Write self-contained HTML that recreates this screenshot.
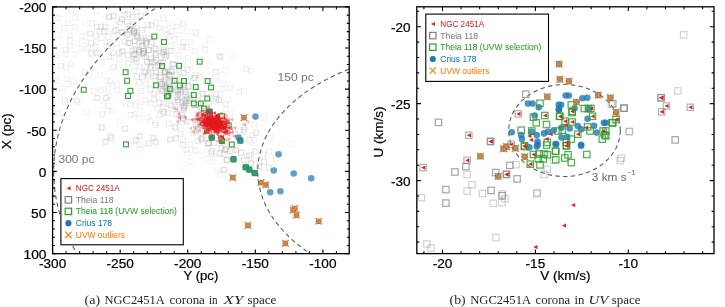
<!DOCTYPE html><html><head><meta charset="utf-8"><style>html,body{margin:0;padding:0;background:#fff;width:725px;height:307px;overflow:hidden}</style></head><body><svg width="725" height="307" viewBox="0 0 725 307" style="display:block;font-family:'Liberation Sans', sans-serif;will-change:transform">
<rect width="725" height="307" fill="#fff"/>
<g clip-path="url(#clipL)">
<clipPath id="clipL"><rect x="52.6" y="6.9" width="296.59999999999997" height="246.75"/></clipPath>
<path d="M658.34 171.40L658.31 173.53L658.22 175.65L658.07 177.78L657.85 179.90L657.58 182.02L657.25 184.14L656.85 186.26L656.39 188.36L655.88 190.47L655.30 192.57L654.66 194.66L653.97 196.74L653.21 198.82L652.39 200.89L651.52 202.95L650.58 205.00L649.59 207.04L648.54 209.07L647.43 211.08L646.26 213.09L645.04 215.08L643.76 217.06L642.42 219.03L641.03 220.98L639.58 222.91L638.07 224.84L636.51 226.74L634.90 228.63L633.23 230.50L631.51 232.35L629.73 234.18L627.91 235.99L626.03 237.79L624.10 239.56L622.12 241.32L620.09 243.05L618.01 244.76L615.88 246.45L613.71 248.11L611.48 249.75L609.21 251.37L606.90 252.96L604.53 254.53L602.13 256.08L599.68 257.59L597.18 259.08L594.65 260.55L592.07 261.99L589.45 263.39L586.80 264.78L584.10 266.13L581.36 267.45L578.59 268.75L575.78 270.01L572.93 271.25L570.05 272.46L567.14 273.63L564.19 274.77L561.21 275.88L558.20 276.96L555.15 278.01L552.08 279.03L548.98 280.01L545.85 280.96L542.70 281.87L539.52 282.76L536.31 283.60L533.08 284.42L529.83 285.20L526.55 285.94L523.26 286.65L519.94 287.33L516.61 287.97L513.26 288.57L509.89 289.14L506.51 289.67L503.11 290.17L499.69 290.63L496.27 291.05L492.83 291.44L489.38 291.79L485.93 292.11L482.46 292.39L478.99 292.63L475.51 292.83L472.02 293.00L468.53 293.13L465.04 293.22L461.55 293.28L458.05 293.29L454.55 293.28L451.06 293.22L447.57 293.13L444.08 293.00L440.59 292.83L437.11 292.63L433.64 292.39L430.17 292.11L426.72 291.79L423.27 291.44L419.83 291.05L416.41 290.63L412.99 290.17L409.59 289.67L406.21 289.14L402.84 288.57L399.49 287.97L396.16 287.33L392.84 286.65L389.55 285.94L386.27 285.20L383.02 284.42L379.79 283.60L376.58 282.76L373.40 281.87L370.25 280.96L367.12 280.01L364.02 279.03L360.95 278.01L357.90 276.96L354.89 275.88L351.91 274.77L348.96 273.63L346.05 272.46L343.17 271.25L340.32 270.01L337.51 268.75L334.74 267.45L332.00 266.13L329.30 264.78L326.65 263.39L324.03 261.99L321.45 260.55L318.92 259.08L316.42 257.59L313.97 256.08L311.57 254.53L309.20 252.96L306.89 251.37L304.62 249.75L302.39 248.11L300.22 246.45L298.09 244.76L296.01 243.05L293.98 241.32L292.00 239.56L290.07 237.79L288.19 235.99L286.37 234.18L284.59 232.35L282.87 230.50L281.20 228.63L279.59 226.74L278.03 224.84L276.52 222.91L275.07 220.98L273.68 219.03L272.34 217.06L271.06 215.08L269.84 213.09L268.67 211.08L267.56 209.07L266.51 207.04L265.52 205.00L264.58 202.95L263.71 200.89L262.89 198.82L262.13 196.74L261.44 194.66L260.80 192.57L260.22 190.47L259.71 188.36L259.25 186.26L258.85 184.14L258.52 182.02L258.25 179.90L258.03 177.78L257.88 175.65L257.79 173.53L257.76 171.40L257.79 169.27L257.88 167.15L258.03 165.02L258.25 162.90L258.52 160.78L258.85 158.66L259.25 156.54L259.71 154.44L260.22 152.33L260.80 150.23L261.44 148.14L262.13 146.06L262.89 143.98L263.71 141.91L264.58 139.85L265.52 137.80L266.51 135.76L267.56 133.73L268.67 131.72L269.84 129.71L271.06 127.72L272.34 125.74L273.68 123.77L275.07 121.82L276.52 119.89L278.03 117.96L279.59 116.06L281.20 114.17L282.87 112.30L284.59 110.45L286.37 108.62L288.19 106.81L290.07 105.01L292.00 103.24L293.98 101.48L296.01 99.75L298.09 98.04L300.22 96.35L302.39 94.69L304.62 93.05L306.89 91.43L309.20 89.84L311.57 88.27L313.97 86.72L316.42 85.21L318.92 83.72L321.45 82.25L324.03 80.81L326.65 79.41L329.30 78.02L332.00 76.67L334.74 75.35L337.51 74.05L340.32 72.79L343.17 71.55L346.05 70.34L348.96 69.17L351.91 68.03L354.89 66.92L357.90 65.84L360.95 64.79L364.02 63.77L367.12 62.79L370.25 61.84L373.40 60.93L376.58 60.04L379.79 59.20L383.02 58.38L386.27 57.60L389.55 56.86L392.84 56.15L396.16 55.47L399.49 54.83L402.84 54.23L406.21 53.66L409.59 53.13L412.99 52.63L416.41 52.17L419.83 51.75L423.27 51.36L426.72 51.01L430.17 50.69L433.64 50.41L437.11 50.17L440.59 49.97L444.08 49.80L447.57 49.67L451.06 49.58L454.55 49.52L458.05 49.51L461.55 49.52L465.04 49.58L468.53 49.67L472.02 49.80L475.51 49.97L478.99 50.17L482.46 50.41L485.93 50.69L489.38 51.01L492.83 51.36L496.27 51.75L499.69 52.17L503.11 52.63L506.51 53.13L509.89 53.66L513.26 54.23L516.61 54.83L519.94 55.47L523.26 56.15L526.55 56.86L529.83 57.60L533.08 58.38L536.31 59.20L539.52 60.04L542.70 60.93L545.85 61.84L548.98 62.79L552.08 63.77L555.15 64.79L558.20 65.84L561.21 66.92L564.19 68.03L567.14 69.17L570.05 70.34L572.93 71.55L575.78 72.79L578.59 74.05L581.36 75.35L584.10 76.67L586.80 78.02L589.45 79.41L592.07 80.81L594.65 82.25L597.18 83.72L599.68 85.21L602.13 86.72L604.53 88.27L606.90 89.84L609.21 91.43L611.48 93.05L613.71 94.69L615.88 96.35L618.01 98.04L620.09 99.75L622.12 101.48L624.10 103.24L626.03 105.01L627.91 106.81L629.73 108.62L631.51 110.45L633.23 112.30L634.90 114.17L636.51 116.06L638.07 117.96L639.58 119.89L641.03 121.82L642.42 123.77L643.76 125.74L645.04 127.72L646.26 129.71L647.43 131.72L648.54 133.73L649.59 135.76L650.58 137.80L651.52 139.85L652.39 141.91L653.21 143.98L653.97 146.06L654.66 148.14L655.30 150.23L655.88 152.33L656.39 154.44L656.85 156.54L657.25 158.66L657.58 160.78L657.85 162.90L658.07 165.02L658.22 167.15L658.31 169.27L658.34 171.40" fill="none" stroke="#555" stroke-width="1.05" stroke-dasharray="4.4 3.3"/>
<path d="M862.42 171.40L862.36 175.69L862.17 179.99L861.86 184.28L861.43 188.57L860.88 192.85L860.20 197.12L859.40 201.39L858.48 205.65L857.44 209.90L856.28 214.13L854.99 218.36L853.58 222.57L852.05 226.76L850.41 230.94L848.64 235.09L846.75 239.23L844.75 243.35L842.63 247.45L840.39 251.52L838.03 255.57L835.56 259.59L832.97 263.59L830.27 267.56L827.46 271.49L824.53 275.40L821.49 279.28L818.35 283.12L815.09 286.93L811.72 290.71L808.24 294.45L804.66 298.15L800.97 301.81L797.18 305.43L793.29 309.01L789.29 312.55L785.19 316.05L780.99 319.50L776.70 322.91L772.30 326.27L767.81 329.58L763.23 332.85L758.55 336.07L753.79 339.23L748.93 342.35L743.98 345.41L738.95 348.42L733.83 351.38L728.63 354.28L723.34 357.13L717.97 359.92L712.53 362.65L707.00 365.32L701.41 367.94L695.73 370.49L689.99 372.99L684.17 375.42L678.29 377.79L672.33 380.10L666.32 382.34L660.23 384.52L654.09 386.64L647.89 388.69L641.63 390.67L635.31 392.59L628.94 394.44L622.52 396.22L616.05 397.93L609.53 399.57L602.96 401.15L596.35 402.65L589.70 404.08L583.01 405.45L576.28 406.74L569.51 407.96L562.71 409.11L555.88 410.18L549.01 411.18L542.12 412.11L535.21 412.97L528.27 413.75L521.31 414.46L514.33 415.10L507.33 415.66L500.32 416.14L493.29 416.56L486.26 416.89L479.21 417.15L472.16 417.34L465.11 417.45L458.05 417.49L450.99 417.45L443.94 417.34L436.89 417.15L429.84 416.89L422.81 416.56L415.78 416.14L408.77 415.66L401.77 415.10L394.79 414.46L387.83 413.75L380.89 412.97L373.98 412.11L367.09 411.18L360.22 410.18L353.39 409.11L346.59 407.96L339.82 406.74L333.09 405.45L326.40 404.08L319.75 402.65L313.14 401.15L306.57 399.57L300.05 397.93L293.58 396.22L287.16 394.44L280.79 392.59L274.47 390.67L268.21 388.69L262.01 386.64L255.87 384.52L249.78 382.34L243.77 380.10L237.81 377.79L231.93 375.42L226.11 372.99L220.37 370.49L214.69 367.94L209.10 365.32L203.57 362.65L198.13 359.92L192.76 357.13L187.47 354.28L182.27 351.38L177.15 348.42L172.12 345.41L167.17 342.35L162.31 339.23L157.55 336.07L152.87 332.85L148.29 329.58L143.80 326.27L139.40 322.91L135.11 319.50L130.91 316.05L126.81 312.55L122.81 309.01L118.92 305.43L115.13 301.81L111.44 298.15L107.86 294.45L104.38 290.71L101.01 286.93L97.75 283.12L94.61 279.28L91.57 275.40L88.64 271.49L85.83 267.56L83.13 263.59L80.54 259.59L78.07 255.57L75.71 251.52L73.47 247.45L71.35 243.35L69.35 239.23L67.46 235.09L65.69 230.94L64.05 226.76L62.52 222.57L61.11 218.36L59.82 214.13L58.66 209.90L57.62 205.65L56.70 201.39L55.90 197.12L55.22 192.85L54.67 188.57L54.24 184.28L53.93 179.99L53.74 175.69L53.68 171.40L53.74 167.11L53.93 162.81L54.24 158.52L54.67 154.23L55.22 149.95L55.90 145.68L56.70 141.41L57.62 137.15L58.66 132.90L59.82 128.67L61.11 124.44L62.52 120.23L64.05 116.04L65.69 111.86L67.46 107.71L69.35 103.57L71.35 99.45L73.47 95.35L75.71 91.28L78.07 87.23L80.54 83.21L83.13 79.21L85.83 75.24L88.64 71.31L91.57 67.40L94.61 63.52L97.75 59.68L101.01 55.87L104.38 52.09L107.86 48.35L111.44 44.65L115.13 40.99L118.92 37.37L122.81 33.79L126.81 30.25L130.91 26.75L135.11 23.30L139.40 19.89L143.80 16.53L148.29 13.22L152.87 9.95L157.55 6.73L162.31 3.57L167.17 0.45L172.12 -2.61L177.15 -5.62L182.27 -8.58L187.47 -11.48L192.76 -14.33L198.13 -17.12L203.57 -19.85L209.10 -22.52L214.69 -25.14L220.37 -27.69L226.11 -30.19L231.93 -32.62L237.81 -34.99L243.77 -37.30L249.78 -39.54L255.87 -41.72L262.01 -43.84L268.21 -45.89L274.47 -47.87L280.79 -49.79L287.16 -51.64L293.58 -53.42L300.05 -55.13L306.57 -56.77L313.14 -58.35L319.75 -59.85L326.40 -61.28L333.09 -62.65L339.82 -63.94L346.59 -65.16L353.39 -66.31L360.22 -67.38L367.09 -68.38L373.98 -69.31L380.89 -70.17L387.83 -70.95L394.79 -71.66L401.77 -72.30L408.77 -72.86L415.78 -73.34L422.81 -73.76L429.84 -74.09L436.89 -74.35L443.94 -74.54L450.99 -74.65L458.05 -74.69L465.11 -74.65L472.16 -74.54L479.21 -74.35L486.26 -74.09L493.29 -73.76L500.32 -73.34L507.33 -72.86L514.33 -72.30L521.31 -71.66L528.27 -70.95L535.21 -70.17L542.12 -69.31L549.01 -68.38L555.88 -67.38L562.71 -66.31L569.51 -65.16L576.28 -63.94L583.01 -62.65L589.70 -61.28L596.35 -59.85L602.96 -58.35L609.53 -56.77L616.05 -55.13L622.52 -53.42L628.94 -51.64L635.31 -49.79L641.63 -47.87L647.89 -45.89L654.09 -43.84L660.23 -41.72L666.32 -39.54L672.33 -37.30L678.29 -34.99L684.17 -32.62L689.99 -30.19L695.73 -27.69L701.41 -25.14L707.00 -22.52L712.53 -19.85L717.97 -17.12L723.34 -14.33L728.63 -11.48L733.83 -8.58L738.95 -5.62L743.98 -2.61L748.93 0.45L753.79 3.57L758.55 6.73L763.23 9.95L767.81 13.22L772.30 16.53L776.70 19.89L780.99 23.30L785.19 26.75L789.29 30.25L793.29 33.79L797.18 37.37L800.97 40.99L804.66 44.65L808.24 48.35L811.72 52.09L815.09 55.87L818.35 59.68L821.49 63.52L824.53 67.40L827.46 71.31L830.27 75.24L832.97 79.21L835.56 83.21L838.03 87.23L840.39 91.28L842.63 95.35L844.75 99.45L846.75 103.57L848.64 107.71L850.41 111.86L852.05 116.04L853.58 120.23L854.99 124.44L856.28 128.67L857.44 132.90L858.48 137.15L859.40 141.41L860.20 145.68L860.88 149.95L861.43 154.23L861.86 158.52L862.17 162.81L862.36 167.11L862.42 171.40" fill="none" stroke="#555" stroke-width="1.05" stroke-dasharray="4.4 3.3"/>
</g>
<rect x="55.8" y="15.7" width="4.8" height="4.8" fill="none" stroke="#7f7f7f" stroke-opacity="0.11" stroke-width="1.1"/>
<rect x="72.4" y="15.2" width="4.8" height="4.8" fill="none" stroke="#7f7f7f" stroke-opacity="0.12" stroke-width="1.1"/>
<rect x="65.1" y="20.9" width="4.8" height="4.8" fill="none" stroke="#7f7f7f" stroke-opacity="0.12" stroke-width="1.1"/>
<rect x="61.8" y="25.8" width="4.8" height="4.8" fill="none" stroke="#7f7f7f" stroke-opacity="0.10" stroke-width="1.1"/>
<rect x="72.4" y="24.5" width="4.8" height="4.8" fill="none" stroke="#7f7f7f" stroke-opacity="0.09" stroke-width="1.1"/>
<rect x="89.6" y="20.9" width="4.8" height="4.8" fill="none" stroke="#7f7f7f" stroke-opacity="0.14" stroke-width="1.1"/>
<rect x="94.4" y="24.5" width="4.8" height="4.8" fill="none" stroke="#7f7f7f" stroke-opacity="0.15" stroke-width="1.1"/>
<rect x="98.5" y="24.2" width="4.8" height="4.8" fill="none" stroke="#7f7f7f" stroke-opacity="0.18" stroke-width="1.1"/>
<rect x="102.6" y="24.2" width="4.8" height="4.8" fill="none" stroke="#7f7f7f" stroke-opacity="0.20" stroke-width="1.1"/>
<rect x="96.9" y="29.1" width="4.8" height="4.8" fill="none" stroke="#7f7f7f" stroke-opacity="0.15" stroke-width="1.1"/>
<rect x="101.8" y="29.1" width="4.8" height="4.8" fill="none" stroke="#7f7f7f" stroke-opacity="0.17" stroke-width="1.1"/>
<rect x="106.7" y="14.4" width="4.8" height="4.8" fill="none" stroke="#7f7f7f" stroke-opacity="0.25" stroke-width="1.1"/>
<rect x="55.3" y="32.0" width="4.8" height="4.8" fill="none" stroke="#7f7f7f" stroke-opacity="0.10" stroke-width="1.1"/>
<rect x="67.5" y="33.1" width="4.8" height="4.8" fill="none" stroke="#7f7f7f" stroke-opacity="0.11" stroke-width="1.1"/>
<rect x="79.8" y="33.9" width="4.8" height="4.8" fill="none" stroke="#7f7f7f" stroke-opacity="0.10" stroke-width="1.1"/>
<rect x="87.9" y="31.5" width="4.8" height="4.8" fill="none" stroke="#7f7f7f" stroke-opacity="0.14" stroke-width="1.1"/>
<rect x="93.6" y="33.1" width="4.8" height="4.8" fill="none" stroke="#7f7f7f" stroke-opacity="0.11" stroke-width="1.1"/>
<rect x="99.3" y="35.6" width="4.8" height="4.8" fill="none" stroke="#7f7f7f" stroke-opacity="0.15" stroke-width="1.1"/>
<rect x="105.9" y="34.8" width="4.8" height="4.8" fill="none" stroke="#7f7f7f" stroke-opacity="0.15" stroke-width="1.1"/>
<rect x="67.5" y="38.0" width="4.8" height="4.8" fill="none" stroke="#7f7f7f" stroke-opacity="0.12" stroke-width="1.1"/>
<rect x="74.9" y="41.3" width="4.8" height="4.8" fill="none" stroke="#7f7f7f" stroke-opacity="0.10" stroke-width="1.1"/>
<rect x="83.0" y="38.8" width="4.8" height="4.8" fill="none" stroke="#7f7f7f" stroke-opacity="0.11" stroke-width="1.1"/>
<rect x="88.7" y="40.5" width="4.8" height="4.8" fill="none" stroke="#7f7f7f" stroke-opacity="0.13" stroke-width="1.1"/>
<rect x="93.6" y="39.6" width="4.8" height="4.8" fill="none" stroke="#7f7f7f" stroke-opacity="0.10" stroke-width="1.1"/>
<rect x="67.5" y="43.7" width="4.8" height="4.8" fill="none" stroke="#7f7f7f" stroke-opacity="0.09" stroke-width="1.1"/>
<rect x="92.8" y="44.6" width="4.8" height="4.8" fill="none" stroke="#7f7f7f" stroke-opacity="0.13" stroke-width="1.1"/>
<rect x="63.5" y="47.3" width="4.8" height="4.8" fill="none" stroke="#7f7f7f" stroke-opacity="0.11" stroke-width="1.1"/>
<rect x="78.9" y="46.2" width="4.8" height="4.8" fill="none" stroke="#7f7f7f" stroke-opacity="0.09" stroke-width="1.1"/>
<rect x="85.5" y="45.4" width="4.8" height="4.8" fill="none" stroke="#7f7f7f" stroke-opacity="0.13" stroke-width="1.1"/>
<rect x="104.2" y="43.7" width="4.8" height="4.8" fill="none" stroke="#7f7f7f" stroke-opacity="0.15" stroke-width="1.1"/>
<rect x="107.5" y="41.3" width="4.8" height="4.8" fill="none" stroke="#7f7f7f" stroke-opacity="0.13" stroke-width="1.1"/>
<rect x="53.7" y="52.7" width="4.8" height="4.8" fill="none" stroke="#7f7f7f" stroke-opacity="0.11" stroke-width="1.1"/>
<rect x="72.4" y="51.9" width="4.8" height="4.8" fill="none" stroke="#7f7f7f" stroke-opacity="0.10" stroke-width="1.1"/>
<rect x="88.7" y="51.1" width="4.8" height="4.8" fill="none" stroke="#7f7f7f" stroke-opacity="0.10" stroke-width="1.1"/>
<rect x="95.3" y="51.1" width="4.8" height="4.8" fill="none" stroke="#7f7f7f" stroke-opacity="0.12" stroke-width="1.1"/>
<rect x="111.1" y="13.6" width="4.8" height="4.8" fill="none" stroke="#7f7f7f" stroke-opacity="0.24" stroke-width="1.1"/>
<rect x="119.3" y="16.8" width="4.8" height="4.8" fill="none" stroke="#7f7f7f" stroke-opacity="0.26" stroke-width="1.1"/>
<rect x="125.8" y="11.9" width="4.8" height="4.8" fill="none" stroke="#7f7f7f" stroke-opacity="0.20" stroke-width="1.1"/>
<rect x="133.9" y="9.5" width="4.8" height="4.8" fill="none" stroke="#7f7f7f" stroke-opacity="0.16" stroke-width="1.1"/>
<rect x="138.8" y="13.6" width="4.8" height="4.8" fill="none" stroke="#7f7f7f" stroke-opacity="0.18" stroke-width="1.1"/>
<rect x="111.9" y="29.1" width="4.8" height="4.8" fill="none" stroke="#7f7f7f" stroke-opacity="0.21" stroke-width="1.1"/>
<rect x="119.3" y="29.9" width="4.8" height="4.8" fill="none" stroke="#7f7f7f" stroke-opacity="0.23" stroke-width="1.1"/>
<rect x="125.0" y="32.3" width="4.8" height="4.8" fill="none" stroke="#7f7f7f" stroke-opacity="0.25" stroke-width="1.1"/>
<rect x="131.5" y="29.9" width="4.8" height="4.8" fill="none" stroke="#7f7f7f" stroke-opacity="0.25" stroke-width="1.1"/>
<rect x="134.8" y="33.1" width="4.8" height="4.8" fill="none" stroke="#7f7f7f" stroke-opacity="0.24" stroke-width="1.1"/>
<rect x="139.6" y="27.4" width="4.8" height="4.8" fill="none" stroke="#7f7f7f" stroke-opacity="0.19" stroke-width="1.1"/>
<rect x="145.4" y="22.5" width="4.8" height="4.8" fill="none" stroke="#7f7f7f" stroke-opacity="0.18" stroke-width="1.1"/>
<rect x="153.5" y="20.1" width="4.8" height="4.8" fill="none" stroke="#7f7f7f" stroke-opacity="0.15" stroke-width="1.1"/>
<rect x="156.8" y="25.8" width="4.8" height="4.8" fill="none" stroke="#7f7f7f" stroke-opacity="0.16" stroke-width="1.1"/>
<rect x="160.9" y="16.0" width="4.8" height="4.8" fill="none" stroke="#7f7f7f" stroke-opacity="0.12" stroke-width="1.1"/>
<rect x="114.4" y="41.3" width="4.8" height="4.8" fill="none" stroke="#7f7f7f" stroke-opacity="0.17" stroke-width="1.1"/>
<rect x="125.8" y="40.5" width="4.8" height="4.8" fill="none" stroke="#7f7f7f" stroke-opacity="0.22" stroke-width="1.1"/>
<rect x="132.3" y="38.8" width="4.8" height="4.8" fill="none" stroke="#7f7f7f" stroke-opacity="0.26" stroke-width="1.1"/>
<rect x="139.6" y="43.7" width="4.8" height="4.8" fill="none" stroke="#7f7f7f" stroke-opacity="0.26" stroke-width="1.1"/>
<rect x="143.7" y="41.3" width="4.8" height="4.8" fill="none" stroke="#7f7f7f" stroke-opacity="0.23" stroke-width="1.1"/>
<rect x="136.4" y="47.8" width="4.8" height="4.8" fill="none" stroke="#7f7f7f" stroke-opacity="0.23" stroke-width="1.1"/>
<rect x="141.3" y="48.6" width="4.8" height="4.8" fill="none" stroke="#7f7f7f" stroke-opacity="0.24" stroke-width="1.1"/>
<rect x="146.2" y="47.8" width="4.8" height="4.8" fill="none" stroke="#7f7f7f" stroke-opacity="0.25" stroke-width="1.1"/>
<rect x="149.4" y="39.6" width="4.8" height="4.8" fill="none" stroke="#7f7f7f" stroke-opacity="0.23" stroke-width="1.1"/>
<rect x="131.5" y="51.9" width="4.8" height="4.8" fill="none" stroke="#7f7f7f" stroke-opacity="0.21" stroke-width="1.1"/>
<rect x="153.5" y="46.2" width="4.8" height="4.8" fill="none" stroke="#7f7f7f" stroke-opacity="0.20" stroke-width="1.1"/>
<rect x="160.0" y="50.3" width="4.8" height="4.8" fill="none" stroke="#7f7f7f" stroke-opacity="0.22" stroke-width="1.1"/>
<rect x="106.2" y="43.7" width="4.8" height="4.8" fill="none" stroke="#7f7f7f" stroke-opacity="0.14" stroke-width="1.1"/>
<rect x="111.1" y="50.3" width="4.8" height="4.8" fill="none" stroke="#7f7f7f" stroke-opacity="0.14" stroke-width="1.1"/>
<rect x="119.3" y="49.4" width="4.8" height="4.8" fill="none" stroke="#7f7f7f" stroke-opacity="0.16" stroke-width="1.1"/>
<rect x="166.1" y="20.9" width="4.8" height="4.8" fill="none" stroke="#7f7f7f" stroke-opacity="0.11" stroke-width="1.1"/>
<rect x="180.8" y="20.9" width="4.8" height="4.8" fill="none" stroke="#7f7f7f" stroke-opacity="0.11" stroke-width="1.1"/>
<rect x="174.3" y="24.2" width="4.8" height="4.8" fill="none" stroke="#7f7f7f" stroke-opacity="0.12" stroke-width="1.1"/>
<rect x="162.9" y="27.4" width="4.8" height="4.8" fill="none" stroke="#7f7f7f" stroke-opacity="0.11" stroke-width="1.1"/>
<rect x="169.4" y="29.1" width="4.8" height="4.8" fill="none" stroke="#7f7f7f" stroke-opacity="0.12" stroke-width="1.1"/>
<rect x="184.9" y="29.1" width="4.8" height="4.8" fill="none" stroke="#7f7f7f" stroke-opacity="0.10" stroke-width="1.1"/>
<rect x="193.0" y="29.9" width="4.8" height="4.8" fill="none" stroke="#7f7f7f" stroke-opacity="0.12" stroke-width="1.1"/>
<rect x="176.7" y="32.3" width="4.8" height="4.8" fill="none" stroke="#7f7f7f" stroke-opacity="0.10" stroke-width="1.1"/>
<rect x="166.9" y="33.9" width="4.8" height="4.8" fill="none" stroke="#7f7f7f" stroke-opacity="0.12" stroke-width="1.1"/>
<rect x="172.6" y="37.2" width="4.8" height="4.8" fill="none" stroke="#7f7f7f" stroke-opacity="0.12" stroke-width="1.1"/>
<rect x="180.8" y="39.7" width="4.8" height="4.8" fill="none" stroke="#7f7f7f" stroke-opacity="0.12" stroke-width="1.1"/>
<rect x="188.1" y="39.7" width="4.8" height="4.8" fill="none" stroke="#7f7f7f" stroke-opacity="0.09" stroke-width="1.1"/>
<rect x="169.4" y="43.7" width="4.8" height="4.8" fill="none" stroke="#7f7f7f" stroke-opacity="0.15" stroke-width="1.1"/>
<rect x="180.8" y="44.6" width="4.8" height="4.8" fill="none" stroke="#7f7f7f" stroke-opacity="0.11" stroke-width="1.1"/>
<rect x="202.8" y="42.1" width="4.8" height="4.8" fill="none" stroke="#7f7f7f" stroke-opacity="0.10" stroke-width="1.1"/>
<rect x="168.6" y="48.6" width="4.8" height="4.8" fill="none" stroke="#7f7f7f" stroke-opacity="0.16" stroke-width="1.1"/>
<rect x="192.2" y="48.6" width="4.8" height="4.8" fill="none" stroke="#7f7f7f" stroke-opacity="0.13" stroke-width="1.1"/>
<rect x="202.8" y="47.0" width="4.8" height="4.8" fill="none" stroke="#7f7f7f" stroke-opacity="0.11" stroke-width="1.1"/>
<rect x="161.2" y="49.4" width="4.8" height="4.8" fill="none" stroke="#7f7f7f" stroke-opacity="0.22" stroke-width="1.1"/>
<rect x="175.9" y="52.7" width="4.8" height="4.8" fill="none" stroke="#7f7f7f" stroke-opacity="0.14" stroke-width="1.1"/>
<rect x="216.7" y="53.5" width="4.8" height="4.8" fill="none" stroke="#7f7f7f" stroke-opacity="0.13" stroke-width="1.1"/>
<rect x="63.5" y="52.0" width="4.8" height="4.8" fill="none" stroke="#7f7f7f" stroke-opacity="0.10" stroke-width="1.1"/>
<rect x="58.6" y="63.5" width="4.8" height="4.8" fill="none" stroke="#7f7f7f" stroke-opacity="0.10" stroke-width="1.1"/>
<rect x="63.5" y="65.1" width="4.8" height="4.8" fill="none" stroke="#7f7f7f" stroke-opacity="0.12" stroke-width="1.1"/>
<rect x="69.2" y="61.8" width="4.8" height="4.8" fill="none" stroke="#7f7f7f" stroke-opacity="0.13" stroke-width="1.1"/>
<rect x="88.7" y="51.2" width="4.8" height="4.8" fill="none" stroke="#7f7f7f" stroke-opacity="0.09" stroke-width="1.1"/>
<rect x="94.4" y="50.4" width="4.8" height="4.8" fill="none" stroke="#7f7f7f" stroke-opacity="0.10" stroke-width="1.1"/>
<rect x="106.7" y="53.7" width="4.8" height="4.8" fill="none" stroke="#7f7f7f" stroke-opacity="0.13" stroke-width="1.1"/>
<rect x="100.1" y="59.4" width="4.8" height="4.8" fill="none" stroke="#7f7f7f" stroke-opacity="0.11" stroke-width="1.1"/>
<rect x="54.5" y="78.1" width="4.8" height="4.8" fill="none" stroke="#7f7f7f" stroke-opacity="0.10" stroke-width="1.1"/>
<rect x="64.3" y="76.5" width="4.8" height="4.8" fill="none" stroke="#7f7f7f" stroke-opacity="0.09" stroke-width="1.1"/>
<rect x="70.8" y="78.9" width="4.8" height="4.8" fill="none" stroke="#7f7f7f" stroke-opacity="0.09" stroke-width="1.1"/>
<rect x="65.9" y="81.4" width="4.8" height="4.8" fill="none" stroke="#7f7f7f" stroke-opacity="0.11" stroke-width="1.1"/>
<rect x="82.2" y="70.0" width="4.8" height="4.8" fill="none" stroke="#7f7f7f" stroke-opacity="0.13" stroke-width="1.1"/>
<rect x="86.3" y="73.2" width="4.8" height="4.8" fill="none" stroke="#7f7f7f" stroke-opacity="0.13" stroke-width="1.1"/>
<rect x="97.7" y="72.4" width="4.8" height="4.8" fill="none" stroke="#7f7f7f" stroke-opacity="0.11" stroke-width="1.1"/>
<rect x="104.2" y="78.1" width="4.8" height="4.8" fill="none" stroke="#7f7f7f" stroke-opacity="0.09" stroke-width="1.1"/>
<rect x="59.4" y="86.3" width="4.8" height="4.8" fill="none" stroke="#7f7f7f" stroke-opacity="0.10" stroke-width="1.1"/>
<rect x="91.2" y="88.7" width="4.8" height="4.8" fill="none" stroke="#7f7f7f" stroke-opacity="0.12" stroke-width="1.1"/>
<rect x="98.5" y="87.9" width="4.8" height="4.8" fill="none" stroke="#7f7f7f" stroke-opacity="0.12" stroke-width="1.1"/>
<rect x="105.9" y="86.3" width="4.8" height="4.8" fill="none" stroke="#7f7f7f" stroke-opacity="0.12" stroke-width="1.1"/>
<rect x="62.6" y="97.7" width="4.8" height="4.8" fill="none" stroke="#7f7f7f" stroke-opacity="0.10" stroke-width="1.1"/>
<rect x="74.9" y="97.7" width="4.8" height="4.8" fill="none" stroke="#7f7f7f" stroke-opacity="0.11" stroke-width="1.1"/>
<rect x="93.6" y="95.3" width="4.8" height="4.8" fill="none" stroke="#7f7f7f" stroke-opacity="0.11" stroke-width="1.1"/>
<rect x="103.4" y="95.3" width="4.8" height="4.8" fill="none" stroke="#7f7f7f" stroke-opacity="0.12" stroke-width="1.1"/>
<rect x="108.7" y="54.5" width="4.8" height="4.8" fill="none" stroke="#7f7f7f" stroke-opacity="0.11" stroke-width="1.1"/>
<rect x="116.8" y="56.9" width="4.8" height="4.8" fill="none" stroke="#7f7f7f" stroke-opacity="0.15" stroke-width="1.1"/>
<rect x="125.8" y="52.9" width="4.8" height="4.8" fill="none" stroke="#7f7f7f" stroke-opacity="0.20" stroke-width="1.1"/>
<rect x="133.1" y="52.0" width="4.8" height="4.8" fill="none" stroke="#7f7f7f" stroke-opacity="0.20" stroke-width="1.1"/>
<rect x="140.5" y="51.2" width="4.8" height="4.8" fill="none" stroke="#7f7f7f" stroke-opacity="0.24" stroke-width="1.1"/>
<rect x="144.6" y="59.4" width="4.8" height="4.8" fill="none" stroke="#7f7f7f" stroke-opacity="0.25" stroke-width="1.1"/>
<rect x="148.6" y="56.1" width="4.8" height="4.8" fill="none" stroke="#7f7f7f" stroke-opacity="0.24" stroke-width="1.1"/>
<rect x="153.5" y="52.9" width="4.8" height="4.8" fill="none" stroke="#7f7f7f" stroke-opacity="0.26" stroke-width="1.1"/>
<rect x="163.3" y="54.5" width="4.8" height="4.8" fill="none" stroke="#7f7f7f" stroke-opacity="0.21" stroke-width="1.1"/>
<rect x="111.1" y="64.3" width="4.8" height="4.8" fill="none" stroke="#7f7f7f" stroke-opacity="0.12" stroke-width="1.1"/>
<rect x="125.8" y="61.0" width="4.8" height="4.8" fill="none" stroke="#7f7f7f" stroke-opacity="0.16" stroke-width="1.1"/>
<rect x="137.2" y="64.3" width="4.8" height="4.8" fill="none" stroke="#7f7f7f" stroke-opacity="0.18" stroke-width="1.1"/>
<rect x="131.5" y="68.4" width="4.8" height="4.8" fill="none" stroke="#7f7f7f" stroke-opacity="0.14" stroke-width="1.1"/>
<rect x="142.1" y="69.2" width="4.8" height="4.8" fill="none" stroke="#7f7f7f" stroke-opacity="0.18" stroke-width="1.1"/>
<rect x="147.8" y="65.9" width="4.8" height="4.8" fill="none" stroke="#7f7f7f" stroke-opacity="0.24" stroke-width="1.1"/>
<rect x="153.5" y="70.0" width="4.8" height="4.8" fill="none" stroke="#7f7f7f" stroke-opacity="0.24" stroke-width="1.1"/>
<rect x="162.5" y="69.2" width="4.8" height="4.8" fill="none" stroke="#7f7f7f" stroke-opacity="0.23" stroke-width="1.1"/>
<rect x="134.8" y="74.1" width="4.8" height="4.8" fill="none" stroke="#7f7f7f" stroke-opacity="0.16" stroke-width="1.1"/>
<rect x="139.7" y="74.9" width="4.8" height="4.8" fill="none" stroke="#7f7f7f" stroke-opacity="0.16" stroke-width="1.1"/>
<rect x="145.4" y="74.1" width="4.8" height="4.8" fill="none" stroke="#7f7f7f" stroke-opacity="0.18" stroke-width="1.1"/>
<rect x="158.4" y="74.9" width="4.8" height="4.8" fill="none" stroke="#7f7f7f" stroke-opacity="0.24" stroke-width="1.1"/>
<rect x="107.9" y="78.9" width="4.8" height="4.8" fill="none" stroke="#7f7f7f" stroke-opacity="0.13" stroke-width="1.1"/>
<rect x="114.4" y="81.4" width="4.8" height="4.8" fill="none" stroke="#7f7f7f" stroke-opacity="0.11" stroke-width="1.1"/>
<rect x="136.4" y="79.8" width="4.8" height="4.8" fill="none" stroke="#7f7f7f" stroke-opacity="0.14" stroke-width="1.1"/>
<rect x="143.7" y="81.4" width="4.8" height="4.8" fill="none" stroke="#7f7f7f" stroke-opacity="0.17" stroke-width="1.1"/>
<rect x="160.0" y="81.4" width="4.8" height="4.8" fill="none" stroke="#7f7f7f" stroke-opacity="0.24" stroke-width="1.1"/>
<rect x="115.2" y="87.9" width="4.8" height="4.8" fill="none" stroke="#7f7f7f" stroke-opacity="0.12" stroke-width="1.1"/>
<rect x="138.8" y="88.7" width="4.8" height="4.8" fill="none" stroke="#7f7f7f" stroke-opacity="0.12" stroke-width="1.1"/>
<rect x="147.8" y="87.1" width="4.8" height="4.8" fill="none" stroke="#7f7f7f" stroke-opacity="0.15" stroke-width="1.1"/>
<rect x="151.9" y="91.2" width="4.8" height="4.8" fill="none" stroke="#7f7f7f" stroke-opacity="0.17" stroke-width="1.1"/>
<rect x="160.0" y="88.7" width="4.8" height="4.8" fill="none" stroke="#7f7f7f" stroke-opacity="0.21" stroke-width="1.1"/>
<rect x="106.2" y="93.6" width="4.8" height="4.8" fill="none" stroke="#7f7f7f" stroke-opacity="0.11" stroke-width="1.1"/>
<rect x="133.9" y="95.3" width="4.8" height="4.8" fill="none" stroke="#7f7f7f" stroke-opacity="0.11" stroke-width="1.1"/>
<rect x="151.9" y="96.9" width="4.8" height="4.8" fill="none" stroke="#7f7f7f" stroke-opacity="0.13" stroke-width="1.1"/>
<rect x="142.9" y="97.7" width="4.8" height="4.8" fill="none" stroke="#7f7f7f" stroke-opacity="0.13" stroke-width="1.1"/>
<rect x="164.5" y="52.9" width="4.8" height="4.8" fill="none" stroke="#7f7f7f" stroke-opacity="0.20" stroke-width="1.1"/>
<rect x="185.7" y="55.3" width="4.8" height="4.8" fill="none" stroke="#7f7f7f" stroke-opacity="0.11" stroke-width="1.1"/>
<rect x="217.5" y="54.5" width="4.8" height="4.8" fill="none" stroke="#7f7f7f" stroke-opacity="0.12" stroke-width="1.1"/>
<rect x="184.9" y="67.5" width="4.8" height="4.8" fill="none" stroke="#7f7f7f" stroke-opacity="0.18" stroke-width="1.1"/>
<rect x="168.6" y="69.2" width="4.8" height="4.8" fill="none" stroke="#7f7f7f" stroke-opacity="0.25" stroke-width="1.1"/>
<rect x="162.9" y="70.0" width="4.8" height="4.8" fill="none" stroke="#7f7f7f" stroke-opacity="0.27" stroke-width="1.1"/>
<rect x="166.9" y="72.4" width="4.8" height="4.8" fill="none" stroke="#7f7f7f" stroke-opacity="0.26" stroke-width="1.1"/>
<rect x="213.4" y="70.0" width="4.8" height="4.8" fill="none" stroke="#7f7f7f" stroke-opacity="0.11" stroke-width="1.1"/>
<rect x="192.2" y="75.7" width="4.8" height="4.8" fill="none" stroke="#7f7f7f" stroke-opacity="0.18" stroke-width="1.1"/>
<rect x="197.9" y="74.1" width="4.8" height="4.8" fill="none" stroke="#7f7f7f" stroke-opacity="0.14" stroke-width="1.1"/>
<rect x="174.3" y="72.4" width="4.8" height="4.8" fill="none" stroke="#7f7f7f" stroke-opacity="0.21" stroke-width="1.1"/>
<rect x="162.0" y="78.9" width="4.8" height="4.8" fill="none" stroke="#7f7f7f" stroke-opacity="0.23" stroke-width="1.1"/>
<rect x="200.4" y="91.2" width="4.8" height="4.8" fill="none" stroke="#7f7f7f" stroke-opacity="0.18" stroke-width="1.1"/>
<rect x="213.4" y="92.0" width="4.8" height="4.8" fill="none" stroke="#7f7f7f" stroke-opacity="0.16" stroke-width="1.1"/>
<rect x="175.9" y="92.0" width="4.8" height="4.8" fill="none" stroke="#7f7f7f" stroke-opacity="0.25" stroke-width="1.1"/>
<rect x="183.2" y="89.6" width="4.8" height="4.8" fill="none" stroke="#7f7f7f" stroke-opacity="0.25" stroke-width="1.1"/>
<rect x="175.1" y="97.7" width="4.8" height="4.8" fill="none" stroke="#7f7f7f" stroke-opacity="0.23" stroke-width="1.1"/>
<rect x="184.1" y="96.9" width="4.8" height="4.8" fill="none" stroke="#7f7f7f" stroke-opacity="0.23" stroke-width="1.1"/>
<rect x="195.5" y="97.7" width="4.8" height="4.8" fill="none" stroke="#7f7f7f" stroke-opacity="0.23" stroke-width="1.1"/>
<rect x="216.7" y="97.7" width="4.8" height="4.8" fill="none" stroke="#7f7f7f" stroke-opacity="0.15" stroke-width="1.1"/>
<rect x="62.6" y="99.5" width="4.8" height="4.8" fill="none" stroke="#7f7f7f" stroke-opacity="0.11" stroke-width="1.1"/>
<rect x="74.9" y="99.5" width="4.8" height="4.8" fill="none" stroke="#7f7f7f" stroke-opacity="0.10" stroke-width="1.1"/>
<rect x="56.1" y="110.9" width="4.8" height="4.8" fill="none" stroke="#7f7f7f" stroke-opacity="0.11" stroke-width="1.1"/>
<rect x="83.8" y="110.1" width="4.8" height="4.8" fill="none" stroke="#7f7f7f" stroke-opacity="0.10" stroke-width="1.1"/>
<rect x="95.3" y="95.4" width="4.8" height="4.8" fill="none" stroke="#7f7f7f" stroke-opacity="0.12" stroke-width="1.1"/>
<rect x="104.2" y="95.4" width="4.8" height="4.8" fill="none" stroke="#7f7f7f" stroke-opacity="0.10" stroke-width="1.1"/>
<rect x="101.0" y="102.8" width="4.8" height="4.8" fill="none" stroke="#7f7f7f" stroke-opacity="0.09" stroke-width="1.1"/>
<rect x="105.0" y="108.5" width="4.8" height="4.8" fill="none" stroke="#7f7f7f" stroke-opacity="0.10" stroke-width="1.1"/>
<rect x="100.1" y="111.7" width="4.8" height="4.8" fill="none" stroke="#7f7f7f" stroke-opacity="0.12" stroke-width="1.1"/>
<rect x="99.3" y="125.3" width="4.8" height="4.8" fill="none" stroke="#7f7f7f" stroke-opacity="0.12" stroke-width="1.1"/>
<rect x="103.4" y="139.4" width="4.8" height="4.8" fill="none" stroke="#7f7f7f" stroke-opacity="0.12" stroke-width="1.1"/>
<rect x="107.5" y="133.7" width="4.8" height="4.8" fill="none" stroke="#7f7f7f" stroke-opacity="0.13" stroke-width="1.1"/>
<rect x="106.2" y="103.6" width="4.8" height="4.8" fill="none" stroke="#7f7f7f" stroke-opacity="0.10" stroke-width="1.1"/>
<rect x="110.3" y="108.5" width="4.8" height="4.8" fill="none" stroke="#7f7f7f" stroke-opacity="0.09" stroke-width="1.1"/>
<rect x="123.4" y="100.3" width="4.8" height="4.8" fill="none" stroke="#7f7f7f" stroke-opacity="0.11" stroke-width="1.1"/>
<rect x="127.4" y="101.9" width="4.8" height="4.8" fill="none" stroke="#7f7f7f" stroke-opacity="0.11" stroke-width="1.1"/>
<rect x="133.9" y="102.8" width="4.8" height="4.8" fill="none" stroke="#7f7f7f" stroke-opacity="0.10" stroke-width="1.1"/>
<rect x="148.6" y="101.1" width="4.8" height="4.8" fill="none" stroke="#7f7f7f" stroke-opacity="0.13" stroke-width="1.1"/>
<rect x="155.1" y="106.0" width="4.8" height="4.8" fill="none" stroke="#7f7f7f" stroke-opacity="0.12" stroke-width="1.1"/>
<rect x="160.9" y="104.4" width="4.8" height="4.8" fill="none" stroke="#7f7f7f" stroke-opacity="0.13" stroke-width="1.1"/>
<rect x="158.4" y="111.7" width="4.8" height="4.8" fill="none" stroke="#7f7f7f" stroke-opacity="0.12" stroke-width="1.1"/>
<rect x="128.2" y="112.5" width="4.8" height="4.8" fill="none" stroke="#7f7f7f" stroke-opacity="0.13" stroke-width="1.1"/>
<rect x="133.9" y="110.9" width="4.8" height="4.8" fill="none" stroke="#7f7f7f" stroke-opacity="0.09" stroke-width="1.1"/>
<rect x="137.2" y="116.6" width="4.8" height="4.8" fill="none" stroke="#7f7f7f" stroke-opacity="0.10" stroke-width="1.1"/>
<rect x="145.4" y="115.0" width="4.8" height="4.8" fill="none" stroke="#7f7f7f" stroke-opacity="0.10" stroke-width="1.1"/>
<rect x="147.8" y="118.2" width="4.8" height="4.8" fill="none" stroke="#7f7f7f" stroke-opacity="0.10" stroke-width="1.1"/>
<rect x="153.5" y="120.7" width="4.8" height="4.8" fill="none" stroke="#7f7f7f" stroke-opacity="0.11" stroke-width="1.1"/>
<rect x="122.5" y="126.4" width="4.8" height="4.8" fill="none" stroke="#7f7f7f" stroke-opacity="0.10" stroke-width="1.1"/>
<rect x="108.7" y="135.4" width="4.8" height="4.8" fill="none" stroke="#7f7f7f" stroke-opacity="0.13" stroke-width="1.1"/>
<rect x="137.2" y="133.7" width="4.8" height="4.8" fill="none" stroke="#7f7f7f" stroke-opacity="0.11" stroke-width="1.1"/>
<rect x="133.9" y="137.8" width="4.8" height="4.8" fill="none" stroke="#7f7f7f" stroke-opacity="0.12" stroke-width="1.1"/>
<rect x="150.3" y="135.4" width="4.8" height="4.8" fill="none" stroke="#7f7f7f" stroke-opacity="0.10" stroke-width="1.1"/>
<rect x="146.2" y="141.1" width="4.8" height="4.8" fill="none" stroke="#7f7f7f" stroke-opacity="0.11" stroke-width="1.1"/>
<rect x="153.5" y="139.4" width="4.8" height="4.8" fill="none" stroke="#7f7f7f" stroke-opacity="0.11" stroke-width="1.1"/>
<rect x="161.2" y="101.1" width="4.8" height="4.8" fill="none" stroke="#7f7f7f" stroke-opacity="0.17" stroke-width="1.1"/>
<rect x="167.8" y="101.9" width="4.8" height="4.8" fill="none" stroke="#7f7f7f" stroke-opacity="0.17" stroke-width="1.1"/>
<rect x="175.9" y="99.5" width="4.8" height="4.8" fill="none" stroke="#7f7f7f" stroke-opacity="0.22" stroke-width="1.1"/>
<rect x="183.2" y="100.3" width="4.8" height="4.8" fill="none" stroke="#7f7f7f" stroke-opacity="0.26" stroke-width="1.1"/>
<rect x="166.1" y="110.9" width="4.8" height="4.8" fill="none" stroke="#7f7f7f" stroke-opacity="0.16" stroke-width="1.1"/>
<rect x="161.2" y="110.9" width="4.8" height="4.8" fill="none" stroke="#7f7f7f" stroke-opacity="0.12" stroke-width="1.1"/>
<rect x="172.6" y="125.6" width="4.8" height="4.8" fill="none" stroke="#7f7f7f" stroke-opacity="0.13" stroke-width="1.1"/>
<rect x="178.4" y="131.3" width="4.8" height="4.8" fill="none" stroke="#7f7f7f" stroke-opacity="0.14" stroke-width="1.1"/>
<rect x="167.8" y="137.0" width="4.8" height="4.8" fill="none" stroke="#7f7f7f" stroke-opacity="0.11" stroke-width="1.1"/>
<rect x="180.8" y="137.8" width="4.8" height="4.8" fill="none" stroke="#7f7f7f" stroke-opacity="0.13" stroke-width="1.1"/>
<rect x="195.5" y="138.6" width="4.8" height="4.8" fill="none" stroke="#7f7f7f" stroke-opacity="0.17" stroke-width="1.1"/>
<rect x="198.7" y="136.2" width="4.8" height="4.8" fill="none" stroke="#7f7f7f" stroke-opacity="0.20" stroke-width="1.1"/>
<rect x="205.3" y="141.1" width="4.8" height="4.8" fill="none" stroke="#7f7f7f" stroke-opacity="0.19" stroke-width="1.1"/>
<rect x="187.3" y="96.2" width="4.8" height="4.8" fill="none" stroke="#7f7f7f" stroke-opacity="0.26" stroke-width="1.1"/>
<rect x="192.2" y="102.8" width="4.8" height="4.8" fill="none" stroke="#7f7f7f" stroke-opacity="0.24" stroke-width="1.1"/>
<rect x="181.6" y="105.2" width="4.8" height="4.8" fill="none" stroke="#7f7f7f" stroke-opacity="0.24" stroke-width="1.1"/>
<rect x="223.7" y="101.7" width="4.8" height="4.8" fill="none" stroke="#7f7f7f" stroke-opacity="0.13" stroke-width="1.1"/>
<rect x="213.9" y="99.2" width="4.8" height="4.8" fill="none" stroke="#7f7f7f" stroke-opacity="0.16" stroke-width="1.1"/>
<rect x="252.2" y="122.1" width="4.8" height="4.8" fill="none" stroke="#7f7f7f" stroke-opacity="0.11" stroke-width="1.1"/>
<rect x="241.6" y="125.3" width="4.8" height="4.8" fill="none" stroke="#7f7f7f" stroke-opacity="0.14" stroke-width="1.1"/>
<rect x="253.9" y="131.0" width="4.8" height="4.8" fill="none" stroke="#7f7f7f" stroke-opacity="0.11" stroke-width="1.1"/>
<rect x="249.8" y="132.7" width="4.8" height="4.8" fill="none" stroke="#7f7f7f" stroke-opacity="0.13" stroke-width="1.1"/>
<rect x="240.8" y="129.4" width="4.8" height="4.8" fill="none" stroke="#7f7f7f" stroke-opacity="0.16" stroke-width="1.1"/>
<rect x="232.6" y="131.8" width="4.8" height="4.8" fill="none" stroke="#7f7f7f" stroke-opacity="0.20" stroke-width="1.1"/>
<rect x="205.8" y="140.8" width="4.8" height="4.8" fill="none" stroke="#7f7f7f" stroke-opacity="0.18" stroke-width="1.1"/>
<rect x="200.0" y="135.1" width="4.8" height="4.8" fill="none" stroke="#7f7f7f" stroke-opacity="0.21" stroke-width="1.1"/>
<rect x="174.1" y="136.4" width="4.8" height="4.8" fill="none" stroke="#7f7f7f" stroke-opacity="0.11" stroke-width="1.1"/>
<rect x="180.6" y="142.1" width="4.8" height="4.8" fill="none" stroke="#7f7f7f" stroke-opacity="0.14" stroke-width="1.1"/>
<rect x="188.0" y="142.1" width="4.8" height="4.8" fill="none" stroke="#7f7f7f" stroke-opacity="0.13" stroke-width="1.1"/>
<rect x="183.9" y="147.8" width="4.8" height="4.8" fill="none" stroke="#7f7f7f" stroke-opacity="0.11" stroke-width="1.1"/>
<rect x="184.7" y="151.1" width="4.8" height="4.8" fill="none" stroke="#7f7f7f" stroke-opacity="0.13" stroke-width="1.1"/>
<rect x="192.9" y="147.8" width="4.8" height="4.8" fill="none" stroke="#7f7f7f" stroke-opacity="0.14" stroke-width="1.1"/>
<rect x="187.2" y="159.2" width="4.8" height="4.8" fill="none" stroke="#7f7f7f" stroke-opacity="0.11" stroke-width="1.1"/>
<rect x="181.5" y="165.8" width="4.8" height="4.8" fill="none" stroke="#7f7f7f" stroke-opacity="0.10" stroke-width="1.1"/>
<rect x="199.4" y="137.2" width="4.8" height="4.8" fill="none" stroke="#7f7f7f" stroke-opacity="0.19" stroke-width="1.1"/>
<rect x="206.7" y="140.5" width="4.8" height="4.8" fill="none" stroke="#7f7f7f" stroke-opacity="0.22" stroke-width="1.1"/>
<rect x="211.6" y="140.5" width="4.8" height="4.8" fill="none" stroke="#7f7f7f" stroke-opacity="0.23" stroke-width="1.1"/>
<rect x="209.2" y="148.6" width="4.8" height="4.8" fill="none" stroke="#7f7f7f" stroke-opacity="0.19" stroke-width="1.1"/>
<rect x="209.2" y="150.6" width="4.8" height="4.8" fill="none" stroke="#7f7f7f" stroke-opacity="0.17" stroke-width="1.1"/>
<rect x="219.0" y="145.4" width="4.8" height="4.8" fill="none" stroke="#7f7f7f" stroke-opacity="0.24" stroke-width="1.1"/>
<rect x="217.3" y="151.1" width="4.8" height="4.8" fill="none" stroke="#7f7f7f" stroke-opacity="0.19" stroke-width="1.1"/>
<rect x="221.4" y="151.9" width="4.8" height="4.8" fill="none" stroke="#7f7f7f" stroke-opacity="0.21" stroke-width="1.1"/>
<rect x="223.9" y="147.0" width="4.8" height="4.8" fill="none" stroke="#7f7f7f" stroke-opacity="0.24" stroke-width="1.1"/>
<rect x="224.7" y="157.6" width="4.8" height="4.8" fill="none" stroke="#7f7f7f" stroke-opacity="0.21" stroke-width="1.1"/>
<rect x="221.4" y="167.4" width="4.8" height="4.8" fill="none" stroke="#7f7f7f" stroke-opacity="0.15" stroke-width="1.1"/>
<rect x="242.1" y="127.6" width="4.8" height="4.8" fill="none" stroke="#7f7f7f" stroke-opacity="0.16" stroke-width="1.1"/>
<rect x="253.5" y="130.0" width="4.8" height="4.8" fill="none" stroke="#7f7f7f" stroke-opacity="0.11" stroke-width="1.1"/>
<rect x="246.9" y="137.4" width="4.8" height="4.8" fill="none" stroke="#7f7f7f" stroke-opacity="0.16" stroke-width="1.1"/>
<rect x="222.5" y="147.2" width="4.8" height="4.8" fill="none" stroke="#7f7f7f" stroke-opacity="0.23" stroke-width="1.1"/>
<rect x="227.4" y="148.8" width="4.8" height="4.8" fill="none" stroke="#7f7f7f" stroke-opacity="0.26" stroke-width="1.1"/>
<rect x="233.9" y="148.0" width="4.8" height="4.8" fill="none" stroke="#7f7f7f" stroke-opacity="0.25" stroke-width="1.1"/>
<rect x="238.8" y="150.4" width="4.8" height="4.8" fill="none" stroke="#7f7f7f" stroke-opacity="0.23" stroke-width="1.1"/>
<rect x="246.9" y="152.9" width="4.8" height="4.8" fill="none" stroke="#7f7f7f" stroke-opacity="0.24" stroke-width="1.1"/>
<rect x="252.7" y="148.8" width="4.8" height="4.8" fill="none" stroke="#7f7f7f" stroke-opacity="0.20" stroke-width="1.1"/>
<rect x="260.8" y="152.1" width="4.8" height="4.8" fill="none" stroke="#7f7f7f" stroke-opacity="0.18" stroke-width="1.1"/>
<rect x="266.5" y="148.8" width="4.8" height="4.8" fill="none" stroke="#7f7f7f" stroke-opacity="0.13" stroke-width="1.1"/>
<rect x="273.9" y="156.1" width="4.8" height="4.8" fill="none" stroke="#7f7f7f" stroke-opacity="0.15" stroke-width="1.1"/>
<rect x="224.1" y="157.8" width="4.8" height="4.8" fill="none" stroke="#7f7f7f" stroke-opacity="0.20" stroke-width="1.1"/>
<rect x="241.2" y="157.8" width="4.8" height="4.8" fill="none" stroke="#7f7f7f" stroke-opacity="0.24" stroke-width="1.1"/>
<rect x="248.6" y="161.0" width="4.8" height="4.8" fill="none" stroke="#7f7f7f" stroke-opacity="0.26" stroke-width="1.1"/>
<rect x="261.6" y="159.4" width="4.8" height="4.8" fill="none" stroke="#7f7f7f" stroke-opacity="0.21" stroke-width="1.1"/>
<rect x="256.7" y="164.3" width="4.8" height="4.8" fill="none" stroke="#7f7f7f" stroke-opacity="0.22" stroke-width="1.1"/>
<rect x="266.5" y="165.1" width="4.8" height="4.8" fill="none" stroke="#7f7f7f" stroke-opacity="0.21" stroke-width="1.1"/>
<rect x="221.7" y="167.6" width="4.8" height="4.8" fill="none" stroke="#7f7f7f" stroke-opacity="0.14" stroke-width="1.1"/>
<rect x="218.9" y="54.8" width="4.8" height="4.8" fill="none" stroke="#7f7f7f" stroke-opacity="0.10" stroke-width="1.1"/>
<rect x="230.1" y="53.2" width="4.8" height="4.8" fill="none" stroke="#7f7f7f" stroke-opacity="0.09" stroke-width="1.1"/>
<rect x="213.1" y="68.9" width="4.8" height="4.8" fill="none" stroke="#7f7f7f" stroke-opacity="0.10" stroke-width="1.1"/>
<rect x="222.9" y="67.9" width="4.8" height="4.8" fill="none" stroke="#7f7f7f" stroke-opacity="0.10" stroke-width="1.1"/>
<rect x="243.8" y="66.5" width="4.8" height="4.8" fill="none" stroke="#7f7f7f" stroke-opacity="0.12" stroke-width="1.1"/>
<rect x="248.7" y="68.5" width="4.8" height="4.8" fill="none" stroke="#7f7f7f" stroke-opacity="0.10" stroke-width="1.1"/>
<rect x="213.5" y="78.3" width="4.8" height="4.8" fill="none" stroke="#7f7f7f" stroke-opacity="0.11" stroke-width="1.1"/>
<rect x="221.3" y="81.6" width="4.8" height="4.8" fill="none" stroke="#7f7f7f" stroke-opacity="0.10" stroke-width="1.1"/>
<rect x="219.3" y="86.5" width="4.8" height="4.8" fill="none" stroke="#7f7f7f" stroke-opacity="0.11" stroke-width="1.1"/>
<rect x="228.1" y="85.5" width="4.8" height="4.8" fill="none" stroke="#7f7f7f" stroke-opacity="0.13" stroke-width="1.1"/>
<rect x="236.9" y="89.4" width="4.8" height="4.8" fill="none" stroke="#7f7f7f" stroke-opacity="0.12" stroke-width="1.1"/>
<rect x="241.8" y="88.8" width="4.8" height="4.8" fill="none" stroke="#7f7f7f" stroke-opacity="0.09" stroke-width="1.1"/>
<rect x="213.5" y="96.3" width="4.8" height="4.8" fill="none" stroke="#7f7f7f" stroke-opacity="0.16" stroke-width="1.1"/>
<rect x="261.4" y="115.4" width="4.8" height="4.8" fill="none" stroke="#7f7f7f" stroke-opacity="0.11" stroke-width="1.1"/>
<rect x="267.9" y="135.0" width="4.8" height="4.8" fill="none" stroke="#7f7f7f" stroke-opacity="0.11" stroke-width="1.1"/>
<rect x="288.3" y="141.5" width="4.8" height="4.8" fill="none" stroke="#7f7f7f" stroke-opacity="0.11" stroke-width="1.1"/>
<rect x="99.3" y="125.2" width="4.8" height="4.8" fill="none" stroke="#7f7f7f" stroke-opacity="0.12" stroke-width="1.1"/>
<rect x="122.6" y="126.1" width="4.8" height="4.8" fill="none" stroke="#7f7f7f" stroke-opacity="0.12" stroke-width="1.1"/>
<rect x="108.8" y="135.6" width="4.8" height="4.8" fill="none" stroke="#7f7f7f" stroke-opacity="0.11" stroke-width="1.1"/>
<rect x="102.8" y="139.4" width="4.8" height="4.8" fill="none" stroke="#7f7f7f" stroke-opacity="0.12" stroke-width="1.1"/>
<rect x="137.3" y="134.3" width="4.8" height="4.8" fill="none" stroke="#7f7f7f" stroke-opacity="0.11" stroke-width="1.1"/>
<rect x="133.0" y="138.1" width="4.8" height="4.8" fill="none" stroke="#7f7f7f" stroke-opacity="0.12" stroke-width="1.1"/>
<rect x="136.5" y="142.5" width="4.8" height="4.8" fill="none" stroke="#7f7f7f" stroke-opacity="0.11" stroke-width="1.1"/>
<rect x="138.2" y="145.9" width="4.8" height="4.8" fill="none" stroke="#7f7f7f" stroke-opacity="0.11" stroke-width="1.1"/>
<rect x="146.0" y="141.3" width="4.8" height="4.8" fill="none" stroke="#7f7f7f" stroke-opacity="0.11" stroke-width="1.1"/>
<rect x="151.1" y="135.6" width="4.8" height="4.8" fill="none" stroke="#7f7f7f" stroke-opacity="0.12" stroke-width="1.1"/>
<rect x="152.9" y="139.9" width="4.8" height="4.8" fill="none" stroke="#7f7f7f" stroke-opacity="0.10" stroke-width="1.1"/>
<rect x="167.6" y="137.3" width="4.8" height="4.8" fill="none" stroke="#7f7f7f" stroke-opacity="0.13" stroke-width="1.1"/>
<rect x="173.6" y="135.6" width="4.8" height="4.8" fill="none" stroke="#7f7f7f" stroke-opacity="0.12" stroke-width="1.1"/>
<rect x="172.7" y="124.3" width="4.8" height="4.8" fill="none" stroke="#7f7f7f" stroke-opacity="0.14" stroke-width="1.1"/>
<rect x="152.9" y="122.6" width="4.8" height="4.8" fill="none" stroke="#7f7f7f" stroke-opacity="0.12" stroke-width="1.1"/>
<rect x="197.7" y="121.3" width="4.8" height="4.8" fill="none" stroke="#7f7f7f" stroke-opacity="0.17" stroke-width="1.1"/>
<rect x="152.1" y="73.9" width="4.8" height="4.8" fill="none" stroke="#7f7f7f" stroke-opacity="0.17" stroke-width="1.1"/>
<rect x="175.0" y="87.8" width="4.8" height="4.8" fill="none" stroke="#7f7f7f" stroke-opacity="0.17" stroke-width="1.1"/>
<rect x="120.2" y="48.4" width="4.8" height="4.8" fill="none" stroke="#7f7f7f" stroke-opacity="0.17" stroke-width="1.1"/>
<rect x="127.3" y="27.2" width="4.8" height="4.8" fill="none" stroke="#7f7f7f" stroke-opacity="0.17" stroke-width="1.1"/>
<rect x="126.2" y="26.7" width="4.8" height="4.8" fill="none" stroke="#7f7f7f" stroke-opacity="0.17" stroke-width="1.1"/>
<rect x="117.5" y="19.9" width="4.8" height="4.8" fill="none" stroke="#7f7f7f" stroke-opacity="0.17" stroke-width="1.1"/>
<rect x="183.8" y="92.5" width="4.8" height="4.8" fill="none" stroke="#7f7f7f" stroke-opacity="0.17" stroke-width="1.1"/>
<rect x="191.6" y="75.3" width="4.8" height="4.8" fill="none" stroke="#7f7f7f" stroke-opacity="0.17" stroke-width="1.1"/>
<rect x="181.7" y="103.7" width="4.8" height="4.8" fill="none" stroke="#7f7f7f" stroke-opacity="0.17" stroke-width="1.1"/>
<rect x="204.7" y="114.5" width="4.8" height="4.8" fill="none" stroke="#7f7f7f" stroke-opacity="0.17" stroke-width="1.1"/>
<rect x="199.2" y="115.7" width="4.8" height="4.8" fill="none" stroke="#7f7f7f" stroke-opacity="0.17" stroke-width="1.1"/>
<rect x="167.1" y="73.1" width="4.8" height="4.8" fill="none" stroke="#7f7f7f" stroke-opacity="0.17" stroke-width="1.1"/>
<rect x="170.5" y="61.6" width="4.8" height="4.8" fill="none" stroke="#7f7f7f" stroke-opacity="0.17" stroke-width="1.1"/>
<rect x="167.6" y="83.7" width="4.8" height="4.8" fill="none" stroke="#7f7f7f" stroke-opacity="0.17" stroke-width="1.1"/>
<rect x="132.6" y="28.8" width="4.8" height="4.8" fill="none" stroke="#7f7f7f" stroke-opacity="0.17" stroke-width="1.1"/>
<rect x="193.0" y="72.7" width="4.8" height="4.8" fill="none" stroke="#7f7f7f" stroke-opacity="0.17" stroke-width="1.1"/>
<rect x="181.0" y="107.0" width="4.8" height="4.8" fill="none" stroke="#7f7f7f" stroke-opacity="0.17" stroke-width="1.1"/>
<rect x="195.3" y="119.9" width="4.8" height="4.8" fill="none" stroke="#7f7f7f" stroke-opacity="0.17" stroke-width="1.1"/>
<rect x="202.4" y="112.6" width="4.8" height="4.8" fill="none" stroke="#7f7f7f" stroke-opacity="0.17" stroke-width="1.1"/>
<rect x="173.6" y="87.8" width="4.8" height="4.8" fill="none" stroke="#7f7f7f" stroke-opacity="0.17" stroke-width="1.1"/>
<rect x="141.7" y="50.6" width="4.8" height="4.8" fill="none" stroke="#7f7f7f" stroke-opacity="0.17" stroke-width="1.1"/>
<rect x="163.3" y="77.4" width="4.8" height="4.8" fill="none" stroke="#7f7f7f" stroke-opacity="0.17" stroke-width="1.1"/>
<rect x="173.9" y="111.8" width="4.8" height="4.8" fill="none" stroke="#7f7f7f" stroke-opacity="0.17" stroke-width="1.1"/>
<rect x="143.1" y="69.8" width="4.8" height="4.8" fill="none" stroke="#7f7f7f" stroke-opacity="0.17" stroke-width="1.1"/>
<rect x="211.7" y="114.4" width="4.8" height="4.8" fill="none" stroke="#7f7f7f" stroke-opacity="0.17" stroke-width="1.1"/>
<rect x="168.0" y="73.9" width="4.8" height="4.8" fill="none" stroke="#7f7f7f" stroke-opacity="0.17" stroke-width="1.1"/>
<rect x="177.6" y="74.2" width="4.8" height="4.8" fill="none" stroke="#7f7f7f" stroke-opacity="0.17" stroke-width="1.1"/>
<rect x="155.4" y="63.5" width="4.8" height="4.8" fill="none" stroke="#7f7f7f" stroke-opacity="0.17" stroke-width="1.1"/>
<rect x="181.5" y="83.2" width="4.8" height="4.8" fill="none" stroke="#7f7f7f" stroke-opacity="0.17" stroke-width="1.1"/>
<rect x="116.9" y="50.7" width="4.8" height="4.8" fill="none" stroke="#7f7f7f" stroke-opacity="0.17" stroke-width="1.1"/>
<rect x="181.0" y="104.0" width="4.8" height="4.8" fill="none" stroke="#7f7f7f" stroke-opacity="0.17" stroke-width="1.1"/>
<rect x="142.2" y="54.7" width="4.8" height="4.8" fill="none" stroke="#7f7f7f" stroke-opacity="0.17" stroke-width="1.1"/>
<rect x="186.0" y="98.6" width="4.8" height="4.8" fill="none" stroke="#7f7f7f" stroke-opacity="0.17" stroke-width="1.1"/>
<rect x="180.4" y="87.1" width="4.8" height="4.8" fill="none" stroke="#7f7f7f" stroke-opacity="0.17" stroke-width="1.1"/>
<rect x="181.1" y="80.9" width="4.8" height="4.8" fill="none" stroke="#7f7f7f" stroke-opacity="0.17" stroke-width="1.1"/>
<rect x="168.2" y="88.6" width="4.8" height="4.8" fill="none" stroke="#7f7f7f" stroke-opacity="0.17" stroke-width="1.1"/>
<rect x="157.9" y="60.2" width="4.8" height="4.8" fill="none" stroke="#7f7f7f" stroke-opacity="0.17" stroke-width="1.1"/>
<rect x="199.7" y="125.5" width="4.8" height="4.8" fill="none" stroke="#7f7f7f" stroke-opacity="0.17" stroke-width="1.1"/>
<rect x="169.6" y="68.4" width="4.8" height="4.8" fill="none" stroke="#7f7f7f" stroke-opacity="0.17" stroke-width="1.1"/>
<rect x="133.6" y="46.4" width="4.8" height="4.8" fill="none" stroke="#7f7f7f" stroke-opacity="0.17" stroke-width="1.1"/>
<rect x="153.8" y="57.9" width="4.8" height="4.8" fill="none" stroke="#7f7f7f" stroke-opacity="0.17" stroke-width="1.1"/>
<rect x="146.0" y="72.2" width="4.8" height="4.8" fill="none" stroke="#7f7f7f" stroke-opacity="0.17" stroke-width="1.1"/>
<rect x="161.4" y="47.0" width="4.8" height="4.8" fill="none" stroke="#7f7f7f" stroke-opacity="0.17" stroke-width="1.1"/>
<rect x="148.4" y="64.1" width="4.8" height="4.8" fill="none" stroke="#7f7f7f" stroke-opacity="0.17" stroke-width="1.1"/>
<rect x="161.9" y="84.0" width="4.8" height="4.8" fill="none" stroke="#7f7f7f" stroke-opacity="0.17" stroke-width="1.1"/>
<rect x="186.5" y="84.5" width="4.8" height="4.8" fill="none" stroke="#7f7f7f" stroke-opacity="0.17" stroke-width="1.1"/>
<rect x="134.0" y="30.8" width="4.8" height="4.8" fill="none" stroke="#7f7f7f" stroke-opacity="0.17" stroke-width="1.1"/>
<rect x="151.9" y="46.2" width="4.8" height="4.8" fill="none" stroke="#7f7f7f" stroke-opacity="0.17" stroke-width="1.1"/>
<rect x="161.4" y="109.4" width="4.8" height="4.8" fill="none" stroke="#7f7f7f" stroke-opacity="0.17" stroke-width="1.1"/>
<rect x="132.1" y="47.3" width="4.8" height="4.8" fill="none" stroke="#7f7f7f" stroke-opacity="0.17" stroke-width="1.1"/>
<rect x="194.2" y="107.4" width="4.8" height="4.8" fill="none" stroke="#7f7f7f" stroke-opacity="0.17" stroke-width="1.1"/>
<rect x="146.2" y="47.8" width="4.8" height="4.8" fill="none" stroke="#7f7f7f" stroke-opacity="0.17" stroke-width="1.1"/>
<rect x="185.8" y="83.5" width="4.8" height="4.8" fill="none" stroke="#7f7f7f" stroke-opacity="0.17" stroke-width="1.1"/>
<rect x="156.9" y="100.1" width="4.8" height="4.8" fill="none" stroke="#7f7f7f" stroke-opacity="0.17" stroke-width="1.1"/>
<rect x="164.9" y="72.0" width="4.8" height="4.8" fill="none" stroke="#7f7f7f" stroke-opacity="0.17" stroke-width="1.1"/>
<rect x="193.4" y="122.0" width="4.8" height="4.8" fill="none" stroke="#7f7f7f" stroke-opacity="0.17" stroke-width="1.1"/>
<rect x="159.0" y="60.1" width="4.8" height="4.8" fill="none" stroke="#7f7f7f" stroke-opacity="0.17" stroke-width="1.1"/>
<rect x="182.9" y="97.9" width="4.8" height="4.8" fill="none" stroke="#7f7f7f" stroke-opacity="0.17" stroke-width="1.1"/>
<rect x="163.4" y="84.4" width="4.8" height="4.8" fill="none" stroke="#7f7f7f" stroke-opacity="0.17" stroke-width="1.1"/>
<rect x="174.1" y="106.9" width="4.8" height="4.8" fill="none" stroke="#7f7f7f" stroke-opacity="0.17" stroke-width="1.1"/>
<rect x="175.2" y="89.0" width="4.8" height="4.8" fill="none" stroke="#7f7f7f" stroke-opacity="0.17" stroke-width="1.1"/>
<rect x="179.4" y="100.7" width="4.8" height="4.8" fill="none" stroke="#7f7f7f" stroke-opacity="0.17" stroke-width="1.1"/>
<rect x="124.6" y="19.4" width="4.8" height="4.8" fill="none" stroke="#7f7f7f" stroke-opacity="0.17" stroke-width="1.1"/>
<rect x="197.4" y="111.9" width="4.8" height="4.8" fill="none" stroke="#7f7f7f" stroke-opacity="0.17" stroke-width="1.1"/>
<rect x="195.0" y="125.1" width="4.8" height="4.8" fill="none" stroke="#7f7f7f" stroke-opacity="0.17" stroke-width="1.1"/>
<rect x="203.9" y="108.3" width="4.8" height="4.8" fill="none" stroke="#7f7f7f" stroke-opacity="0.17" stroke-width="1.1"/>
<rect x="169.8" y="61.7" width="4.8" height="4.8" fill="none" stroke="#7f7f7f" stroke-opacity="0.17" stroke-width="1.1"/>
<rect x="150.1" y="59.5" width="4.8" height="4.8" fill="none" stroke="#7f7f7f" stroke-opacity="0.17" stroke-width="1.1"/>
<rect x="130.6" y="21.8" width="4.8" height="4.8" fill="none" stroke="#7f7f7f" stroke-opacity="0.17" stroke-width="1.1"/>
<rect x="127.8" y="23.8" width="4.8" height="4.8" fill="none" stroke="#7f7f7f" stroke-opacity="0.17" stroke-width="1.1"/>
<rect x="139.5" y="38.5" width="4.8" height="4.8" fill="none" stroke="#7f7f7f" stroke-opacity="0.17" stroke-width="1.1"/>
<rect x="135.1" y="34.5" width="4.8" height="4.8" fill="none" stroke="#7f7f7f" stroke-opacity="0.17" stroke-width="1.1"/>
<rect x="159.8" y="81.6" width="4.8" height="4.8" fill="none" stroke="#7f7f7f" stroke-opacity="0.17" stroke-width="1.1"/>
<rect x="177.5" y="84.7" width="4.8" height="4.8" fill="none" stroke="#7f7f7f" stroke-opacity="0.17" stroke-width="1.1"/>
<rect x="141.1" y="51.0" width="4.8" height="4.8" fill="none" stroke="#7f7f7f" stroke-opacity="0.17" stroke-width="1.1"/>
<rect x="206.4" y="100.1" width="4.8" height="4.8" fill="none" stroke="#7f7f7f" stroke-opacity="0.17" stroke-width="1.1"/>
<rect x="160.3" y="87.4" width="4.8" height="4.8" fill="none" stroke="#7f7f7f" stroke-opacity="0.17" stroke-width="1.1"/>
<rect x="160.5" y="60.2" width="4.8" height="4.8" fill="none" stroke="#7f7f7f" stroke-opacity="0.17" stroke-width="1.1"/>
<rect x="200.0" y="91.3" width="4.8" height="4.8" fill="none" stroke="#7f7f7f" stroke-opacity="0.17" stroke-width="1.1"/>
<rect x="171.6" y="81.8" width="4.8" height="4.8" fill="none" stroke="#7f7f7f" stroke-opacity="0.17" stroke-width="1.1"/>
<rect x="163.9" y="85.2" width="4.8" height="4.8" fill="none" stroke="#7f7f7f" stroke-opacity="0.17" stroke-width="1.1"/>
<rect x="204.0" y="108.8" width="4.8" height="4.8" fill="none" stroke="#7f7f7f" stroke-opacity="0.17" stroke-width="1.1"/>
<rect x="144.2" y="40.1" width="4.8" height="4.8" fill="none" stroke="#7f7f7f" stroke-opacity="0.17" stroke-width="1.1"/>
<rect x="197.0" y="104.6" width="4.8" height="4.8" fill="none" stroke="#7f7f7f" stroke-opacity="0.17" stroke-width="1.1"/>
<rect x="152.9" y="78.3" width="4.8" height="4.8" fill="none" stroke="#7f7f7f" stroke-opacity="0.17" stroke-width="1.1"/>
<rect x="113.5" y="27.6" width="4.8" height="4.8" fill="none" stroke="#7f7f7f" stroke-opacity="0.17" stroke-width="1.1"/>
<rect x="158.1" y="67.9" width="4.8" height="4.8" fill="none" stroke="#7f7f7f" stroke-opacity="0.17" stroke-width="1.1"/>
<rect x="134.0" y="25.4" width="4.8" height="4.8" fill="none" stroke="#7f7f7f" stroke-opacity="0.17" stroke-width="1.1"/>
<rect x="167.3" y="87.0" width="4.8" height="4.8" fill="none" stroke="#7f7f7f" stroke-opacity="0.17" stroke-width="1.1"/>
<rect x="198.9" y="103.7" width="4.8" height="4.8" fill="none" stroke="#7f7f7f" stroke-opacity="0.17" stroke-width="1.1"/>
<rect x="164.7" y="86.3" width="4.8" height="4.8" fill="none" stroke="#7f7f7f" stroke-opacity="0.17" stroke-width="1.1"/>
<rect x="182.9" y="117.7" width="4.8" height="4.8" fill="none" stroke="#7f7f7f" stroke-opacity="0.17" stroke-width="1.1"/>
<rect x="130.2" y="14.6" width="4.8" height="4.8" fill="none" stroke="#7f7f7f" stroke-opacity="0.17" stroke-width="1.1"/>
<rect x="179.9" y="112.6" width="4.8" height="4.8" fill="none" stroke="#7f7f7f" stroke-opacity="0.17" stroke-width="1.1"/>
<rect x="201.3" y="123.1" width="4.8" height="4.8" fill="none" stroke="#7f7f7f" stroke-opacity="0.17" stroke-width="1.1"/>
<rect x="132.0" y="57.0" width="4.8" height="4.8" fill="none" stroke="#7f7f7f" stroke-opacity="0.17" stroke-width="1.1"/>
<rect x="191.7" y="95.4" width="4.8" height="4.8" fill="none" stroke="#7f7f7f" stroke-opacity="0.17" stroke-width="1.1"/>
<rect x="169.8" y="78.8" width="4.8" height="4.8" fill="none" stroke="#7f7f7f" stroke-opacity="0.17" stroke-width="1.1"/>
<rect x="184.6" y="119.5" width="4.8" height="4.8" fill="none" stroke="#7f7f7f" stroke-opacity="0.17" stroke-width="1.1"/>
<rect x="174.4" y="94.9" width="4.8" height="4.8" fill="none" stroke="#7f7f7f" stroke-opacity="0.17" stroke-width="1.1"/>
<rect x="131.6" y="28.4" width="4.8" height="4.8" fill="none" stroke="#7f7f7f" stroke-opacity="0.17" stroke-width="1.1"/>
<rect x="149.3" y="23.0" width="4.8" height="4.8" fill="none" stroke="#7f7f7f" stroke-opacity="0.17" stroke-width="1.1"/>
<rect x="138.6" y="35.6" width="4.8" height="4.8" fill="none" stroke="#7f7f7f" stroke-opacity="0.17" stroke-width="1.1"/>
<rect x="185.6" y="78.2" width="4.8" height="4.8" fill="none" stroke="#7f7f7f" stroke-opacity="0.17" stroke-width="1.1"/>
<rect x="181.5" y="70.5" width="4.8" height="4.8" fill="none" stroke="#7f7f7f" stroke-opacity="0.17" stroke-width="1.1"/>
<rect x="143.6" y="38.9" width="4.8" height="4.8" fill="none" stroke="#7f7f7f" stroke-opacity="0.17" stroke-width="1.1"/>
<rect x="190.5" y="130.3" width="4.8" height="4.8" fill="none" stroke="#7f7f7f" stroke-opacity="0.17" stroke-width="1.1"/>
<rect x="134.3" y="55.8" width="4.8" height="4.8" fill="none" stroke="#7f7f7f" stroke-opacity="0.17" stroke-width="1.1"/>
<rect x="153.1" y="51.2" width="4.8" height="4.8" fill="none" stroke="#7f7f7f" stroke-opacity="0.17" stroke-width="1.1"/>
<rect x="168.4" y="87.3" width="4.8" height="4.8" fill="none" stroke="#7f7f7f" stroke-opacity="0.17" stroke-width="1.1"/>
<rect x="180.6" y="116.2" width="4.8" height="4.8" fill="none" stroke="#7f7f7f" stroke-opacity="0.17" stroke-width="1.1"/>
<rect x="183.2" y="103.1" width="4.8" height="4.8" fill="none" stroke="#7f7f7f" stroke-opacity="0.17" stroke-width="1.1"/>
<rect x="171.4" y="62.5" width="4.8" height="4.8" fill="none" stroke="#7f7f7f" stroke-opacity="0.17" stroke-width="1.1"/>
<rect x="145.9" y="35.4" width="4.8" height="4.8" fill="none" stroke="#7f7f7f" stroke-opacity="0.17" stroke-width="1.1"/>
<rect x="155.5" y="62.8" width="4.8" height="4.8" fill="none" stroke="#7f7f7f" stroke-opacity="0.17" stroke-width="1.1"/>
<rect x="122.1" y="39.1" width="4.8" height="4.8" fill="none" stroke="#7f7f7f" stroke-opacity="0.17" stroke-width="1.1"/>
<rect x="151.9" y="60.0" width="4.8" height="4.8" fill="none" stroke="#7f7f7f" stroke-opacity="0.17" stroke-width="1.1"/>
<rect x="163.6" y="90.7" width="4.8" height="4.8" fill="none" stroke="#7f7f7f" stroke-opacity="0.17" stroke-width="1.1"/>
<rect x="200.8" y="123.1" width="4.8" height="4.8" fill="none" stroke="#7f7f7f" stroke-opacity="0.17" stroke-width="1.1"/>
<rect x="192.8" y="117.8" width="4.8" height="4.8" fill="none" stroke="#7f7f7f" stroke-opacity="0.17" stroke-width="1.1"/>
<rect x="163.2" y="48.8" width="4.8" height="4.8" fill="none" stroke="#7f7f7f" stroke-opacity="0.17" stroke-width="1.1"/>
<rect x="204.5" y="112.8" width="4.8" height="4.8" fill="none" stroke="#7f7f7f" stroke-opacity="0.17" stroke-width="1.1"/>
<rect x="200.8" y="115.2" width="4.8" height="4.8" fill="none" stroke="#7f7f7f" stroke-opacity="0.17" stroke-width="1.1"/>
<rect x="177.6" y="94.0" width="4.8" height="4.8" fill="none" stroke="#7f7f7f" stroke-opacity="0.17" stroke-width="1.1"/>
<rect x="127.7" y="40.6" width="4.8" height="4.8" fill="none" stroke="#7f7f7f" stroke-opacity="0.17" stroke-width="1.1"/>
<rect x="204.5" y="116.1" width="4.8" height="4.8" fill="none" stroke="#7f7f7f" stroke-opacity="0.17" stroke-width="1.1"/>
<rect x="162.1" y="69.8" width="4.8" height="4.8" fill="none" stroke="#7f7f7f" stroke-opacity="0.17" stroke-width="1.1"/>
<rect x="180.5" y="115.5" width="4.8" height="4.8" fill="none" stroke="#7f7f7f" stroke-opacity="0.17" stroke-width="1.1"/>
<rect x="166.5" y="121.2" width="4.8" height="4.8" fill="none" stroke="#7f7f7f" stroke-opacity="0.17" stroke-width="1.1"/>
<rect x="165.9" y="67.7" width="4.8" height="4.8" fill="none" stroke="#7f7f7f" stroke-opacity="0.17" stroke-width="1.1"/>
<rect x="120.8" y="29.9" width="4.8" height="4.8" fill="none" stroke="#7f7f7f" stroke-opacity="0.17" stroke-width="1.1"/>
<rect x="207.8" y="113.3" width="4.8" height="4.8" fill="none" stroke="#7f7f7f" stroke-opacity="0.17" stroke-width="1.1"/>
<rect x="158.0" y="81.4" width="4.8" height="4.8" fill="none" stroke="#7f7f7f" stroke-opacity="0.17" stroke-width="1.1"/>
<rect x="140.7" y="46.6" width="4.8" height="4.8" fill="none" stroke="#7f7f7f" stroke-opacity="0.17" stroke-width="1.1"/>
<rect x="131.3" y="31.4" width="4.8" height="4.8" fill="none" stroke="#7f7f7f" stroke-opacity="0.17" stroke-width="1.1"/>
<rect x="176.5" y="65.8" width="4.8" height="4.8" fill="none" stroke="#7f7f7f" stroke-opacity="0.17" stroke-width="1.1"/>
<rect x="158.1" y="86.9" width="4.8" height="4.8" fill="none" stroke="#7f7f7f" stroke-opacity="0.17" stroke-width="1.1"/>
<rect x="168.6" y="103.4" width="4.8" height="4.8" fill="none" stroke="#7f7f7f" stroke-opacity="0.17" stroke-width="1.1"/>
<rect x="184.5" y="95.2" width="4.8" height="4.8" fill="none" stroke="#7f7f7f" stroke-opacity="0.17" stroke-width="1.1"/>
<rect x="208.1" y="116.7" width="4.8" height="4.8" fill="none" stroke="#7f7f7f" stroke-opacity="0.17" stroke-width="1.1"/>
<rect x="165.2" y="93.2" width="4.8" height="4.8" fill="none" stroke="#7f7f7f" stroke-opacity="0.17" stroke-width="1.1"/>
<rect x="129.8" y="48.7" width="4.8" height="4.8" fill="none" stroke="#7f7f7f" stroke-opacity="0.17" stroke-width="1.1"/>
<rect x="136.6" y="40.1" width="4.8" height="4.8" fill="none" stroke="#7f7f7f" stroke-opacity="0.17" stroke-width="1.1"/>
<rect x="136.6" y="49.6" width="4.8" height="4.8" fill="none" stroke="#7f7f7f" stroke-opacity="0.17" stroke-width="1.1"/>
<rect x="178.1" y="87.8" width="4.8" height="4.8" fill="none" stroke="#7f7f7f" stroke-opacity="0.17" stroke-width="1.1"/>
<rect x="161.6" y="52.4" width="4.8" height="4.8" fill="none" stroke="#7f7f7f" stroke-opacity="0.17" stroke-width="1.1"/>
<rect x="166.7" y="80.1" width="4.8" height="4.8" fill="none" stroke="#7f7f7f" stroke-opacity="0.17" stroke-width="1.1"/>
<rect x="157.3" y="74.3" width="4.8" height="4.8" fill="none" stroke="#7f7f7f" stroke-opacity="0.17" stroke-width="1.1"/>
<rect x="203.7" y="117.2" width="4.8" height="4.8" fill="none" stroke="#7f7f7f" stroke-opacity="0.17" stroke-width="1.1"/>
<circle cx="209.6" cy="111.6" r="3.2" fill="#1f77b4" fill-opacity="0.85"/>
<circle cx="211.8" cy="137.5" r="3.2" fill="#1f77b4" fill-opacity="0.85"/>
<circle cx="221.9" cy="141.0" r="3.2" fill="#1f77b4" fill-opacity="0.85"/>
<circle cx="240.3" cy="140.6" r="3.2" fill="#1f77b4" fill-opacity="0.85"/>
<circle cx="233.5" cy="159.3" r="3.2" fill="#1f77b4" fill-opacity="0.85"/>
<circle cx="245.7" cy="167.2" r="3.2" fill="#1f77b4" fill-opacity="0.85"/>
<circle cx="249.3" cy="169.6" r="3.2" fill="#1f77b4" fill-opacity="0.85"/>
<circle cx="254.8" cy="173.1" r="3.2" fill="#1f77b4" fill-opacity="0.85"/>
<rect x="81.4" y="87.4" width="4.8" height="4.8" fill="none" stroke="#2ca02c" stroke-opacity="0.9" stroke-width="1.2"/>
<rect x="123.6" y="142.0" width="4.8" height="4.8" fill="none" stroke="#2ca02c" stroke-opacity="0.9" stroke-width="1.2"/>
<rect x="123.2" y="69.8" width="4.8" height="4.8" fill="none" stroke="#2ca02c" stroke-opacity="0.9" stroke-width="1.2"/>
<rect x="124.6" y="78.4" width="4.8" height="4.8" fill="none" stroke="#2ca02c" stroke-opacity="0.9" stroke-width="1.2"/>
<rect x="128.0" y="88.4" width="4.8" height="4.8" fill="none" stroke="#2ca02c" stroke-opacity="0.9" stroke-width="1.2"/>
<rect x="125.6" y="93.6" width="4.8" height="4.8" fill="none" stroke="#2ca02c" stroke-opacity="0.9" stroke-width="1.2"/>
<rect x="151.9" y="34.1" width="4.8" height="4.8" fill="none" stroke="#2ca02c" stroke-opacity="0.9" stroke-width="1.2"/>
<rect x="161.6" y="39.6" width="4.8" height="4.8" fill="none" stroke="#2ca02c" stroke-opacity="0.9" stroke-width="1.2"/>
<rect x="197.3" y="59.3" width="4.8" height="4.8" fill="none" stroke="#2ca02c" stroke-opacity="0.9" stroke-width="1.2"/>
<rect x="159.6" y="63.6" width="4.8" height="4.8" fill="none" stroke="#2ca02c" stroke-opacity="0.9" stroke-width="1.2"/>
<rect x="176.7" y="63.4" width="4.8" height="4.8" fill="none" stroke="#2ca02c" stroke-opacity="0.9" stroke-width="1.2"/>
<rect x="153.6" y="82.9" width="4.8" height="4.8" fill="none" stroke="#2ca02c" stroke-opacity="0.9" stroke-width="1.2"/>
<rect x="172.2" y="78.4" width="4.8" height="4.8" fill="none" stroke="#2ca02c" stroke-opacity="0.9" stroke-width="1.2"/>
<rect x="181.6" y="78.6" width="4.8" height="4.8" fill="none" stroke="#2ca02c" stroke-opacity="0.9" stroke-width="1.2"/>
<rect x="177.6" y="83.0" width="4.8" height="4.8" fill="none" stroke="#2ca02c" stroke-opacity="0.9" stroke-width="1.2"/>
<rect x="167.3" y="86.4" width="4.8" height="4.8" fill="none" stroke="#2ca02c" stroke-opacity="0.9" stroke-width="1.2"/>
<rect x="165.9" y="93.4" width="4.8" height="4.8" fill="none" stroke="#2ca02c" stroke-opacity="0.9" stroke-width="1.2"/>
<rect x="193.4" y="84.6" width="4.8" height="4.8" fill="none" stroke="#2ca02c" stroke-opacity="0.9" stroke-width="1.2"/>
<rect x="205.2" y="78.6" width="4.8" height="4.8" fill="none" stroke="#2ca02c" stroke-opacity="0.9" stroke-width="1.2"/>
<rect x="191.4" y="92.6" width="4.8" height="4.8" fill="none" stroke="#2ca02c" stroke-opacity="0.9" stroke-width="1.2"/>
<rect x="204.9" y="96.1" width="4.8" height="4.8" fill="none" stroke="#2ca02c" stroke-opacity="0.9" stroke-width="1.2"/>
<rect x="191.4" y="101.1" width="4.8" height="4.8" fill="none" stroke="#2ca02c" stroke-opacity="0.9" stroke-width="1.2"/>
<rect x="198.4" y="101.1" width="4.8" height="4.8" fill="none" stroke="#2ca02c" stroke-opacity="0.9" stroke-width="1.2"/>
<rect x="201.6" y="106.1" width="4.8" height="4.8" fill="none" stroke="#2ca02c" stroke-opacity="0.9" stroke-width="1.2"/>
<rect x="219.6" y="113.9" width="4.8" height="4.8" fill="none" stroke="#2ca02c" stroke-opacity="0.9" stroke-width="1.2"/>
<rect x="226.3" y="123.1" width="4.8" height="4.8" fill="none" stroke="#2ca02c" stroke-opacity="0.9" stroke-width="1.2"/>
<rect x="229.4" y="142.1" width="4.8" height="4.8" fill="none" stroke="#2ca02c" stroke-opacity="0.9" stroke-width="1.2"/>
<rect x="208.6" y="85.1" width="4.8" height="4.8" fill="none" stroke="#2ca02c" stroke-opacity="0.9" stroke-width="1.2"/>
<rect x="164.6" y="94.1" width="4.8" height="4.8" fill="none" stroke="#2ca02c" stroke-opacity="0.9" stroke-width="1.2"/>
<rect x="207.2" y="109.2" width="4.8" height="4.8" fill="none" stroke="#2ca02c" stroke-opacity="0.9" stroke-width="1.3"/>
<rect x="209.4" y="135.1" width="4.8" height="4.8" fill="none" stroke="#2ca02c" stroke-opacity="0.9" stroke-width="1.3"/>
<rect x="219.5" y="138.6" width="4.8" height="4.8" fill="none" stroke="#2ca02c" stroke-opacity="0.9" stroke-width="1.3"/>
<rect x="237.9" y="138.2" width="4.8" height="4.8" fill="none" stroke="#2ca02c" stroke-opacity="0.9" stroke-width="1.3"/>
<rect x="231.1" y="156.9" width="4.8" height="4.8" fill="none" stroke="#2ca02c" stroke-opacity="0.9" stroke-width="1.3"/>
<rect x="243.3" y="164.8" width="4.8" height="4.8" fill="none" stroke="#2ca02c" stroke-opacity="0.9" stroke-width="1.3"/>
<rect x="246.9" y="167.2" width="4.8" height="4.8" fill="none" stroke="#2ca02c" stroke-opacity="0.9" stroke-width="1.3"/>
<rect x="252.4" y="170.7" width="4.8" height="4.8" fill="none" stroke="#2ca02c" stroke-opacity="0.9" stroke-width="1.3"/>
<circle cx="255.5" cy="116.6" r="3.3" fill="#1f77b4" fill-opacity="0.7"/>
<circle cx="278.6" cy="154.2" r="3.3" fill="#1f77b4" fill-opacity="0.7"/>
<circle cx="273.8" cy="170.5" r="3.3" fill="#1f77b4" fill-opacity="0.7"/>
<circle cx="293.7" cy="173.5" r="3.3" fill="#1f77b4" fill-opacity="0.7"/>
<circle cx="311.2" cy="178.3" r="3.3" fill="#1f77b4" fill-opacity="0.7"/>
<circle cx="270.2" cy="192.2" r="3.3" fill="#1f77b4" fill-opacity="0.7"/>
<circle cx="280.4" cy="191.3" r="3.3" fill="#1f77b4" fill-opacity="0.7"/>
<circle cx="238.6" cy="137.5" r="3.3" fill="#1f77b4" fill-opacity="0.7"/>
<circle cx="243.9" cy="117.6" r="2.9" fill="#1f77b4" fill-opacity="0.8"/>
<circle cx="220.8" cy="138.2" r="2.9" fill="#1f77b4" fill-opacity="0.8"/>
<circle cx="232.8" cy="177.6" r="2.9" fill="#1f77b4" fill-opacity="0.8"/>
<circle cx="261.0" cy="182.6" r="2.9" fill="#1f77b4" fill-opacity="0.8"/>
<circle cx="265.9" cy="184.8" r="2.9" fill="#1f77b4" fill-opacity="0.8"/>
<circle cx="293.2" cy="210.2" r="2.9" fill="#1f77b4" fill-opacity="0.8"/>
<circle cx="294.8" cy="208.6" r="2.9" fill="#1f77b4" fill-opacity="0.8"/>
<circle cx="296.5" cy="215.2" r="2.9" fill="#1f77b4" fill-opacity="0.8"/>
<circle cx="318.7" cy="221.3" r="2.9" fill="#1f77b4" fill-opacity="0.8"/>
<circle cx="248.0" cy="225.4" r="2.9" fill="#1f77b4" fill-opacity="0.8"/>
<circle cx="285.4" cy="243.4" r="2.9" fill="#1f77b4" fill-opacity="0.8"/>
<circle cx="206.8" cy="131.2" r="2.9" fill="#1f77b4" fill-opacity="0.8"/>
<path d="M240.6 114.3L247.2 120.9M240.6 120.9L247.2 114.3" stroke="#ff7f0e" stroke-width="1.45"/>
<path d="M217.5 134.9L224.1 141.5M217.5 141.5L224.1 134.9" stroke="#ff7f0e" stroke-width="1.45"/>
<path d="M229.5 174.3L236.1 180.9M229.5 180.9L236.1 174.3" stroke="#ff7f0e" stroke-width="1.45"/>
<path d="M257.7 179.3L264.3 185.9M257.7 185.9L264.3 179.3" stroke="#ff7f0e" stroke-width="1.45"/>
<path d="M262.6 181.5L269.2 188.1M262.6 188.1L269.2 181.5" stroke="#ff7f0e" stroke-width="1.45"/>
<path d="M289.9 206.9L296.5 213.5M289.9 213.5L296.5 206.9" stroke="#ff7f0e" stroke-width="1.45"/>
<path d="M291.5 205.3L298.1 211.9M291.5 211.9L298.1 205.3" stroke="#ff7f0e" stroke-width="1.45"/>
<path d="M293.2 211.9L299.8 218.5M293.2 218.5L299.8 211.9" stroke="#ff7f0e" stroke-width="1.45"/>
<path d="M315.4 218.0L322.0 224.6M315.4 224.6L322.0 218.0" stroke="#ff7f0e" stroke-width="1.45"/>
<path d="M244.7 222.1L251.3 228.7M244.7 228.7L251.3 222.1" stroke="#ff7f0e" stroke-width="1.45"/>
<path d="M282.1 240.1L288.7 246.7M282.1 246.7L288.7 240.1" stroke="#ff7f0e" stroke-width="1.45"/>
<path d="M203.5 127.9L210.1 134.5M203.5 134.5L210.1 127.9" stroke="#ff7f0e" stroke-width="1.45"/>
<rect x="178.2" y="124.1" width="4.8" height="4.8" fill="none" stroke="#7f7f7f" stroke-opacity="0.08" stroke-width="1.1"/>
<rect x="248.7" y="155.2" width="4.8" height="4.8" fill="none" stroke="#7f7f7f" stroke-opacity="0.08" stroke-width="1.1"/>
<rect x="226.3" y="97.6" width="4.8" height="4.8" fill="none" stroke="#7f7f7f" stroke-opacity="0.08" stroke-width="1.1"/>
<rect x="83.0" y="21.0" width="4.8" height="4.8" fill="none" stroke="#7f7f7f" stroke-opacity="0.08" stroke-width="1.1"/>
<rect x="211.4" y="87.7" width="4.8" height="4.8" fill="none" stroke="#7f7f7f" stroke-opacity="0.08" stroke-width="1.1"/>
<rect x="69.3" y="8.8" width="4.8" height="4.8" fill="none" stroke="#7f7f7f" stroke-opacity="0.08" stroke-width="1.1"/>
<rect x="196.4" y="117.6" width="4.8" height="4.8" fill="none" stroke="#7f7f7f" stroke-opacity="0.08" stroke-width="1.1"/>
<rect x="206.5" y="146.4" width="4.8" height="4.8" fill="none" stroke="#7f7f7f" stroke-opacity="0.08" stroke-width="1.1"/>
<rect x="133.2" y="60.2" width="4.8" height="4.8" fill="none" stroke="#7f7f7f" stroke-opacity="0.08" stroke-width="1.1"/>
<rect x="87.8" y="30.3" width="4.8" height="4.8" fill="none" stroke="#7f7f7f" stroke-opacity="0.08" stroke-width="1.1"/>
<rect x="116.1" y="65.3" width="4.8" height="4.8" fill="none" stroke="#7f7f7f" stroke-opacity="0.08" stroke-width="1.1"/>
<rect x="139.8" y="52.3" width="4.8" height="4.8" fill="none" stroke="#7f7f7f" stroke-opacity="0.08" stroke-width="1.1"/>
<rect x="220.9" y="131.7" width="4.8" height="4.8" fill="none" stroke="#7f7f7f" stroke-opacity="0.08" stroke-width="1.1"/>
<rect x="194.0" y="129.1" width="4.8" height="4.8" fill="none" stroke="#7f7f7f" stroke-opacity="0.08" stroke-width="1.1"/>
<rect x="216.3" y="97.5" width="4.8" height="4.8" fill="none" stroke="#7f7f7f" stroke-opacity="0.08" stroke-width="1.1"/>
<rect x="181.1" y="22.9" width="4.8" height="4.8" fill="none" stroke="#7f7f7f" stroke-opacity="0.08" stroke-width="1.1"/>
<rect x="140.5" y="38.8" width="4.8" height="4.8" fill="none" stroke="#7f7f7f" stroke-opacity="0.08" stroke-width="1.1"/>
<rect x="144.1" y="26.7" width="4.8" height="4.8" fill="none" stroke="#7f7f7f" stroke-opacity="0.08" stroke-width="1.1"/>
<rect x="211.3" y="126.1" width="4.8" height="4.8" fill="none" stroke="#7f7f7f" stroke-opacity="0.08" stroke-width="1.1"/>
<rect x="252.1" y="138.3" width="4.8" height="4.8" fill="none" stroke="#7f7f7f" stroke-opacity="0.08" stroke-width="1.1"/>
<rect x="186.4" y="88.5" width="4.8" height="4.8" fill="none" stroke="#7f7f7f" stroke-opacity="0.08" stroke-width="1.1"/>
<rect x="171.9" y="99.6" width="4.8" height="4.8" fill="none" stroke="#7f7f7f" stroke-opacity="0.08" stroke-width="1.1"/>
<rect x="182.3" y="106.1" width="4.8" height="4.8" fill="none" stroke="#7f7f7f" stroke-opacity="0.08" stroke-width="1.1"/>
<rect x="142.5" y="37.5" width="4.8" height="4.8" fill="none" stroke="#7f7f7f" stroke-opacity="0.08" stroke-width="1.1"/>
<rect x="249.0" y="140.1" width="4.8" height="4.8" fill="none" stroke="#7f7f7f" stroke-opacity="0.08" stroke-width="1.1"/>
<rect x="200.4" y="102.2" width="4.8" height="4.8" fill="none" stroke="#7f7f7f" stroke-opacity="0.08" stroke-width="1.1"/>
<rect x="182.0" y="84.3" width="4.8" height="4.8" fill="none" stroke="#7f7f7f" stroke-opacity="0.08" stroke-width="1.1"/>
<rect x="198.2" y="153.2" width="4.8" height="4.8" fill="none" stroke="#7f7f7f" stroke-opacity="0.08" stroke-width="1.1"/>
<rect x="164.2" y="32.0" width="4.8" height="4.8" fill="none" stroke="#7f7f7f" stroke-opacity="0.08" stroke-width="1.1"/>
<rect x="131.5" y="112.2" width="4.8" height="4.8" fill="none" stroke="#7f7f7f" stroke-opacity="0.08" stroke-width="1.1"/>
<rect x="213.4" y="151.6" width="4.8" height="4.8" fill="none" stroke="#7f7f7f" stroke-opacity="0.08" stroke-width="1.1"/>
<rect x="181.9" y="98.4" width="4.8" height="4.8" fill="none" stroke="#7f7f7f" stroke-opacity="0.08" stroke-width="1.1"/>
<rect x="171.0" y="80.4" width="4.8" height="4.8" fill="none" stroke="#7f7f7f" stroke-opacity="0.08" stroke-width="1.1"/>
<rect x="129.8" y="28.1" width="4.8" height="4.8" fill="none" stroke="#7f7f7f" stroke-opacity="0.08" stroke-width="1.1"/>
<rect x="120.5" y="7.8" width="4.8" height="4.8" fill="none" stroke="#7f7f7f" stroke-opacity="0.08" stroke-width="1.1"/>
<rect x="115.4" y="32.6" width="4.8" height="4.8" fill="none" stroke="#7f7f7f" stroke-opacity="0.08" stroke-width="1.1"/>
<rect x="251.5" y="157.2" width="4.8" height="4.8" fill="none" stroke="#7f7f7f" stroke-opacity="0.08" stroke-width="1.1"/>
<rect x="176.8" y="87.7" width="4.8" height="4.8" fill="none" stroke="#7f7f7f" stroke-opacity="0.08" stroke-width="1.1"/>
<rect x="228.0" y="110.9" width="4.8" height="4.8" fill="none" stroke="#7f7f7f" stroke-opacity="0.08" stroke-width="1.1"/>
<rect x="218.1" y="171.8" width="4.8" height="4.8" fill="none" stroke="#7f7f7f" stroke-opacity="0.08" stroke-width="1.1"/>
<rect x="146.2" y="60.4" width="4.8" height="4.8" fill="none" stroke="#7f7f7f" stroke-opacity="0.08" stroke-width="1.1"/>
<rect x="133.9" y="58.1" width="4.8" height="4.8" fill="none" stroke="#7f7f7f" stroke-opacity="0.08" stroke-width="1.1"/>
<rect x="206.8" y="136.7" width="4.8" height="4.8" fill="none" stroke="#7f7f7f" stroke-opacity="0.08" stroke-width="1.1"/>
<rect x="186.0" y="62.0" width="4.8" height="4.8" fill="none" stroke="#7f7f7f" stroke-opacity="0.08" stroke-width="1.1"/>
<rect x="238.0" y="127.9" width="4.8" height="4.8" fill="none" stroke="#7f7f7f" stroke-opacity="0.08" stroke-width="1.1"/>
<rect x="105.0" y="28.9" width="4.8" height="4.8" fill="none" stroke="#7f7f7f" stroke-opacity="0.08" stroke-width="1.1"/>
<rect x="235.1" y="145.8" width="4.8" height="4.8" fill="none" stroke="#7f7f7f" stroke-opacity="0.08" stroke-width="1.1"/>
<rect x="156.6" y="113.1" width="4.8" height="4.8" fill="none" stroke="#7f7f7f" stroke-opacity="0.08" stroke-width="1.1"/>
<rect x="206.3" y="108.2" width="4.8" height="4.8" fill="none" stroke="#7f7f7f" stroke-opacity="0.08" stroke-width="1.1"/>
<rect x="137.8" y="104.4" width="4.8" height="4.8" fill="none" stroke="#7f7f7f" stroke-opacity="0.08" stroke-width="1.1"/>
<rect x="147.7" y="59.4" width="4.8" height="4.8" fill="none" stroke="#7f7f7f" stroke-opacity="0.08" stroke-width="1.1"/>
<rect x="179.1" y="110.7" width="4.8" height="4.8" fill="none" stroke="#7f7f7f" stroke-opacity="0.08" stroke-width="1.1"/>
<rect x="148.2" y="36.9" width="4.8" height="4.8" fill="none" stroke="#7f7f7f" stroke-opacity="0.08" stroke-width="1.1"/>
<rect x="144.4" y="65.4" width="4.8" height="4.8" fill="none" stroke="#7f7f7f" stroke-opacity="0.08" stroke-width="1.1"/>
<rect x="127.8" y="34.7" width="4.8" height="4.8" fill="none" stroke="#7f7f7f" stroke-opacity="0.08" stroke-width="1.1"/>
<rect x="180.5" y="61.1" width="4.8" height="4.8" fill="none" stroke="#7f7f7f" stroke-opacity="0.08" stroke-width="1.1"/>
<rect x="130.1" y="54.7" width="4.8" height="4.8" fill="none" stroke="#7f7f7f" stroke-opacity="0.08" stroke-width="1.1"/>
<rect x="178.9" y="44.6" width="4.8" height="4.8" fill="none" stroke="#7f7f7f" stroke-opacity="0.08" stroke-width="1.1"/>
<rect x="175.8" y="118.1" width="4.8" height="4.8" fill="none" stroke="#7f7f7f" stroke-opacity="0.08" stroke-width="1.1"/>
<rect x="184.4" y="45.5" width="4.8" height="4.8" fill="none" stroke="#7f7f7f" stroke-opacity="0.08" stroke-width="1.1"/>
<rect x="244.5" y="153.9" width="4.8" height="4.8" fill="none" stroke="#7f7f7f" stroke-opacity="0.08" stroke-width="1.1"/>
<rect x="214.4" y="168.0" width="4.8" height="4.8" fill="none" stroke="#7f7f7f" stroke-opacity="0.08" stroke-width="1.1"/>
<rect x="210.0" y="159.5" width="4.8" height="4.8" fill="none" stroke="#7f7f7f" stroke-opacity="0.08" stroke-width="1.1"/>
<rect x="122.7" y="12.9" width="4.8" height="4.8" fill="none" stroke="#7f7f7f" stroke-opacity="0.08" stroke-width="1.1"/>
<rect x="94.6" y="9.0" width="4.8" height="4.8" fill="none" stroke="#7f7f7f" stroke-opacity="0.08" stroke-width="1.1"/>
<rect x="232.9" y="143.2" width="4.8" height="4.8" fill="none" stroke="#7f7f7f" stroke-opacity="0.08" stroke-width="1.1"/>
<rect x="225.4" y="122.5" width="4.8" height="4.8" fill="none" stroke="#7f7f7f" stroke-opacity="0.08" stroke-width="1.1"/>
<rect x="157.8" y="64.6" width="4.8" height="4.8" fill="none" stroke="#7f7f7f" stroke-opacity="0.08" stroke-width="1.1"/>
<rect x="117.3" y="118.8" width="4.8" height="4.8" fill="none" stroke="#7f7f7f" stroke-opacity="0.08" stroke-width="1.1"/>
<rect x="220.2" y="112.8" width="4.8" height="4.8" fill="none" stroke="#7f7f7f" stroke-opacity="0.08" stroke-width="1.1"/>
<rect x="257.1" y="158.5" width="4.8" height="4.8" fill="none" stroke="#7f7f7f" stroke-opacity="0.08" stroke-width="1.1"/>
<rect x="223.4" y="106.9" width="4.8" height="4.8" fill="none" stroke="#7f7f7f" stroke-opacity="0.08" stroke-width="1.1"/>
<rect x="161.1" y="45.1" width="4.8" height="4.8" fill="none" stroke="#7f7f7f" stroke-opacity="0.08" stroke-width="1.1"/>
<rect x="176.3" y="85.6" width="4.8" height="4.8" fill="none" stroke="#7f7f7f" stroke-opacity="0.08" stroke-width="1.1"/>
<rect x="218.1" y="91.9" width="4.8" height="4.8" fill="none" stroke="#7f7f7f" stroke-opacity="0.08" stroke-width="1.1"/>
<rect x="162.2" y="79.8" width="4.8" height="4.8" fill="none" stroke="#7f7f7f" stroke-opacity="0.08" stroke-width="1.1"/>
<rect x="205.8" y="156.4" width="4.8" height="4.8" fill="none" stroke="#7f7f7f" stroke-opacity="0.08" stroke-width="1.1"/>
<rect x="189.3" y="101.9" width="4.8" height="4.8" fill="none" stroke="#7f7f7f" stroke-opacity="0.08" stroke-width="1.1"/>
<rect x="113.5" y="22.4" width="4.8" height="4.8" fill="none" stroke="#7f7f7f" stroke-opacity="0.08" stroke-width="1.1"/>
<rect x="109.0" y="65.8" width="4.8" height="4.8" fill="none" stroke="#7f7f7f" stroke-opacity="0.08" stroke-width="1.1"/>
<rect x="167.4" y="90.7" width="4.8" height="4.8" fill="none" stroke="#7f7f7f" stroke-opacity="0.08" stroke-width="1.1"/>
<rect x="206.4" y="63.2" width="4.8" height="4.8" fill="none" stroke="#7f7f7f" stroke-opacity="0.08" stroke-width="1.1"/>
<rect x="206.9" y="36.6" width="4.8" height="4.8" fill="none" stroke="#7f7f7f" stroke-opacity="0.08" stroke-width="1.1"/>
<rect x="207.6" y="94.1" width="4.8" height="4.8" fill="none" stroke="#7f7f7f" stroke-opacity="0.08" stroke-width="1.1"/>
<rect x="194.5" y="32.1" width="4.8" height="4.8" fill="none" stroke="#7f7f7f" stroke-opacity="0.08" stroke-width="1.1"/>
<rect x="102.1" y="16.3" width="4.8" height="4.8" fill="none" stroke="#7f7f7f" stroke-opacity="0.08" stroke-width="1.1"/>
<rect x="154.8" y="94.0" width="4.8" height="4.8" fill="none" stroke="#7f7f7f" stroke-opacity="0.08" stroke-width="1.1"/>
<rect x="122.5" y="8.3" width="4.8" height="4.8" fill="none" stroke="#7f7f7f" stroke-opacity="0.08" stroke-width="1.1"/>
<rect x="177.9" y="91.0" width="4.8" height="4.8" fill="none" stroke="#7f7f7f" stroke-opacity="0.08" stroke-width="1.1"/>
<rect x="144.2" y="53.2" width="4.8" height="4.8" fill="none" stroke="#7f7f7f" stroke-opacity="0.08" stroke-width="1.1"/>
<path d="M217.7 127.1L214.1 128.9L217.7 130.7Z" fill="#e3191e" fill-opacity="0.25"/>
<path d="M207.6 117.8L204.0 119.6L207.6 121.4Z" fill="#e3191e" fill-opacity="0.25"/>
<path d="M175.6 106.3L172.0 108.1L175.6 109.9Z" fill="#e3191e" fill-opacity="0.25"/>
<path d="M207.1 116.5L203.5 118.3L207.1 120.1Z" fill="#e3191e" fill-opacity="0.25"/>
<path d="M206.6 118.7L203.0 120.5L206.6 122.3Z" fill="#e3191e" fill-opacity="0.25"/>
<path d="M225.4 129.8L221.8 131.6L225.4 133.4Z" fill="#e3191e" fill-opacity="0.25"/>
<path d="M206.6 113.8L203.0 115.6L206.6 117.4Z" fill="#e3191e" fill-opacity="0.25"/>
<path d="M199.9 117.7L196.3 119.5L199.9 121.3Z" fill="#e3191e" fill-opacity="0.25"/>
<path d="M218.1 117.4L214.5 119.2L218.1 121.0Z" fill="#e3191e" fill-opacity="0.25"/>
<path d="M219.8 115.6L216.2 117.4L219.8 119.2Z" fill="#e3191e" fill-opacity="0.25"/>
<path d="M197.4 127.1L193.8 128.9L197.4 130.7Z" fill="#e3191e" fill-opacity="0.25"/>
<path d="M199.2 125.0L195.6 126.8L199.2 128.6Z" fill="#e3191e" fill-opacity="0.25"/>
<path d="M227.7 113.9L224.1 115.7L227.7 117.5Z" fill="#e3191e" fill-opacity="0.25"/>
<path d="M204.5 117.9L200.9 119.7L204.5 121.5Z" fill="#e3191e" fill-opacity="0.25"/>
<path d="M220.2 131.1L216.6 132.9L220.2 134.7Z" fill="#e3191e" fill-opacity="0.25"/>
<path d="M207.0 123.4L203.4 125.2L207.0 127.0Z" fill="#e3191e" fill-opacity="0.25"/>
<path d="M199.4 116.9L195.8 118.7L199.4 120.5Z" fill="#e3191e" fill-opacity="0.25"/>
<path d="M209.9 118.0L206.3 119.8L209.9 121.6Z" fill="#e3191e" fill-opacity="0.25"/>
<path d="M180.5 115.1L176.9 116.9L180.5 118.7Z" fill="#e3191e" fill-opacity="0.25"/>
<path d="M214.5 126.5L210.9 128.3L214.5 130.1Z" fill="#e3191e" fill-opacity="0.25"/>
<path d="M204.6 121.9L201.0 123.7L204.6 125.5Z" fill="#e3191e" fill-opacity="0.25"/>
<path d="M215.5 125.7L211.9 127.5L215.5 129.3Z" fill="#e3191e" fill-opacity="0.25"/>
<path d="M203.8 119.3L200.2 121.1L203.8 122.9Z" fill="#e3191e" fill-opacity="0.25"/>
<path d="M202.8 116.3L199.2 118.1L202.8 119.9Z" fill="#e3191e" fill-opacity="0.25"/>
<path d="M201.0 129.1L197.4 130.9L201.0 132.7Z" fill="#e3191e" fill-opacity="0.25"/>
<path d="M210.1 115.7L206.5 117.5L210.1 119.3Z" fill="#e3191e" fill-opacity="0.25"/>
<path d="M207.9 126.9L204.3 128.7L207.9 130.5Z" fill="#e3191e" fill-opacity="0.25"/>
<path d="M199.1 112.4L195.5 114.2L199.1 116.0Z" fill="#e3191e" fill-opacity="0.25"/>
<path d="M209.5 121.0L205.9 122.8L209.5 124.6Z" fill="#e3191e" fill-opacity="0.25"/>
<path d="M228.7 138.7L225.1 140.5L228.7 142.3Z" fill="#e3191e" fill-opacity="0.25"/>
<path d="M196.5 117.1L192.9 118.9L196.5 120.7Z" fill="#e3191e" fill-opacity="0.25"/>
<path d="M224.4 129.7L220.8 131.5L224.4 133.3Z" fill="#e3191e" fill-opacity="0.25"/>
<path d="M215.2 118.3L211.6 120.1L215.2 121.9Z" fill="#e3191e" fill-opacity="0.25"/>
<path d="M208.9 123.0L205.3 124.8L208.9 126.6Z" fill="#e3191e" fill-opacity="0.25"/>
<path d="M203.9 125.9L200.3 127.7L203.9 129.5Z" fill="#e3191e" fill-opacity="0.25"/>
<path d="M208.3 121.2L204.7 123.0L208.3 124.8Z" fill="#e3191e" fill-opacity="0.25"/>
<path d="M216.5 124.5L212.9 126.3L216.5 128.1Z" fill="#e3191e" fill-opacity="0.25"/>
<path d="M226.6 112.7L223.0 114.5L226.6 116.3Z" fill="#e3191e" fill-opacity="0.25"/>
<path d="M219.5 118.4L215.9 120.2L219.5 122.0Z" fill="#e3191e" fill-opacity="0.25"/>
<path d="M192.1 126.3L188.5 128.1L192.1 129.9Z" fill="#e3191e" fill-opacity="0.25"/>
<path d="M211.7 114.2L208.1 116.0L211.7 117.8Z" fill="#e3191e" fill-opacity="0.25"/>
<path d="M203.2 108.7L199.6 110.5L203.2 112.3Z" fill="#e3191e" fill-opacity="0.25"/>
<path d="M201.0 119.0L197.4 120.8L201.0 122.6Z" fill="#e3191e" fill-opacity="0.25"/>
<path d="M209.0 109.4L205.4 111.2L209.0 113.0Z" fill="#e3191e" fill-opacity="0.25"/>
<path d="M210.7 126.3L207.1 128.1L210.7 129.9Z" fill="#e3191e" fill-opacity="0.25"/>
<path d="M213.0 112.7L209.4 114.5L213.0 116.3Z" fill="#e3191e" fill-opacity="0.25"/>
<path d="M229.6 127.6L226.0 129.4L229.6 131.2Z" fill="#e3191e" fill-opacity="0.25"/>
<path d="M209.6 123.8L206.0 125.6L209.6 127.4Z" fill="#e3191e" fill-opacity="0.25"/>
<path d="M222.0 125.1L218.4 126.9L222.0 128.7Z" fill="#e3191e" fill-opacity="0.25"/>
<path d="M202.4 120.8L198.8 122.6L202.4 124.4Z" fill="#e3191e" fill-opacity="0.25"/>
<path d="M208.6 117.8L205.0 119.6L208.6 121.4Z" fill="#e3191e" fill-opacity="0.25"/>
<path d="M249.6 120.3L246.0 122.1L249.6 123.9Z" fill="#e3191e" fill-opacity="0.25"/>
<path d="M208.4 121.9L204.8 123.7L208.4 125.5Z" fill="#e3191e" fill-opacity="0.25"/>
<path d="M222.6 126.1L219.0 127.9L222.6 129.7Z" fill="#e3191e" fill-opacity="0.25"/>
<path d="M196.1 125.8L192.5 127.6L196.1 129.4Z" fill="#e3191e" fill-opacity="0.25"/>
<path d="M201.8 121.9L198.2 123.7L201.8 125.5Z" fill="#e3191e" fill-opacity="0.25"/>
<path d="M226.9 137.6L223.3 139.4L226.9 141.2Z" fill="#e3191e" fill-opacity="0.25"/>
<path d="M212.7 114.1L209.1 115.9L212.7 117.7Z" fill="#e3191e" fill-opacity="0.25"/>
<path d="M211.2 126.8L207.6 128.6L211.2 130.4Z" fill="#e3191e" fill-opacity="0.25"/>
<path d="M211.7 114.2L208.1 116.0L211.7 117.8Z" fill="#e3191e" fill-opacity="0.25"/>
<path d="M207.1 125.4L203.5 127.2L207.1 129.0Z" fill="#e3191e" fill-opacity="0.25"/>
<path d="M211.5 119.9L207.9 121.7L211.5 123.5Z" fill="#e3191e" fill-opacity="0.25"/>
<path d="M199.7 113.1L196.1 114.9L199.7 116.7Z" fill="#e3191e" fill-opacity="0.25"/>
<path d="M195.0 117.9L191.4 119.7L195.0 121.5Z" fill="#e3191e" fill-opacity="0.25"/>
<path d="M219.5 120.8L215.9 122.6L219.5 124.4Z" fill="#e3191e" fill-opacity="0.25"/>
<path d="M211.4 113.4L207.8 115.2L211.4 117.0Z" fill="#e3191e" fill-opacity="0.25"/>
<path d="M209.8 119.3L206.2 121.1L209.8 122.9Z" fill="#e3191e" fill-opacity="0.25"/>
<path d="M206.6 116.0L203.0 117.8L206.6 119.6Z" fill="#e3191e" fill-opacity="0.25"/>
<path d="M226.1 132.1L222.5 133.9L226.1 135.7Z" fill="#e3191e" fill-opacity="0.25"/>
<path d="M207.5 126.5L203.9 128.3L207.5 130.1Z" fill="#e3191e" fill-opacity="0.25"/>
<path d="M207.4 123.1L203.8 124.9L207.4 126.7Z" fill="#e3191e" fill-opacity="0.25"/>
<path d="M204.5 127.0L200.9 128.8L204.5 130.6Z" fill="#e3191e" fill-opacity="0.25"/>
<path d="M198.3 112.7L194.7 114.5L198.3 116.3Z" fill="#e3191e" fill-opacity="0.25"/>
<path d="M214.7 125.4L211.1 127.2L214.7 129.0Z" fill="#e3191e" fill-opacity="0.25"/>
<path d="M217.7 117.2L214.1 119.0L217.7 120.8Z" fill="#e3191e" fill-opacity="0.25"/>
<path d="M209.8 115.6L206.2 117.4L209.8 119.2Z" fill="#e3191e" fill-opacity="0.25"/>
<path d="M207.0 121.3L203.4 123.1L207.0 124.9Z" fill="#e3191e" fill-opacity="0.25"/>
<path d="M225.3 114.7L221.7 116.5L225.3 118.3Z" fill="#e3191e" fill-opacity="0.25"/>
<path d="M208.6 117.5L205.0 119.3L208.6 121.1Z" fill="#e3191e" fill-opacity="0.25"/>
<path d="M198.5 113.6L194.9 115.4L198.5 117.2Z" fill="#e3191e" fill-opacity="0.25"/>
<path d="M206.7 125.5L203.1 127.3L206.7 129.1Z" fill="#e3191e" fill-opacity="0.25"/>
<path d="M217.3 120.0L213.7 121.8L217.3 123.6Z" fill="#e3191e" fill-opacity="0.25"/>
<path d="M207.2 119.7L203.6 121.5L207.2 123.3Z" fill="#e3191e" fill-opacity="0.25"/>
<path d="M213.2 122.0L209.6 123.8L213.2 125.6Z" fill="#e3191e" fill-opacity="0.25"/>
<path d="M198.7 130.3L195.1 132.1L198.7 133.9Z" fill="#e3191e" fill-opacity="0.25"/>
<path d="M198.3 116.4L194.7 118.2L198.3 120.0Z" fill="#e3191e" fill-opacity="0.25"/>
<path d="M218.0 127.8L214.4 129.6L218.0 131.4Z" fill="#e3191e" fill-opacity="0.25"/>
<path d="M212.6 123.1L209.0 124.9L212.6 126.7Z" fill="#e3191e" fill-opacity="0.25"/>
<path d="M204.6 123.7L201.0 125.5L204.6 127.3Z" fill="#e3191e" fill-opacity="0.25"/>
<path d="M214.0 115.5L210.4 117.3L214.0 119.1Z" fill="#e3191e" fill-opacity="0.25"/>
<path d="M213.0 117.7L209.4 119.5L213.0 121.3Z" fill="#e3191e" fill-opacity="0.45"/>
<path d="M212.5 121.7L208.9 123.5L212.5 125.3Z" fill="#e3191e" fill-opacity="0.45"/>
<path d="M205.6 131.4L202.0 133.2L205.6 135.0Z" fill="#e3191e" fill-opacity="0.45"/>
<path d="M213.8 117.3L210.2 119.1L213.8 120.9Z" fill="#e3191e" fill-opacity="0.45"/>
<path d="M207.1 111.0L203.5 112.8L207.1 114.6Z" fill="#e3191e" fill-opacity="0.45"/>
<path d="M221.0 118.7L217.4 120.5L221.0 122.3Z" fill="#e3191e" fill-opacity="0.45"/>
<path d="M216.7 123.3L213.1 125.1L216.7 126.9Z" fill="#e3191e" fill-opacity="0.45"/>
<path d="M227.0 129.8L223.4 131.6L227.0 133.4Z" fill="#e3191e" fill-opacity="0.45"/>
<path d="M220.4 116.7L216.8 118.5L220.4 120.3Z" fill="#e3191e" fill-opacity="0.45"/>
<path d="M216.0 119.3L212.4 121.1L216.0 122.9Z" fill="#e3191e" fill-opacity="0.45"/>
<path d="M215.0 121.1L211.4 122.9L215.0 124.7Z" fill="#e3191e" fill-opacity="0.45"/>
<path d="M225.5 126.9L221.9 128.7L225.5 130.5Z" fill="#e3191e" fill-opacity="0.45"/>
<path d="M223.4 125.0L219.8 126.8L223.4 128.6Z" fill="#e3191e" fill-opacity="0.45"/>
<path d="M204.3 124.3L200.7 126.1L204.3 127.9Z" fill="#e3191e" fill-opacity="0.45"/>
<path d="M212.0 122.6L208.4 124.4L212.0 126.2Z" fill="#e3191e" fill-opacity="0.45"/>
<path d="M214.8 118.9L211.2 120.7L214.8 122.5Z" fill="#e3191e" fill-opacity="0.45"/>
<path d="M232.9 127.3L229.3 129.1L232.9 130.9Z" fill="#e3191e" fill-opacity="0.45"/>
<path d="M226.2 125.6L222.6 127.4L226.2 129.2Z" fill="#e3191e" fill-opacity="0.45"/>
<path d="M216.9 124.9L213.3 126.7L216.9 128.5Z" fill="#e3191e" fill-opacity="0.45"/>
<path d="M215.7 116.9L212.1 118.7L215.7 120.5Z" fill="#e3191e" fill-opacity="0.45"/>
<path d="M215.4 118.6L211.8 120.4L215.4 122.2Z" fill="#e3191e" fill-opacity="0.45"/>
<path d="M203.9 113.1L200.3 114.9L203.9 116.7Z" fill="#e3191e" fill-opacity="0.45"/>
<path d="M209.7 127.6L206.1 129.4L209.7 131.2Z" fill="#e3191e" fill-opacity="0.45"/>
<path d="M220.8 129.0L217.2 130.8L220.8 132.6Z" fill="#e3191e" fill-opacity="0.45"/>
<path d="M220.9 124.6L217.3 126.4L220.9 128.2Z" fill="#e3191e" fill-opacity="0.45"/>
<path d="M219.8 124.6L216.2 126.4L219.8 128.2Z" fill="#e3191e" fill-opacity="0.45"/>
<path d="M203.0 115.0L199.4 116.8L203.0 118.6Z" fill="#e3191e" fill-opacity="0.45"/>
<path d="M225.4 116.3L221.8 118.1L225.4 119.9Z" fill="#e3191e" fill-opacity="0.45"/>
<path d="M212.4 131.0L208.8 132.8L212.4 134.6Z" fill="#e3191e" fill-opacity="0.45"/>
<path d="M204.9 120.3L201.3 122.1L204.9 123.9Z" fill="#e3191e" fill-opacity="0.45"/>
<path d="M216.0 118.2L212.4 120.0L216.0 121.8Z" fill="#e3191e" fill-opacity="0.45"/>
<path d="M212.6 125.2L209.0 127.0L212.6 128.8Z" fill="#e3191e" fill-opacity="0.45"/>
<path d="M207.2 124.4L203.6 126.2L207.2 128.0Z" fill="#e3191e" fill-opacity="0.45"/>
<path d="M224.8 120.4L221.2 122.2L224.8 124.0Z" fill="#e3191e" fill-opacity="0.45"/>
<path d="M227.6 128.9L224.0 130.7L227.6 132.5Z" fill="#e3191e" fill-opacity="0.45"/>
<path d="M222.7 111.6L219.1 113.4L222.7 115.2Z" fill="#e3191e" fill-opacity="0.45"/>
<path d="M218.9 132.7L215.3 134.5L218.9 136.3Z" fill="#e3191e" fill-opacity="0.45"/>
<path d="M207.1 121.7L203.5 123.5L207.1 125.3Z" fill="#e3191e" fill-opacity="0.45"/>
<path d="M216.3 125.2L212.7 127.0L216.3 128.8Z" fill="#e3191e" fill-opacity="0.45"/>
<path d="M206.4 120.7L202.8 122.5L206.4 124.3Z" fill="#e3191e" fill-opacity="0.45"/>
<path d="M213.5 126.5L209.9 128.3L213.5 130.1Z" fill="#e3191e" fill-opacity="0.45"/>
<path d="M210.6 121.0L207.0 122.8L210.6 124.6Z" fill="#e3191e" fill-opacity="0.45"/>
<path d="M213.0 117.4L209.4 119.2L213.0 121.0Z" fill="#e3191e" fill-opacity="0.45"/>
<path d="M220.9 124.5L217.3 126.3L220.9 128.1Z" fill="#e3191e" fill-opacity="0.45"/>
<path d="M205.7 120.6L202.1 122.4L205.7 124.2Z" fill="#e3191e" fill-opacity="0.45"/>
<path d="M228.6 130.8L225.0 132.6L228.6 134.4Z" fill="#e3191e" fill-opacity="0.45"/>
<path d="M229.8 132.6L226.2 134.4L229.8 136.2Z" fill="#e3191e" fill-opacity="0.45"/>
<path d="M221.8 124.8L218.2 126.6L221.8 128.4Z" fill="#e3191e" fill-opacity="0.45"/>
<path d="M208.1 124.4L204.5 126.2L208.1 128.0Z" fill="#e3191e" fill-opacity="0.45"/>
<path d="M219.5 124.8L215.9 126.6L219.5 128.4Z" fill="#e3191e" fill-opacity="0.45"/>
<path d="M226.4 116.9L222.8 118.7L226.4 120.5Z" fill="#e3191e" fill-opacity="0.45"/>
<path d="M218.7 123.6L215.1 125.4L218.7 127.2Z" fill="#e3191e" fill-opacity="0.45"/>
<path d="M210.8 123.3L207.2 125.1L210.8 126.9Z" fill="#e3191e" fill-opacity="0.45"/>
<path d="M211.5 110.2L207.9 112.0L211.5 113.8Z" fill="#e3191e" fill-opacity="0.45"/>
<path d="M212.4 117.3L208.8 119.1L212.4 120.9Z" fill="#e3191e" fill-opacity="0.45"/>
<path d="M215.7 123.3L212.1 125.1L215.7 126.9Z" fill="#e3191e" fill-opacity="0.45"/>
<path d="M228.0 130.3L224.4 132.1L228.0 133.9Z" fill="#e3191e" fill-opacity="0.45"/>
<path d="M221.6 120.8L218.0 122.6L221.6 124.4Z" fill="#e3191e" fill-opacity="0.45"/>
<path d="M215.4 130.4L211.8 132.2L215.4 134.0Z" fill="#e3191e" fill-opacity="0.45"/>
<path d="M215.1 126.0L211.5 127.8L215.1 129.6Z" fill="#e3191e" fill-opacity="0.45"/>
<path d="M217.3 121.6L213.7 123.4L217.3 125.2Z" fill="#e3191e" fill-opacity="0.45"/>
<path d="M212.0 122.6L208.4 124.4L212.0 126.2Z" fill="#e3191e" fill-opacity="0.45"/>
<path d="M198.2 118.0L194.6 119.8L198.2 121.6Z" fill="#e3191e" fill-opacity="0.45"/>
<path d="M228.5 124.9L224.9 126.7L228.5 128.5Z" fill="#e3191e" fill-opacity="0.45"/>
<path d="M221.2 120.3L217.6 122.1L221.2 123.9Z" fill="#e3191e" fill-opacity="0.45"/>
<path d="M217.5 115.1L213.9 116.9L217.5 118.7Z" fill="#e3191e" fill-opacity="0.45"/>
<path d="M222.5 122.0L218.9 123.8L222.5 125.6Z" fill="#e3191e" fill-opacity="0.45"/>
<path d="M219.4 120.8L215.8 122.6L219.4 124.4Z" fill="#e3191e" fill-opacity="0.45"/>
<path d="M202.2 110.6L198.6 112.4L202.2 114.2Z" fill="#e3191e" fill-opacity="0.45"/>
<path d="M218.0 115.0L214.4 116.8L218.0 118.6Z" fill="#e3191e" fill-opacity="0.45"/>
<path d="M217.5 126.3L213.9 128.1L217.5 129.9Z" fill="#e3191e" fill-opacity="0.45"/>
<path d="M204.4 114.0L200.8 115.8L204.4 117.6Z" fill="#e3191e" fill-opacity="0.45"/>
<path d="M214.5 126.8L210.9 128.6L214.5 130.4Z" fill="#e3191e" fill-opacity="0.45"/>
<path d="M217.9 115.6L214.3 117.4L217.9 119.2Z" fill="#e3191e" fill-opacity="0.45"/>
<path d="M215.0 123.4L211.4 125.2L215.0 127.0Z" fill="#e3191e" fill-opacity="0.45"/>
<path d="M211.9 122.4L208.3 124.2L211.9 126.0Z" fill="#e3191e" fill-opacity="0.45"/>
<path d="M208.1 116.5L204.5 118.3L208.1 120.1Z" fill="#e3191e" fill-opacity="0.45"/>
<path d="M231.4 131.1L227.8 132.9L231.4 134.7Z" fill="#e3191e" fill-opacity="0.45"/>
<path d="M220.5 122.1L216.9 123.9L220.5 125.7Z" fill="#e3191e" fill-opacity="0.45"/>
<path d="M209.2 130.3L205.6 132.1L209.2 133.9Z" fill="#e3191e" fill-opacity="0.45"/>
<path d="M219.9 123.9L216.3 125.7L219.9 127.5Z" fill="#e3191e" fill-opacity="0.45"/>
<path d="M204.0 123.5L200.4 125.3L204.0 127.1Z" fill="#e3191e" fill-opacity="0.45"/>
<path d="M223.6 126.8L220.0 128.6L223.6 130.4Z" fill="#e3191e" fill-opacity="0.45"/>
<path d="M218.5 116.4L214.9 118.2L218.5 120.0Z" fill="#e3191e" fill-opacity="0.45"/>
<path d="M204.9 119.7L201.3 121.5L204.9 123.3Z" fill="#e3191e" fill-opacity="0.45"/>
<path d="M215.5 116.5L211.9 118.3L215.5 120.1Z" fill="#e3191e" fill-opacity="0.45"/>
<path d="M212.3 126.7L208.7 128.5L212.3 130.3Z" fill="#e3191e" fill-opacity="0.45"/>
<path d="M217.6 120.5L214.0 122.3L217.6 124.1Z" fill="#e3191e" fill-opacity="0.45"/>
<path d="M212.3 116.6L208.7 118.4L212.3 120.2Z" fill="#e3191e" fill-opacity="0.45"/>
<path d="M218.1 126.1L214.5 127.9L218.1 129.7Z" fill="#e3191e" fill-opacity="0.45"/>
<path d="M227.1 129.8L223.5 131.6L227.1 133.4Z" fill="#e3191e" fill-opacity="0.45"/>
<path d="M209.0 117.2L205.4 119.0L209.0 120.8Z" fill="#e3191e" fill-opacity="0.45"/>
<path d="M227.4 120.1L223.8 121.9L227.4 123.7Z" fill="#e3191e" fill-opacity="0.45"/>
<path d="M214.0 121.7L210.4 123.5L214.0 125.3Z" fill="#e3191e" fill-opacity="0.45"/>
<path d="M211.8 118.4L208.2 120.2L211.8 122.0Z" fill="#e3191e" fill-opacity="0.45"/>
<path d="M213.6 119.5L210.0 121.3L213.6 123.1Z" fill="#e3191e" fill-opacity="0.45"/>
<path d="M223.1 116.2L219.5 118.0L223.1 119.8Z" fill="#e3191e" fill-opacity="0.45"/>
<path d="M218.9 130.6L215.3 132.4L218.9 134.2Z" fill="#e3191e" fill-opacity="0.45"/>
<path d="M218.7 124.3L215.1 126.1L218.7 127.9Z" fill="#e3191e" fill-opacity="0.45"/>
<path d="M211.2 118.5L207.6 120.3L211.2 122.1Z" fill="#e3191e" fill-opacity="0.45"/>
<path d="M209.3 121.8L205.7 123.6L209.3 125.4Z" fill="#e3191e" fill-opacity="0.45"/>
<path d="M219.4 115.3L215.8 117.1L219.4 118.9Z" fill="#e3191e" fill-opacity="0.45"/>
<path d="M220.7 121.5L217.1 123.3L220.7 125.1Z" fill="#e3191e" fill-opacity="0.45"/>
<path d="M211.9 128.7L208.3 130.5L211.9 132.3Z" fill="#e3191e" fill-opacity="0.45"/>
<path d="M212.4 121.6L208.8 123.4L212.4 125.2Z" fill="#e3191e" fill-opacity="0.45"/>
<path d="M210.4 119.4L206.8 121.2L210.4 123.0Z" fill="#e3191e" fill-opacity="0.45"/>
<path d="M211.9 116.7L208.3 118.5L211.9 120.3Z" fill="#e3191e" fill-opacity="0.45"/>
<path d="M220.1 129.9L216.5 131.7L220.1 133.5Z" fill="#e3191e" fill-opacity="0.45"/>
<path d="M219.7 121.6L216.1 123.4L219.7 125.2Z" fill="#e3191e" fill-opacity="0.45"/>
<path d="M216.0 127.0L212.4 128.8L216.0 130.6Z" fill="#e3191e" fill-opacity="0.45"/>
<path d="M222.2 134.2L218.6 136.0L222.2 137.8Z" fill="#e3191e" fill-opacity="0.45"/>
<path d="M212.9 121.2L209.3 123.0L212.9 124.8Z" fill="#e3191e" fill-opacity="0.45"/>
<path d="M216.4 124.9L212.8 126.7L216.4 128.5Z" fill="#e3191e" fill-opacity="0.45"/>
<path d="M213.6 127.0L210.0 128.8L213.6 130.6Z" fill="#e3191e" fill-opacity="0.45"/>
<path d="M222.3 121.2L218.7 123.0L222.3 124.8Z" fill="#e3191e" fill-opacity="0.45"/>
<path d="M199.3 111.5L195.7 113.3L199.3 115.1Z" fill="#e3191e" fill-opacity="0.45"/>
<path d="M208.5 118.9L204.9 120.7L208.5 122.5Z" fill="#e3191e" fill-opacity="0.45"/>
<path d="M225.2 120.6L221.6 122.4L225.2 124.2Z" fill="#e3191e" fill-opacity="0.45"/>
<path d="M202.6 120.5L199.0 122.3L202.6 124.1Z" fill="#e3191e" fill-opacity="0.45"/>
<path d="M215.1 123.5L211.5 125.3L215.1 127.1Z" fill="#e3191e" fill-opacity="0.45"/>
<path d="M215.1 125.5L211.5 127.3L215.1 129.1Z" fill="#e3191e" fill-opacity="0.45"/>
<path d="M220.2 120.8L216.6 122.6L220.2 124.4Z" fill="#e3191e" fill-opacity="0.45"/>
<path d="M218.7 123.8L215.1 125.6L218.7 127.4Z" fill="#e3191e" fill-opacity="0.45"/>
<path d="M220.3 118.4L216.7 120.2L220.3 122.0Z" fill="#e3191e" fill-opacity="0.45"/>
<path d="M222.6 123.2L219.0 125.0L222.6 126.8Z" fill="#e3191e" fill-opacity="0.45"/>
<path d="M217.9 124.8L214.3 126.6L217.9 128.4Z" fill="#e3191e" fill-opacity="0.45"/>
<path d="M217.8 117.1L214.2 118.9L217.8 120.7Z" fill="#e3191e" fill-opacity="0.45"/>
<path d="M229.0 117.8L225.4 119.6L229.0 121.4Z" fill="#e3191e" fill-opacity="0.45"/>
<path d="M212.5 120.5L208.9 122.3L212.5 124.1Z" fill="#e3191e" fill-opacity="0.45"/>
<path d="M227.4 118.8L223.8 120.6L227.4 122.4Z" fill="#e3191e" fill-opacity="0.45"/>
<path d="M208.5 116.2L204.9 118.0L208.5 119.8Z" fill="#e3191e" fill-opacity="0.45"/>
<path d="M218.7 118.7L215.1 120.5L218.7 122.3Z" fill="#e3191e" fill-opacity="0.45"/>
<path d="M233.7 130.4L230.1 132.2L233.7 134.0Z" fill="#e3191e" fill-opacity="0.45"/>
<path d="M208.9 119.7L205.3 121.5L208.9 123.3Z" fill="#e3191e" fill-opacity="0.45"/>
<path d="M230.0 120.8L226.4 122.6L230.0 124.4Z" fill="#e3191e" fill-opacity="0.45"/>
<path d="M203.5 119.5L199.9 121.3L203.5 123.1Z" fill="#e3191e" fill-opacity="0.45"/>
<path d="M224.8 125.3L221.2 127.1L224.8 128.9Z" fill="#e3191e" fill-opacity="0.45"/>
<path d="M198.4 114.2L194.8 116.0L198.4 117.8Z" fill="#e3191e" fill-opacity="0.45"/>
<path d="M221.7 129.3L218.1 131.1L221.7 132.9Z" fill="#e3191e" fill-opacity="0.45"/>
<path d="M216.3 125.8L212.7 127.6L216.3 129.4Z" fill="#e3191e" fill-opacity="0.45"/>
<path d="M217.0 120.4L213.4 122.2L217.0 124.0Z" fill="#e3191e" fill-opacity="0.45"/>
<path d="M227.3 122.7L223.7 124.5L227.3 126.3Z" fill="#e3191e" fill-opacity="0.45"/>
<path d="M230.0 123.6L226.4 125.4L230.0 127.2Z" fill="#e3191e" fill-opacity="0.45"/>
<path d="M210.5 117.0L206.9 118.8L210.5 120.6Z" fill="#e3191e" fill-opacity="0.45"/>
<path d="M227.3 132.0L223.7 133.8L227.3 135.6Z" fill="#e3191e" fill-opacity="0.45"/>
<path d="M218.3 118.8L214.7 120.6L218.3 122.4Z" fill="#e3191e" fill-opacity="0.45"/>
<path d="M207.2 129.6L203.6 131.4L207.2 133.2Z" fill="#e3191e" fill-opacity="0.45"/>
<path d="M212.8 122.9L209.2 124.7L212.8 126.5Z" fill="#e3191e" fill-opacity="0.45"/>
<path d="M214.8 128.3L211.2 130.1L214.8 131.9Z" fill="#e3191e" fill-opacity="0.45"/>
<path d="M219.1 119.7L215.5 121.5L219.1 123.3Z" fill="#e3191e" fill-opacity="0.45"/>
<path d="M213.4 115.2L209.8 117.0L213.4 118.8Z" fill="#e3191e" fill-opacity="0.45"/>
<path d="M214.4 118.8L210.8 120.6L214.4 122.4Z" fill="#e3191e" fill-opacity="0.45"/>
<path d="M217.2 120.2L213.6 122.0L217.2 123.8Z" fill="#e3191e" fill-opacity="0.45"/>
<path d="M222.4 128.2L218.8 130.0L222.4 131.8Z" fill="#e3191e" fill-opacity="0.45"/>
<path d="M226.5 122.0L222.9 123.8L226.5 125.6Z" fill="#e3191e" fill-opacity="0.45"/>
<path d="M227.2 119.2L223.6 121.0L227.2 122.8Z" fill="#e3191e" fill-opacity="0.45"/>
<path d="M210.7 110.7L207.1 112.5L210.7 114.3Z" fill="#e3191e" fill-opacity="0.45"/>
<path d="M230.2 126.0L226.6 127.8L230.2 129.6Z" fill="#e3191e" fill-opacity="0.45"/>
<path d="M218.4 125.7L214.8 127.5L218.4 129.3Z" fill="#e3191e" fill-opacity="0.45"/>
<path d="M206.3 119.7L202.7 121.5L206.3 123.3Z" fill="#e3191e" fill-opacity="0.45"/>
<path d="M199.8 117.3L196.2 119.1L199.8 120.9Z" fill="#e3191e" fill-opacity="0.45"/>
<path d="M208.0 110.6L204.4 112.4L208.0 114.2Z" fill="#e3191e" fill-opacity="0.45"/>
<path d="M218.0 122.5L214.4 124.3L218.0 126.1Z" fill="#e3191e" fill-opacity="0.45"/>
<path d="M206.5 130.6L202.9 132.4L206.5 134.2Z" fill="#e3191e" fill-opacity="0.45"/>
<path d="M220.7 126.3L217.1 128.1L220.7 129.9Z" fill="#e3191e" fill-opacity="0.45"/>
<path d="M218.8 128.9L215.2 130.7L218.8 132.5Z" fill="#e3191e" fill-opacity="0.45"/>
<path d="M200.6 117.9L197.0 119.7L200.6 121.5Z" fill="#e3191e" fill-opacity="0.45"/>
<path d="M231.5 126.1L227.9 127.9L231.5 129.7Z" fill="#e3191e" fill-opacity="0.45"/>
<path d="M209.8 125.3L206.2 127.1L209.8 128.9Z" fill="#e3191e" fill-opacity="0.45"/>
<path d="M223.6 124.7L220.0 126.5L223.6 128.3Z" fill="#e3191e" fill-opacity="0.45"/>
<path d="M193.1 117.9L189.5 119.7L193.1 121.5Z" fill="#e3191e" fill-opacity="0.45"/>
<path d="M214.9 121.0L211.3 122.8L214.9 124.6Z" fill="#e3191e" fill-opacity="0.45"/>
<path d="M212.4 119.5L208.8 121.3L212.4 123.1Z" fill="#e3191e" fill-opacity="0.45"/>
<path d="M229.9 129.5L226.3 131.3L229.9 133.1Z" fill="#e3191e" fill-opacity="0.45"/>
<path d="M217.6 117.8L214.0 119.6L217.6 121.4Z" fill="#e3191e" fill-opacity="0.45"/>
<path d="M221.0 122.6L217.4 124.4L221.0 126.2Z" fill="#e3191e" fill-opacity="0.45"/>
<path d="M218.1 123.1L214.5 124.9L218.1 126.7Z" fill="#e3191e" fill-opacity="0.45"/>
<path d="M210.0 119.6L206.4 121.4L210.0 123.2Z" fill="#e3191e" fill-opacity="0.45"/>
<path d="M209.2 108.8L205.6 110.6L209.2 112.4Z" fill="#e3191e" fill-opacity="0.45"/>
<path d="M201.5 117.2L197.9 119.0L201.5 120.8Z" fill="#e3191e" fill-opacity="0.45"/>
<path d="M223.1 129.4L219.5 131.2L223.1 133.0Z" fill="#e3191e" fill-opacity="0.45"/>
<path d="M216.5 130.6L212.9 132.4L216.5 134.2Z" fill="#e3191e" fill-opacity="0.45"/>
<path d="M209.5 118.0L205.9 119.8L209.5 121.6Z" fill="#e3191e" fill-opacity="0.45"/>
<path d="M210.9 121.8L207.3 123.6L210.9 125.4Z" fill="#e3191e" fill-opacity="0.45"/>
<path d="M216.2 116.7L212.6 118.5L216.2 120.3Z" fill="#e3191e" fill-opacity="0.45"/>
<path d="M218.6 125.7L215.0 127.5L218.6 129.3Z" fill="#e3191e" fill-opacity="0.45"/>
<path d="M210.6 122.1L207.0 123.9L210.6 125.7Z" fill="#e3191e" fill-opacity="0.45"/>
<path d="M219.1 127.9L215.5 129.7L219.1 131.5Z" fill="#e3191e" fill-opacity="0.45"/>
<path d="M215.8 121.3L212.2 123.1L215.8 124.9Z" fill="#e3191e" fill-opacity="0.45"/>
<path d="M214.9 118.5L211.3 120.3L214.9 122.1Z" fill="#e3191e" fill-opacity="0.45"/>
<path d="M202.3 116.3L198.7 118.1L202.3 119.9Z" fill="#e3191e" fill-opacity="0.45"/>
<path d="M209.1 127.3L205.5 129.1L209.1 130.9Z" fill="#e3191e" fill-opacity="0.45"/>
<path d="M220.5 125.6L216.9 127.4L220.5 129.2Z" fill="#e3191e" fill-opacity="0.45"/>
<path d="M220.1 123.5L216.5 125.3L220.1 127.1Z" fill="#e3191e" fill-opacity="0.45"/>
<path d="M213.3 111.0L209.7 112.8L213.3 114.6Z" fill="#e3191e" fill-opacity="0.45"/>
<path d="M217.6 119.3L214.0 121.1L217.6 122.9Z" fill="#e3191e" fill-opacity="0.45"/>
<path d="M208.9 115.0L205.3 116.8L208.9 118.6Z" fill="#e3191e" fill-opacity="0.45"/>
<path d="M214.8 122.9L211.2 124.7L214.8 126.5Z" fill="#e3191e" fill-opacity="0.45"/>
<path d="M229.7 119.3L226.1 121.1L229.7 122.9Z" fill="#e3191e" fill-opacity="0.45"/>
<path d="M213.3 122.5L209.7 124.3L213.3 126.1Z" fill="#e3191e" fill-opacity="0.45"/>
<path d="M218.2 119.8L214.6 121.6L218.2 123.4Z" fill="#e3191e" fill-opacity="0.45"/>
<path d="M235.9 134.1L232.3 135.9L235.9 137.7Z" fill="#e3191e" fill-opacity="0.45"/>
<path d="M216.4 125.1L212.8 126.9L216.4 128.7Z" fill="#e3191e" fill-opacity="0.45"/>
<path d="M211.3 113.9L207.7 115.7L211.3 117.5Z" fill="#e3191e" fill-opacity="0.45"/>
<path d="M213.9 118.7L210.3 120.5L213.9 122.3Z" fill="#e3191e" fill-opacity="0.45"/>
<path d="M222.4 121.8L218.8 123.6L222.4 125.4Z" fill="#e3191e" fill-opacity="0.45"/>
<path d="M216.8 129.8L213.2 131.6L216.8 133.4Z" fill="#e3191e" fill-opacity="0.45"/>
<path d="M215.2 126.2L211.6 128.0L215.2 129.8Z" fill="#e3191e" fill-opacity="0.45"/>
<path d="M213.3 125.8L209.7 127.6L213.3 129.4Z" fill="#e3191e" fill-opacity="0.45"/>
<path d="M216.8 119.8L213.2 121.6L216.8 123.4Z" fill="#e3191e" fill-opacity="0.45"/>
<path d="M224.6 125.2L221.0 127.0L224.6 128.8Z" fill="#e3191e" fill-opacity="0.45"/>
<path d="M222.0 120.2L218.4 122.0L222.0 123.8Z" fill="#e3191e" fill-opacity="0.45"/>
<path d="M207.7 122.6L204.1 124.4L207.7 126.2Z" fill="#e3191e" fill-opacity="0.45"/>
<path d="M219.8 124.6L216.2 126.4L219.8 128.2Z" fill="#e3191e" fill-opacity="0.45"/>
<path d="M218.5 124.7L214.9 126.5L218.5 128.3Z" fill="#e3191e" fill-opacity="0.45"/>
<path d="M214.4 123.9L210.8 125.7L214.4 127.5Z" fill="#e3191e" fill-opacity="0.45"/>
<path d="M218.0 121.9L214.4 123.7L218.0 125.5Z" fill="#e3191e" fill-opacity="0.45"/>
<path d="M215.1 123.1L211.5 124.9L215.1 126.7Z" fill="#e3191e" fill-opacity="0.45"/>
<path d="M204.6 112.1L201.0 113.9L204.6 115.7Z" fill="#e3191e" fill-opacity="0.45"/>
<path d="M209.3 117.7L205.7 119.5L209.3 121.3Z" fill="#e3191e" fill-opacity="0.45"/>
<path d="M219.9 117.4L216.3 119.2L219.9 121.0Z" fill="#e3191e" fill-opacity="0.45"/>
<path d="M215.7 114.5L212.1 116.3L215.7 118.1Z" fill="#e3191e" fill-opacity="0.45"/>
<path d="M215.0 123.1L211.4 124.9L215.0 126.7Z" fill="#e3191e" fill-opacity="0.45"/>
<path d="M213.2 123.6L209.6 125.4L213.2 127.2Z" fill="#e3191e" fill-opacity="0.45"/>
<path d="M218.2 113.9L214.6 115.7L218.2 117.5Z" fill="#e3191e" fill-opacity="0.45"/>
<path d="M223.9 127.3L220.3 129.1L223.9 130.9Z" fill="#e3191e" fill-opacity="0.45"/>
<path d="M208.4 117.5L204.8 119.3L208.4 121.1Z" fill="#e3191e" fill-opacity="0.45"/>
<path d="M212.4 134.9L208.8 136.7L212.4 138.5Z" fill="#e3191e" fill-opacity="0.45"/>
<path d="M222.3 116.9L218.7 118.7L222.3 120.5Z" fill="#e3191e" fill-opacity="0.45"/>
<path d="M226.6 116.9L223.0 118.7L226.6 120.5Z" fill="#e3191e" fill-opacity="0.45"/>
<path d="M227.5 121.3L223.9 123.1L227.5 124.9Z" fill="#e3191e" fill-opacity="0.45"/>
<path d="M215.2 120.5L211.6 122.3L215.2 124.1Z" fill="#e3191e" fill-opacity="0.45"/>
<path d="M211.6 123.7L208.0 125.5L211.6 127.3Z" fill="#e3191e" fill-opacity="0.45"/>
<path d="M216.5 120.9L212.9 122.7L216.5 124.5Z" fill="#e3191e" fill-opacity="0.45"/>
<path d="M216.4 117.2L212.8 119.0L216.4 120.8Z" fill="#e3191e" fill-opacity="0.45"/>
<path d="M220.7 126.3L217.1 128.1L220.7 129.9Z" fill="#e3191e" fill-opacity="0.45"/>
<path d="M211.9 126.8L208.3 128.6L211.9 130.4Z" fill="#e3191e" fill-opacity="0.45"/>
<path d="M214.3 124.5L210.7 126.3L214.3 128.1Z" fill="#e3191e" fill-opacity="0.45"/>
<path d="M220.1 119.2L216.5 121.0L220.1 122.8Z" fill="#e3191e" fill-opacity="0.45"/>
<path d="M217.2 119.8L213.6 121.6L217.2 123.4Z" fill="#e3191e" fill-opacity="0.45"/>
<path d="M211.8 122.1L208.2 123.9L211.8 125.7Z" fill="#e3191e" fill-opacity="0.45"/>
<path d="M214.1 126.4L210.5 128.2L214.1 130.0Z" fill="#e3191e" fill-opacity="0.45"/>
<path d="M223.2 120.8L219.6 122.6L223.2 124.4Z" fill="#e3191e" fill-opacity="0.45"/>
<path d="M221.5 121.1L217.9 122.9L221.5 124.7Z" fill="#e3191e" fill-opacity="0.45"/>
<path d="M227.6 129.8L224.0 131.6L227.6 133.4Z" fill="#e3191e" fill-opacity="0.45"/>
<path d="M213.0 124.2L209.4 126.0L213.0 127.8Z" fill="#e3191e" fill-opacity="0.45"/>
<path d="M209.8 105.1L206.2 106.9L209.8 108.7Z" fill="#e3191e" fill-opacity="0.45"/>
<path d="M207.5 117.2L203.9 119.0L207.5 120.8Z" fill="#e3191e" fill-opacity="0.45"/>
<path d="M215.5 123.3L211.9 125.1L215.5 126.9Z" fill="#e3191e" fill-opacity="0.45"/>
<path d="M211.8 122.5L208.2 124.3L211.8 126.1Z" fill="#e3191e" fill-opacity="0.45"/>
<path d="M212.2 119.6L208.6 121.4L212.2 123.2Z" fill="#e3191e" fill-opacity="0.45"/>
<path d="M214.3 124.7L210.7 126.5L214.3 128.3Z" fill="#e3191e" fill-opacity="0.45"/>
<path d="M228.4 128.1L224.8 129.9L228.4 131.7Z" fill="#e3191e" fill-opacity="0.45"/>
<path d="M206.6 123.6L203.0 125.4L206.6 127.2Z" fill="#e3191e" fill-opacity="0.45"/>
<path d="M216.8 114.9L213.2 116.7L216.8 118.5Z" fill="#e3191e" fill-opacity="0.45"/>
<path d="M211.1 119.4L207.5 121.2L211.1 123.0Z" fill="#e3191e" fill-opacity="0.45"/>
<path d="M211.5 117.4L207.9 119.2L211.5 121.0Z" fill="#e3191e" fill-opacity="0.45"/>
<path d="M211.4 128.4L207.8 130.2L211.4 132.0Z" fill="#e3191e" fill-opacity="0.45"/>
<path d="M228.6 121.0L225.0 122.8L228.6 124.6Z" fill="#e3191e" fill-opacity="0.45"/>
<path d="M225.4 122.1L221.8 123.9L225.4 125.7Z" fill="#e3191e" fill-opacity="0.45"/>
<path d="M221.2 119.5L217.6 121.3L221.2 123.1Z" fill="#e3191e" fill-opacity="0.8"/>
<path d="M219.1 121.6L215.5 123.4L219.1 125.2Z" fill="#e3191e" fill-opacity="0.8"/>
<path d="M216.2 123.4L212.6 125.2L216.2 127.0Z" fill="#e3191e" fill-opacity="0.8"/>
<path d="M201.4 122.4L197.8 124.2L201.4 126.0Z" fill="#e3191e" fill-opacity="0.8"/>
<path d="M212.2 119.0L208.6 120.8L212.2 122.6Z" fill="#e3191e" fill-opacity="0.8"/>
<path d="M213.6 118.3L210.0 120.1L213.6 121.9Z" fill="#e3191e" fill-opacity="0.8"/>
<path d="M210.1 115.8L206.5 117.6L210.1 119.4Z" fill="#e3191e" fill-opacity="0.8"/>
<path d="M215.9 117.0L212.3 118.8L215.9 120.6Z" fill="#e3191e" fill-opacity="0.8"/>
<path d="M212.5 121.6L208.9 123.4L212.5 125.2Z" fill="#e3191e" fill-opacity="0.8"/>
<path d="M217.6 123.3L214.0 125.1L217.6 126.9Z" fill="#e3191e" fill-opacity="0.8"/>
<path d="M207.4 123.9L203.8 125.7L207.4 127.5Z" fill="#e3191e" fill-opacity="0.8"/>
<path d="M218.8 121.1L215.2 122.9L218.8 124.7Z" fill="#e3191e" fill-opacity="0.8"/>
<path d="M216.3 118.4L212.7 120.2L216.3 122.0Z" fill="#e3191e" fill-opacity="0.8"/>
<path d="M205.7 123.2L202.1 125.0L205.7 126.8Z" fill="#e3191e" fill-opacity="0.8"/>
<path d="M210.8 117.3L207.2 119.1L210.8 120.9Z" fill="#e3191e" fill-opacity="0.8"/>
<path d="M220.2 122.0L216.6 123.8L220.2 125.6Z" fill="#e3191e" fill-opacity="0.8"/>
<path d="M214.4 122.9L210.8 124.7L214.4 126.5Z" fill="#e3191e" fill-opacity="0.8"/>
<path d="M211.7 125.6L208.1 127.4L211.7 129.2Z" fill="#e3191e" fill-opacity="0.8"/>
<path d="M221.1 125.5L217.5 127.3L221.1 129.1Z" fill="#e3191e" fill-opacity="0.8"/>
<path d="M218.1 126.3L214.5 128.1L218.1 129.9Z" fill="#e3191e" fill-opacity="0.8"/>
<path d="M222.7 126.2L219.1 128.0L222.7 129.8Z" fill="#e3191e" fill-opacity="0.8"/>
<path d="M204.8 118.4L201.2 120.2L204.8 122.0Z" fill="#e3191e" fill-opacity="0.8"/>
<path d="M215.3 123.6L211.7 125.4L215.3 127.2Z" fill="#e3191e" fill-opacity="0.8"/>
<path d="M212.2 118.7L208.6 120.5L212.2 122.3Z" fill="#e3191e" fill-opacity="0.8"/>
<path d="M223.7 123.3L220.1 125.1L223.7 126.9Z" fill="#e3191e" fill-opacity="0.8"/>
<path d="M221.8 120.2L218.2 122.0L221.8 123.8Z" fill="#e3191e" fill-opacity="0.8"/>
<path d="M215.3 118.9L211.7 120.7L215.3 122.5Z" fill="#e3191e" fill-opacity="0.8"/>
<path d="M212.2 120.0L208.6 121.8L212.2 123.6Z" fill="#e3191e" fill-opacity="0.8"/>
<path d="M214.0 117.5L210.4 119.3L214.0 121.1Z" fill="#e3191e" fill-opacity="0.8"/>
<path d="M223.0 122.2L219.4 124.0L223.0 125.8Z" fill="#e3191e" fill-opacity="0.8"/>
<path d="M216.0 120.1L212.4 121.9L216.0 123.7Z" fill="#e3191e" fill-opacity="0.8"/>
<path d="M225.2 124.9L221.6 126.7L225.2 128.5Z" fill="#e3191e" fill-opacity="0.8"/>
<path d="M213.7 126.4L210.1 128.2L213.7 130.0Z" fill="#e3191e" fill-opacity="0.8"/>
<path d="M215.1 118.3L211.5 120.1L215.1 121.9Z" fill="#e3191e" fill-opacity="0.8"/>
<path d="M214.7 122.7L211.1 124.5L214.7 126.3Z" fill="#e3191e" fill-opacity="0.8"/>
<path d="M218.4 125.2L214.8 127.0L218.4 128.8Z" fill="#e3191e" fill-opacity="0.8"/>
<path d="M214.4 123.6L210.8 125.4L214.4 127.2Z" fill="#e3191e" fill-opacity="0.8"/>
<path d="M219.0 121.3L215.4 123.1L219.0 124.9Z" fill="#e3191e" fill-opacity="0.8"/>
<path d="M213.4 121.9L209.8 123.7L213.4 125.5Z" fill="#e3191e" fill-opacity="0.8"/>
<path d="M213.9 121.6L210.3 123.4L213.9 125.2Z" fill="#e3191e" fill-opacity="0.8"/>
<path d="M217.0 129.0L213.4 130.8L217.0 132.6Z" fill="#e3191e" fill-opacity="0.8"/>
<path d="M210.4 116.8L206.8 118.6L210.4 120.4Z" fill="#e3191e" fill-opacity="0.8"/>
<path d="M208.9 118.1L205.3 119.9L208.9 121.7Z" fill="#e3191e" fill-opacity="0.8"/>
<path d="M216.3 122.8L212.7 124.6L216.3 126.4Z" fill="#e3191e" fill-opacity="0.8"/>
<path d="M212.6 119.4L209.0 121.2L212.6 123.0Z" fill="#e3191e" fill-opacity="0.8"/>
<path d="M226.1 126.6L222.5 128.4L226.1 130.2Z" fill="#e3191e" fill-opacity="0.8"/>
<path d="M210.4 115.5L206.8 117.3L210.4 119.1Z" fill="#e3191e" fill-opacity="0.8"/>
<path d="M214.1 123.3L210.5 125.1L214.1 126.9Z" fill="#e3191e" fill-opacity="0.8"/>
<path d="M217.0 119.9L213.4 121.7L217.0 123.5Z" fill="#e3191e" fill-opacity="0.8"/>
<path d="M209.5 127.8L205.9 129.6L209.5 131.4Z" fill="#e3191e" fill-opacity="0.8"/>
<path d="M212.9 115.0L209.3 116.8L212.9 118.6Z" fill="#e3191e" fill-opacity="0.8"/>
<path d="M217.5 120.8L213.9 122.6L217.5 124.4Z" fill="#e3191e" fill-opacity="0.8"/>
<path d="M218.3 124.5L214.7 126.3L218.3 128.1Z" fill="#e3191e" fill-opacity="0.8"/>
<path d="M227.0 122.1L223.4 123.9L227.0 125.7Z" fill="#e3191e" fill-opacity="0.8"/>
<path d="M219.9 126.2L216.3 128.0L219.9 129.8Z" fill="#e3191e" fill-opacity="0.8"/>
<path d="M221.0 125.2L217.4 127.0L221.0 128.8Z" fill="#e3191e" fill-opacity="0.8"/>
<path d="M219.6 119.6L216.0 121.4L219.6 123.2Z" fill="#e3191e" fill-opacity="0.8"/>
<path d="M214.7 123.6L211.1 125.4L214.7 127.2Z" fill="#e3191e" fill-opacity="0.8"/>
<path d="M218.5 118.4L214.9 120.2L218.5 122.0Z" fill="#e3191e" fill-opacity="0.8"/>
<path d="M219.3 123.6L215.7 125.4L219.3 127.2Z" fill="#e3191e" fill-opacity="0.8"/>
<path d="M220.1 125.6L216.5 127.4L220.1 129.2Z" fill="#e3191e" fill-opacity="0.8"/>
<path d="M218.1 125.6L214.5 127.4L218.1 129.2Z" fill="#e3191e" fill-opacity="0.8"/>
<path d="M224.0 135.5L220.4 137.3L224.0 139.1Z" fill="#e3191e" fill-opacity="0.8"/>
<path d="M216.1 120.7L212.5 122.5L216.1 124.3Z" fill="#e3191e" fill-opacity="0.8"/>
<path d="M215.7 120.0L212.1 121.8L215.7 123.6Z" fill="#e3191e" fill-opacity="0.8"/>
<path d="M219.0 118.4L215.4 120.2L219.0 122.0Z" fill="#e3191e" fill-opacity="0.8"/>
<path d="M217.5 118.4L213.9 120.2L217.5 122.0Z" fill="#e3191e" fill-opacity="0.8"/>
<path d="M216.5 118.4L212.9 120.2L216.5 122.0Z" fill="#e3191e" fill-opacity="0.8"/>
<path d="M214.4 118.7L210.8 120.5L214.4 122.3Z" fill="#e3191e" fill-opacity="0.8"/>
<path d="M219.6 127.5L216.0 129.3L219.6 131.1Z" fill="#e3191e" fill-opacity="0.8"/>
<path d="M223.3 122.8L219.7 124.6L223.3 126.4Z" fill="#e3191e" fill-opacity="0.8"/>
<path d="M215.5 124.1L211.9 125.9L215.5 127.7Z" fill="#e3191e" fill-opacity="0.8"/>
<path d="M215.8 125.6L212.2 127.4L215.8 129.2Z" fill="#e3191e" fill-opacity="0.8"/>
<path d="M211.6 122.1L208.0 123.9L211.6 125.7Z" fill="#e3191e" fill-opacity="0.8"/>
<path d="M211.8 117.8L208.2 119.6L211.8 121.4Z" fill="#e3191e" fill-opacity="0.8"/>
<path d="M215.9 123.2L212.3 125.0L215.9 126.8Z" fill="#e3191e" fill-opacity="0.8"/>
<path d="M214.3 119.6L210.7 121.4L214.3 123.2Z" fill="#e3191e" fill-opacity="0.8"/>
<path d="M214.4 119.9L210.8 121.7L214.4 123.5Z" fill="#e3191e" fill-opacity="0.8"/>
<path d="M211.4 121.9L207.8 123.7L211.4 125.5Z" fill="#e3191e" fill-opacity="0.8"/>
<path d="M218.3 121.0L214.7 122.8L218.3 124.6Z" fill="#e3191e" fill-opacity="0.8"/>
<path d="M220.1 121.3L216.5 123.1L220.1 124.9Z" fill="#e3191e" fill-opacity="0.8"/>
<path d="M215.8 125.9L212.2 127.7L215.8 129.5Z" fill="#e3191e" fill-opacity="0.8"/>
<path d="M222.2 121.1L218.6 122.9L222.2 124.7Z" fill="#e3191e" fill-opacity="0.8"/>
<path d="M218.5 130.6L214.9 132.4L218.5 134.2Z" fill="#e3191e" fill-opacity="0.8"/>
<path d="M216.7 128.4L213.1 130.2L216.7 132.0Z" fill="#e3191e" fill-opacity="0.8"/>
<path d="M219.0 114.0L215.4 115.8L219.0 117.6Z" fill="#e3191e" fill-opacity="0.8"/>
<path d="M223.7 123.4L220.1 125.2L223.7 127.0Z" fill="#e3191e" fill-opacity="0.8"/>
<path d="M213.3 114.6L209.7 116.4L213.3 118.2Z" fill="#e3191e" fill-opacity="0.8"/>
<path d="M220.1 121.4L216.5 123.2L220.1 125.0Z" fill="#e3191e" fill-opacity="0.8"/>
<path d="M220.1 119.1L216.5 120.9L220.1 122.7Z" fill="#e3191e" fill-opacity="0.8"/>
<path d="M212.8 118.1L209.2 119.9L212.8 121.7Z" fill="#e3191e" fill-opacity="0.8"/>
<path d="M212.1 117.8L208.5 119.6L212.1 121.4Z" fill="#e3191e" fill-opacity="0.8"/>
<path d="M214.8 126.3L211.2 128.1L214.8 129.9Z" fill="#e3191e" fill-opacity="0.8"/>
<path d="M215.0 125.4L211.4 127.2L215.0 129.0Z" fill="#e3191e" fill-opacity="0.8"/>
<path d="M222.4 119.7L218.8 121.5L222.4 123.3Z" fill="#e3191e" fill-opacity="0.8"/>
<path d="M225.4 130.6L221.8 132.4L225.4 134.2Z" fill="#e3191e" fill-opacity="0.8"/>
<path d="M218.5 124.2L214.9 126.0L218.5 127.8Z" fill="#e3191e" fill-opacity="0.8"/>
<path d="M225.7 127.2L222.1 129.0L225.7 130.8Z" fill="#e3191e" fill-opacity="0.8"/>
<path d="M214.6 122.6L211.0 124.4L214.6 126.2Z" fill="#e3191e" fill-opacity="0.8"/>
<path d="M210.2 123.9L206.6 125.7L210.2 127.5Z" fill="#e3191e" fill-opacity="0.8"/>
<path d="M215.1 122.1L211.5 123.9L215.1 125.7Z" fill="#e3191e" fill-opacity="0.8"/>
<path d="M209.6 123.3L206.0 125.1L209.6 126.9Z" fill="#e3191e" fill-opacity="0.8"/>
<path d="M220.2 115.2L216.6 117.0L220.2 118.8Z" fill="#e3191e" fill-opacity="0.8"/>
<path d="M222.5 122.6L218.9 124.4L222.5 126.2Z" fill="#e3191e" fill-opacity="0.8"/>
<path d="M214.8 124.6L211.2 126.4L214.8 128.2Z" fill="#e3191e" fill-opacity="0.8"/>
<path d="M222.8 121.2L219.2 123.0L222.8 124.8Z" fill="#e3191e" fill-opacity="0.8"/>
<path d="M208.0 115.9L204.4 117.7L208.0 119.5Z" fill="#e3191e" fill-opacity="0.8"/>
<path d="M210.9 122.1L207.3 123.9L210.9 125.7Z" fill="#e3191e" fill-opacity="0.8"/>
<path d="M213.3 119.7L209.7 121.5L213.3 123.3Z" fill="#e3191e" fill-opacity="0.8"/>
<path d="M220.9 117.9L217.3 119.7L220.9 121.5Z" fill="#e3191e" fill-opacity="0.8"/>
<path d="M211.8 125.4L208.2 127.2L211.8 129.0Z" fill="#e3191e" fill-opacity="0.8"/>
<path d="M213.3 122.4L209.7 124.2L213.3 126.0Z" fill="#e3191e" fill-opacity="0.8"/>
<path d="M220.3 124.0L216.7 125.8L220.3 127.6Z" fill="#e3191e" fill-opacity="0.8"/>
<path d="M208.3 124.5L204.7 126.3L208.3 128.1Z" fill="#e3191e" fill-opacity="0.8"/>
<path d="M206.0 113.8L202.4 115.6L206.0 117.4Z" fill="#e3191e" fill-opacity="0.8"/>
<path d="M216.3 119.0L212.7 120.8L216.3 122.6Z" fill="#e3191e" fill-opacity="0.8"/>
<path d="M204.8 120.4L201.2 122.2L204.8 124.0Z" fill="#e3191e" fill-opacity="0.8"/>
<path d="M215.3 123.7L211.7 125.5L215.3 127.3Z" fill="#e3191e" fill-opacity="0.8"/>
<path d="M216.7 127.4L213.1 129.2L216.7 131.0Z" fill="#e3191e" fill-opacity="0.8"/>
<path d="M227.1 125.1L223.5 126.9L227.1 128.7Z" fill="#e3191e" fill-opacity="0.8"/>
<path d="M219.4 121.0L215.8 122.8L219.4 124.6Z" fill="#e3191e" fill-opacity="0.8"/>
<path d="M220.8 122.3L217.2 124.1L220.8 125.9Z" fill="#e3191e" fill-opacity="0.8"/>
<path d="M212.4 123.1L208.8 124.9L212.4 126.7Z" fill="#e3191e" fill-opacity="0.8"/>
<path d="M220.5 121.9L216.9 123.7L220.5 125.5Z" fill="#e3191e" fill-opacity="0.8"/>
<path d="M218.1 120.0L214.5 121.8L218.1 123.6Z" fill="#e3191e" fill-opacity="0.8"/>
<path d="M218.3 114.3L214.7 116.1L218.3 117.9Z" fill="#e3191e" fill-opacity="0.8"/>
<path d="M207.4 119.3L203.8 121.1L207.4 122.9Z" fill="#e3191e" fill-opacity="0.8"/>
<path d="M218.4 120.4L214.8 122.2L218.4 124.0Z" fill="#e3191e" fill-opacity="0.8"/>
<path d="M213.5 118.5L209.9 120.3L213.5 122.1Z" fill="#e3191e" fill-opacity="0.8"/>
<path d="M217.6 123.0L214.0 124.8L217.6 126.6Z" fill="#e3191e" fill-opacity="0.8"/>
<path d="M213.5 120.2L209.9 122.0L213.5 123.8Z" fill="#e3191e" fill-opacity="0.8"/>
<path d="M208.1 121.0L204.5 122.8L208.1 124.6Z" fill="#e3191e" fill-opacity="0.8"/>
<path d="M207.8 122.8L204.2 124.6L207.8 126.4Z" fill="#e3191e" fill-opacity="0.8"/>
<path d="M216.3 127.9L212.7 129.7L216.3 131.5Z" fill="#e3191e" fill-opacity="0.8"/>
<path d="M215.3 119.2L211.7 121.0L215.3 122.8Z" fill="#e3191e" fill-opacity="0.8"/>
<path d="M215.1 121.6L211.5 123.4L215.1 125.2Z" fill="#e3191e" fill-opacity="0.8"/>
<path d="M214.3 119.1L210.7 120.9L214.3 122.7Z" fill="#e3191e" fill-opacity="0.8"/>
<path d="M217.5 122.1L213.9 123.9L217.5 125.7Z" fill="#e3191e" fill-opacity="0.8"/>
<path d="M212.4 117.9L208.8 119.7L212.4 121.5Z" fill="#e3191e" fill-opacity="0.8"/>
<path d="M206.2 121.5L202.6 123.3L206.2 125.1Z" fill="#e3191e" fill-opacity="0.8"/>
<path d="M207.5 120.8L203.9 122.6L207.5 124.4Z" fill="#e3191e" fill-opacity="0.8"/>
<path d="M224.4 119.5L220.8 121.3L224.4 123.1Z" fill="#e3191e" fill-opacity="0.8"/>
<path d="M219.3 112.8L215.7 114.6L219.3 116.4Z" fill="#e3191e" fill-opacity="0.8"/>
<path d="M221.6 122.0L218.0 123.8L221.6 125.6Z" fill="#e3191e" fill-opacity="0.8"/>
<path d="M217.2 123.6L213.6 125.4L217.2 127.2Z" fill="#e3191e" fill-opacity="0.8"/>
<path d="M219.1 127.4L215.5 129.2L219.1 131.0Z" fill="#e3191e" fill-opacity="0.8"/>
<path d="M209.9 118.6L206.3 120.4L209.9 122.2Z" fill="#e3191e" fill-opacity="0.8"/>
<path d="M217.7 125.6L214.1 127.4L217.7 129.2Z" fill="#e3191e" fill-opacity="0.8"/>
<path d="M215.1 122.7L211.5 124.5L215.1 126.3Z" fill="#e3191e" fill-opacity="0.8"/>
<path d="M212.1 120.4L208.5 122.2L212.1 124.0Z" fill="#e3191e" fill-opacity="0.8"/>
<path d="M211.7 123.4L208.1 125.2L211.7 127.0Z" fill="#e3191e" fill-opacity="0.8"/>
<path d="M212.2 121.7L208.6 123.5L212.2 125.3Z" fill="#e3191e" fill-opacity="0.8"/>
<path d="M218.8 113.8L215.2 115.6L218.8 117.4Z" fill="#e3191e" fill-opacity="0.8"/>
<path d="M208.3 113.4L204.7 115.2L208.3 117.0Z" fill="#e3191e" fill-opacity="0.8"/>
<path d="M217.0 121.6L213.4 123.4L217.0 125.2Z" fill="#e3191e" fill-opacity="0.8"/>
<path d="M215.9 111.3L212.3 113.1L215.9 114.9Z" fill="#e3191e" fill-opacity="0.8"/>
<path d="M212.6 126.3L209.0 128.1L212.6 129.9Z" fill="#e3191e" fill-opacity="0.8"/>
<path d="M203.8 112.8L200.2 114.6L203.8 116.4Z" fill="#e3191e" fill-opacity="0.8"/>
<path d="M205.0 116.9L201.4 118.7L205.0 120.5Z" fill="#e3191e" fill-opacity="0.8"/>
<path d="M213.9 121.3L210.3 123.1L213.9 124.9Z" fill="#e3191e" fill-opacity="0.8"/>
<path d="M177.9 107.2L173.9 109.2L177.9 111.2Z" fill="#e3191e" fill-opacity="0.35"/>
<path d="M180.3 112.1L176.3 114.1L180.3 116.1Z" fill="#e3191e" fill-opacity="0.35"/>
<path d="M181.1 116.2L177.1 118.2L181.1 120.2Z" fill="#e3191e" fill-opacity="0.35"/>
<path d="M186.8 115.4L182.8 117.4L186.8 119.4Z" fill="#e3191e" fill-opacity="0.35"/>
<path d="M179.5 119.5L175.5 121.5L179.5 123.5Z" fill="#e3191e" fill-opacity="0.35"/>
<path d="M195.0 130.1L191.0 132.1L195.0 134.1Z" fill="#e3191e" fill-opacity="0.35"/>
<path d="M233.0 117.6L229.0 119.6L233.0 121.6Z" fill="#e3191e" fill-opacity="0.35"/>
<path d="M246.0 122.5L242.0 124.5L246.0 126.5Z" fill="#e3191e" fill-opacity="0.35"/>
<path d="M236.2 125.7L232.2 127.7L236.2 129.7Z" fill="#e3191e" fill-opacity="0.35"/>
<path d="M230.5 137.1L226.5 139.1L230.5 141.1Z" fill="#e3191e" fill-opacity="0.35"/>
<path d="M52.60 253.65v-2.4M52.60 6.90v2.4M66.11 253.65v-2.4M66.11 6.90v2.4M79.63 253.65v-2.4M79.63 6.90v2.4M93.14 253.65v-2.4M93.14 6.90v2.4M106.66 253.65v-2.4M106.66 6.90v2.4M120.18 253.65v-2.4M120.18 6.90v2.4M133.69 253.65v-2.4M133.69 6.90v2.4M147.20 253.65v-2.4M147.20 6.90v2.4M160.72 253.65v-2.4M160.72 6.90v2.4M174.23 253.65v-2.4M174.23 6.90v2.4M187.75 253.65v-2.4M187.75 6.90v2.4M201.26 253.65v-2.4M201.26 6.90v2.4M214.78 253.65v-2.4M214.78 6.90v2.4M228.29 253.65v-2.4M228.29 6.90v2.4M241.81 253.65v-2.4M241.81 6.90v2.4M255.32 253.65v-2.4M255.32 6.90v2.4M268.84 253.65v-2.4M268.84 6.90v2.4M282.36 253.65v-2.4M282.36 6.90v2.4M295.87 253.65v-2.4M295.87 6.90v2.4M309.38 253.65v-2.4M309.38 6.90v2.4M322.90 253.65v-2.4M322.90 6.90v2.4M336.42 253.65v-2.4M336.42 6.90v2.4M52.60 253.65v-4.2M52.60 6.90v4.2M120.18 253.65v-4.2M120.18 6.90v4.2M187.75 253.65v-4.2M187.75 6.90v4.2M255.32 253.65v-4.2M255.32 6.90v4.2M322.90 253.65v-4.2M322.90 6.90v4.2M52.60 6.90h2.4M349.20 6.90h-2.4M52.60 15.12h2.4M349.20 15.12h-2.4M52.60 23.35h2.4M349.20 23.35h-2.4M52.60 31.58h2.4M349.20 31.58h-2.4M52.60 39.80h2.4M349.20 39.80h-2.4M52.60 48.02h2.4M349.20 48.02h-2.4M52.60 56.25h2.4M349.20 56.25h-2.4M52.60 64.48h2.4M349.20 64.48h-2.4M52.60 72.70h2.4M349.20 72.70h-2.4M52.60 80.93h2.4M349.20 80.93h-2.4M52.60 89.15h2.4M349.20 89.15h-2.4M52.60 97.38h2.4M349.20 97.38h-2.4M52.60 105.60h2.4M349.20 105.60h-2.4M52.60 113.83h2.4M349.20 113.83h-2.4M52.60 122.05h2.4M349.20 122.05h-2.4M52.60 130.28h2.4M349.20 130.28h-2.4M52.60 138.50h2.4M349.20 138.50h-2.4M52.60 146.72h2.4M349.20 146.72h-2.4M52.60 154.95h2.4M349.20 154.95h-2.4M52.60 163.18h2.4M349.20 163.18h-2.4M52.60 171.40h2.4M349.20 171.40h-2.4M52.60 179.62h2.4M349.20 179.62h-2.4M52.60 187.85h2.4M349.20 187.85h-2.4M52.60 196.08h2.4M349.20 196.08h-2.4M52.60 204.30h2.4M349.20 204.30h-2.4M52.60 212.53h2.4M349.20 212.53h-2.4M52.60 220.75h2.4M349.20 220.75h-2.4M52.60 228.97h2.4M349.20 228.97h-2.4M52.60 237.20h2.4M349.20 237.20h-2.4M52.60 245.43h2.4M349.20 245.43h-2.4M52.60 253.65h2.4M349.20 253.65h-2.4M52.60 6.90h4.2M349.20 6.90h-4.2M52.60 48.02h4.2M349.20 48.02h-4.2M52.60 89.15h4.2M349.20 89.15h-4.2M52.60 130.28h4.2M349.20 130.28h-4.2M52.60 171.40h4.2M349.20 171.40h-4.2M52.60 212.53h4.2M349.20 212.53h-4.2M52.60 253.65h4.2M349.20 253.65h-4.2" stroke="#000" stroke-width="1.1" fill="none"/>
<rect x="52.60" y="6.90" width="296.60" height="246.75" stroke="#000" stroke-width="1.3" fill="none"/>
<text x="52.60" y="267.65" font-size="12" text-anchor="middle" fill="#000" textLength="27.23" lengthAdjust="spacingAndGlyphs" stroke="#000" stroke-width="0.2">-300</text>
<text x="120.18" y="267.65" font-size="12" text-anchor="middle" fill="#000" textLength="27.23" lengthAdjust="spacingAndGlyphs" stroke="#000" stroke-width="0.2">-250</text>
<text x="187.75" y="267.65" font-size="12" text-anchor="middle" fill="#000" textLength="27.23" lengthAdjust="spacingAndGlyphs" stroke="#000" stroke-width="0.2">-200</text>
<text x="255.32" y="267.65" font-size="12" text-anchor="middle" fill="#000" textLength="27.23" lengthAdjust="spacingAndGlyphs" stroke="#000" stroke-width="0.2">-150</text>
<text x="322.90" y="267.65" font-size="12" text-anchor="middle" fill="#000" textLength="27.23" lengthAdjust="spacingAndGlyphs" stroke="#000" stroke-width="0.2">-100</text>
<text x="46.40" y="12.20" font-size="12" text-anchor="end" fill="#000" textLength="27.23" lengthAdjust="spacingAndGlyphs" stroke="#000" stroke-width="0.2">-200</text>
<text x="46.40" y="53.32" font-size="12" text-anchor="end" fill="#000" textLength="27.23" lengthAdjust="spacingAndGlyphs" stroke="#000" stroke-width="0.2">-150</text>
<text x="46.40" y="94.45" font-size="12" text-anchor="end" fill="#000" textLength="27.23" lengthAdjust="spacingAndGlyphs" stroke="#000" stroke-width="0.2">-100</text>
<text x="46.40" y="135.58" font-size="12" text-anchor="end" fill="#000" textLength="19.60" lengthAdjust="spacingAndGlyphs" stroke="#000" stroke-width="0.2">-50</text>
<text x="46.40" y="176.70" font-size="12" text-anchor="end" fill="#000" textLength="7.63" lengthAdjust="spacingAndGlyphs" stroke="#000" stroke-width="0.2">0</text>
<text x="46.40" y="217.83" font-size="12" text-anchor="end" fill="#000" textLength="15.26" lengthAdjust="spacingAndGlyphs" stroke="#000" stroke-width="0.2">50</text>
<text x="46.40" y="258.95" font-size="12" text-anchor="end" fill="#000" textLength="22.90" lengthAdjust="spacingAndGlyphs" stroke="#000" stroke-width="0.2">100</text>
<text x="200.90" y="279.50" font-size="12" text-anchor="middle" fill="#000" textLength="34.73" lengthAdjust="spacingAndGlyphs" stroke="#000" stroke-width="0.2">Y (pc)</text>
<g transform="translate(10.60,131.10) rotate(-90)">
<text x="0.00" y="0.00" font-size="12" text-anchor="middle" fill="#000" textLength="35.62" lengthAdjust="spacingAndGlyphs" stroke="#000" stroke-width="0.2">X (pc)</text>
</g>
<text x="277.60" y="81.10" font-size="11" text-anchor="start" fill="#777" textLength="36.20" lengthAdjust="spacingAndGlyphs" >150 pc</text>
<text x="58.50" y="163.40" font-size="11" text-anchor="start" fill="#777" textLength="36.00" lengthAdjust="spacingAndGlyphs" >300 pc</text>
<rect x="60.90" y="178.60" width="122.40" height="66.20" fill="#fff" stroke="#000" stroke-width="1.1"/>
<text x="75.80" y="191.10" font-size="8.6" text-anchor="start" fill="#d62728" textLength="43.83" lengthAdjust="spacingAndGlyphs" stroke="#d62728" stroke-width="0.06">NGC 2451A</text>
<text x="75.80" y="202.70" font-size="8.6" text-anchor="start" fill="#7f7f7f" textLength="37.83" lengthAdjust="spacingAndGlyphs" stroke="#7f7f7f" stroke-width="0.06">Theia 118</text>
<text x="75.80" y="214.30" font-size="8.6" text-anchor="start" fill="#2ca02c" textLength="101.03" lengthAdjust="spacingAndGlyphs" stroke="#2ca02c" stroke-width="0.06">Theia 118 (UVW selection)</text>
<text x="75.80" y="226.10" font-size="8.6" text-anchor="start" fill="#1f77b4" textLength="36.24" lengthAdjust="spacingAndGlyphs" stroke="#1f77b4" stroke-width="0.06">Crius 178</text>
<text x="75.80" y="237.70" font-size="8.6" text-anchor="start" fill="#ff7f0e" textLength="49.13" lengthAdjust="spacingAndGlyphs" stroke="#ff7f0e" stroke-width="0.06">UVW outliers</text>
<path d="M70.60 186.20L66.60 188.20L70.60 190.20Z" fill="#d62728"/>
<rect x="65.20" y="196.60" width="6.4" height="6.4" fill="none" stroke="#7f7f7f" stroke-width="1.2"/>
<rect x="65.20" y="208.20" width="6.4" height="6.4" fill="none" stroke="#2ca02c" stroke-width="1.2"/>
<circle cx="68.40" cy="223.20" r="3.1" fill="#1f77b4"/>
<path d="M65.20 231.60L71.60 238.00M65.20 238.00L71.60 231.60" stroke="#ff7f0e" stroke-width="1.2"/>
<ellipse cx="564.5" cy="130.5" rx="55.8" ry="46.0" fill="none" stroke="#555" stroke-width="1.05" stroke-dasharray="4.4 3.3"/>
<rect x="463.9" y="171.3" width="6.4" height="6.4" fill="none" stroke="#7f7f7f" stroke-opacity="0.35" stroke-width="1.2"/>
<rect x="468.8" y="181.5" width="6.4" height="6.4" fill="none" stroke="#7f7f7f" stroke-opacity="0.35" stroke-width="1.2"/>
<rect x="463.9" y="187.9" width="6.4" height="6.4" fill="none" stroke="#7f7f7f" stroke-opacity="0.35" stroke-width="1.2"/>
<rect x="479.3" y="190.3" width="6.4" height="6.4" fill="none" stroke="#7f7f7f" stroke-opacity="0.35" stroke-width="1.2"/>
<rect x="490.1" y="200.1" width="6.4" height="6.4" fill="none" stroke="#7f7f7f" stroke-opacity="0.35" stroke-width="1.2"/>
<rect x="498.7" y="199.4" width="6.4" height="6.4" fill="none" stroke="#7f7f7f" stroke-opacity="0.35" stroke-width="1.2"/>
<rect x="418.2" y="194.5" width="6.4" height="6.4" fill="none" stroke="#7f7f7f" stroke-opacity="0.35" stroke-width="1.2"/>
<rect x="492.7" y="234.4" width="6.4" height="6.4" fill="none" stroke="#7f7f7f" stroke-opacity="0.35" stroke-width="1.2"/>
<rect x="423.7" y="240.7" width="6.4" height="6.4" fill="none" stroke="#7f7f7f" stroke-opacity="0.35" stroke-width="1.2"/>
<rect x="427.8" y="244.8" width="6.4" height="6.4" fill="none" stroke="#7f7f7f" stroke-opacity="0.35" stroke-width="1.2"/>
<rect x="533.7" y="190.5" width="6.4" height="6.4" fill="none" stroke="#7f7f7f" stroke-opacity="0.35" stroke-width="1.2"/>
<rect x="501.8" y="195.5" width="6.4" height="6.4" fill="none" stroke="#7f7f7f" stroke-opacity="0.35" stroke-width="1.2"/>
<rect x="680.5" y="31.6" width="6.4" height="6.4" fill="none" stroke="#7f7f7f" stroke-opacity="0.35" stroke-width="1.2"/>
<rect x="674.6" y="87.7" width="6.4" height="6.4" fill="none" stroke="#7f7f7f" stroke-opacity="0.35" stroke-width="1.2"/>
<rect x="625.9" y="128.1" width="6.4" height="6.4" fill="none" stroke="#7f7f7f" stroke-opacity="0.35" stroke-width="1.2"/>
<rect x="618.1" y="154.9" width="6.4" height="6.4" fill="none" stroke="#7f7f7f" stroke-opacity="0.35" stroke-width="1.2"/>
<rect x="617.0" y="157.5" width="6.4" height="6.4" fill="none" stroke="#7f7f7f" stroke-opacity="0.35" stroke-width="1.2"/>
<rect x="626.3" y="128.6" width="6.4" height="6.4" fill="none" stroke="#7f7f7f" stroke-opacity="0.35" stroke-width="1.2"/>
<rect x="550.6" y="157.3" width="6.4" height="6.4" fill="none" stroke="#7f7f7f" stroke-opacity="0.35" stroke-width="1.2"/>
<rect x="544.1" y="166.3" width="6.4" height="6.4" fill="none" stroke="#7f7f7f" stroke-opacity="0.35" stroke-width="1.2"/>
<rect x="540.8" y="171.1" width="6.4" height="6.4" fill="none" stroke="#7f7f7f" stroke-opacity="0.35" stroke-width="1.2"/>
<rect x="512.8" y="161.4" width="6.4" height="6.4" fill="none" stroke="#7f7f7f" stroke-opacity="0.35" stroke-width="1.2"/>
<rect x="534.0" y="189.4" width="6.4" height="6.4" fill="none" stroke="#7f7f7f" stroke-opacity="0.35" stroke-width="1.2"/>
<rect x="499.2" y="190.7" width="6.4" height="6.4" fill="none" stroke="#7f7f7f" stroke-opacity="0.35" stroke-width="1.2"/>
<rect x="608.1" y="100.8" width="6.4" height="6.4" fill="none" stroke="#7f7f7f" stroke-opacity="0.35" stroke-width="1.2"/>
<rect x="609.2" y="119.6" width="6.4" height="6.4" fill="none" stroke="#7f7f7f" stroke-opacity="0.35" stroke-width="1.2"/>
<rect x="435.3" y="119.2" width="6.4" height="6.4" fill="none" stroke="#7f7f7f" stroke-opacity="0.7" stroke-width="1.2"/>
<rect x="442.7" y="186.4" width="6.4" height="6.4" fill="none" stroke="#7f7f7f" stroke-opacity="0.7" stroke-width="1.2"/>
<rect x="442.7" y="199.9" width="6.4" height="6.4" fill="none" stroke="#7f7f7f" stroke-opacity="0.7" stroke-width="1.2"/>
<rect x="451.7" y="168.8" width="6.4" height="6.4" fill="none" stroke="#7f7f7f" stroke-opacity="0.7" stroke-width="1.2"/>
<rect x="462.7" y="163.4" width="6.4" height="6.4" fill="none" stroke="#7f7f7f" stroke-opacity="0.7" stroke-width="1.2"/>
<rect x="487.9" y="187.2" width="6.4" height="6.4" fill="none" stroke="#7f7f7f" stroke-opacity="0.7" stroke-width="1.2"/>
<rect x="498.9" y="192.5" width="6.4" height="6.4" fill="none" stroke="#7f7f7f" stroke-opacity="0.7" stroke-width="1.2"/>
<rect x="492.5" y="169.3" width="6.4" height="6.4" fill="none" stroke="#7f7f7f" stroke-opacity="0.7" stroke-width="1.2"/>
<rect x="506.6" y="162.2" width="6.4" height="6.4" fill="none" stroke="#7f7f7f" stroke-opacity="0.7" stroke-width="1.2"/>
<rect x="513.9" y="175.7" width="6.4" height="6.4" fill="none" stroke="#7f7f7f" stroke-opacity="0.7" stroke-width="1.2"/>
<rect x="672.0" y="136.7" width="6.4" height="6.4" fill="none" stroke="#7f7f7f" stroke-opacity="0.7" stroke-width="1.2"/>
<rect x="620.7" y="104.9" width="6.4" height="6.4" fill="none" stroke="#7f7f7f" stroke-opacity="0.7" stroke-width="1.2"/>
<rect x="609.6" y="100.5" width="6.4" height="6.4" fill="none" stroke="#7f7f7f" stroke-opacity="0.7" stroke-width="1.2"/>
<rect x="621.0" y="105.0" width="6.4" height="6.4" fill="none" stroke="#7f7f7f" stroke-opacity="0.7" stroke-width="1.2"/>
<rect x="522.6" y="91.0" width="6.4" height="6.4" fill="none" stroke="#7f7f7f" stroke-opacity="0.7" stroke-width="1.2"/>
<rect x="465.6" y="132.1" width="6.4" height="6.4" fill="none" stroke="#7f7f7f" stroke-opacity="0.6" stroke-width="1.2"/>
<rect x="487.2" y="138.2" width="6.4" height="6.4" fill="none" stroke="#7f7f7f" stroke-opacity="0.6" stroke-width="1.2"/>
<rect x="419.9" y="164.4" width="6.4" height="6.4" fill="none" stroke="#7f7f7f" stroke-opacity="0.6" stroke-width="1.2"/>
<rect x="463.9" y="157.1" width="6.4" height="6.4" fill="none" stroke="#7f7f7f" stroke-opacity="0.6" stroke-width="1.2"/>
<rect x="503.1" y="171.3" width="6.4" height="6.4" fill="none" stroke="#7f7f7f" stroke-opacity="0.6" stroke-width="1.2"/>
<rect x="503.3" y="171.1" width="6.4" height="6.4" fill="none" stroke="#7f7f7f" stroke-opacity="0.6" stroke-width="1.2"/>
<rect x="515.1" y="110.7" width="6.4" height="6.4" fill="none" stroke="#7f7f7f" stroke-opacity="0.6" stroke-width="1.2"/>
<rect x="508.0" y="141.3" width="6.4" height="6.4" fill="none" stroke="#7f7f7f" stroke-opacity="0.6" stroke-width="1.2"/>
<rect x="487.6" y="138.3" width="6.4" height="6.4" fill="none" stroke="#7f7f7f" stroke-opacity="0.6" stroke-width="1.2"/>
<rect x="657.7" y="94.5" width="6.4" height="6.4" fill="none" stroke="#7f7f7f" stroke-opacity="0.6" stroke-width="1.2"/>
<rect x="663.2" y="102.8" width="6.4" height="6.4" fill="none" stroke="#7f7f7f" stroke-opacity="0.6" stroke-width="1.2"/>
<rect x="658.5" y="108.6" width="6.4" height="6.4" fill="none" stroke="#7f7f7f" stroke-opacity="0.6" stroke-width="1.2"/>
<rect x="687.1" y="104.1" width="6.4" height="6.4" fill="none" stroke="#7f7f7f" stroke-opacity="0.6" stroke-width="1.2"/>
<rect x="658.1" y="94.6" width="6.4" height="6.4" fill="none" stroke="#7f7f7f" stroke-opacity="0.6" stroke-width="1.2"/>
<path d="M471.0 133.2L466.8 135.3L471.0 137.4Z" fill="#d62728" fill-opacity="1"/>
<path d="M492.6 139.3L488.4 141.4L492.6 143.5Z" fill="#d62728" fill-opacity="1"/>
<path d="M425.3 165.5L421.1 167.6L425.3 169.7Z" fill="#d62728" fill-opacity="1"/>
<path d="M469.3 158.2L465.1 160.3L469.3 162.4Z" fill="#d62728" fill-opacity="1"/>
<path d="M508.5 172.4L504.3 174.5L508.5 176.6Z" fill="#d62728" fill-opacity="1"/>
<path d="M508.7 172.2L504.5 174.3L508.7 176.4Z" fill="#d62728" fill-opacity="1"/>
<path d="M520.5 111.8L516.3 113.9L520.5 116.0Z" fill="#d62728" fill-opacity="1"/>
<path d="M513.4 142.4L509.2 144.5L513.4 146.6Z" fill="#d62728" fill-opacity="1"/>
<path d="M493.0 139.4L488.8 141.5L493.0 143.6Z" fill="#d62728" fill-opacity="1"/>
<path d="M663.1 95.6L658.9 97.7L663.1 99.8Z" fill="#d62728" fill-opacity="1"/>
<path d="M668.6 103.9L664.4 106.0L668.6 108.1Z" fill="#d62728" fill-opacity="1"/>
<path d="M663.9 109.7L659.7 111.8L663.9 113.9Z" fill="#d62728" fill-opacity="1"/>
<path d="M692.5 105.2L688.3 107.3L692.5 109.4Z" fill="#d62728" fill-opacity="1"/>
<path d="M663.5 95.7L659.3 97.8L663.5 99.9Z" fill="#d62728" fill-opacity="1"/>
<path d="M575.2 203.0L571.0 205.1L575.2 207.2Z" fill="#d62728" fill-opacity="1"/>
<path d="M566.1 223.5L561.9 225.6L566.1 227.7Z" fill="#d62728" fill-opacity="1"/>
<path d="M537.5 245.0L533.3 247.1L537.5 249.2Z" fill="#d62728" fill-opacity="1"/>
<circle cx="528.0" cy="103.6" r="3.3" fill="#1f77b4" fill-opacity="0.8"/>
<circle cx="532.6" cy="103.6" r="3.3" fill="#1f77b4" fill-opacity="0.8"/>
<circle cx="538.8" cy="107.3" r="3.3" fill="#1f77b4" fill-opacity="0.8"/>
<circle cx="534.6" cy="115.5" r="3.3" fill="#1f77b4" fill-opacity="0.8"/>
<circle cx="511.7" cy="132.3" r="3.3" fill="#1f77b4" fill-opacity="0.8"/>
<circle cx="521.2" cy="135.0" r="3.3" fill="#1f77b4" fill-opacity="0.8"/>
<circle cx="522.0" cy="139.1" r="3.3" fill="#1f77b4" fill-opacity="0.8"/>
<circle cx="531.8" cy="131.8" r="3.3" fill="#1f77b4" fill-opacity="0.8"/>
<circle cx="536.7" cy="135.0" r="3.3" fill="#1f77b4" fill-opacity="0.8"/>
<circle cx="537.5" cy="141.6" r="3.3" fill="#1f77b4" fill-opacity="0.8"/>
<circle cx="537.8" cy="144.8" r="3.3" fill="#1f77b4" fill-opacity="0.8"/>
<circle cx="544.0" cy="133.4" r="3.3" fill="#1f77b4" fill-opacity="0.8"/>
<circle cx="548.1" cy="131.8" r="3.3" fill="#1f77b4" fill-opacity="0.8"/>
<circle cx="553.8" cy="130.2" r="3.3" fill="#1f77b4" fill-opacity="0.8"/>
<circle cx="555.4" cy="144.0" r="3.3" fill="#1f77b4" fill-opacity="0.8"/>
<circle cx="558.7" cy="104.9" r="3.3" fill="#1f77b4" fill-opacity="0.8"/>
<circle cx="558.7" cy="109.8" r="3.3" fill="#1f77b4" fill-opacity="0.8"/>
<circle cx="565.6" cy="95.5" r="3.3" fill="#1f77b4" fill-opacity="0.8"/>
<circle cx="568.9" cy="95.5" r="3.3" fill="#1f77b4" fill-opacity="0.8"/>
<circle cx="582.4" cy="98.3" r="3.3" fill="#1f77b4" fill-opacity="0.8"/>
<circle cx="587.3" cy="97.8" r="3.3" fill="#1f77b4" fill-opacity="0.8"/>
<circle cx="561.2" cy="104.8" r="3.3" fill="#1f77b4" fill-opacity="0.8"/>
<circle cx="559.1" cy="109.5" r="3.3" fill="#1f77b4" fill-opacity="0.8"/>
<circle cx="574.6" cy="108.2" r="3.3" fill="#1f77b4" fill-opacity="0.8"/>
<circle cx="588.4" cy="109.0" r="3.3" fill="#1f77b4" fill-opacity="0.8"/>
<circle cx="587.6" cy="118.8" r="3.3" fill="#1f77b4" fill-opacity="0.8"/>
<circle cx="603.9" cy="122.8" r="3.3" fill="#1f77b4" fill-opacity="0.8"/>
<circle cx="594.1" cy="125.8" r="3.3" fill="#1f77b4" fill-opacity="0.8"/>
<circle cx="561.5" cy="127.7" r="3.3" fill="#1f77b4" fill-opacity="0.8"/>
<circle cx="569.7" cy="128.5" r="3.3" fill="#1f77b4" fill-opacity="0.8"/>
<circle cx="577.8" cy="126.1" r="3.3" fill="#1f77b4" fill-opacity="0.8"/>
<circle cx="581.1" cy="129.3" r="3.3" fill="#1f77b4" fill-opacity="0.8"/>
<circle cx="596.6" cy="132.6" r="3.3" fill="#1f77b4" fill-opacity="0.8"/>
<circle cx="561.5" cy="137.5" r="3.3" fill="#1f77b4" fill-opacity="0.8"/>
<circle cx="567.2" cy="136.7" r="3.3" fill="#1f77b4" fill-opacity="0.8"/>
<circle cx="581.1" cy="144.8" r="3.3" fill="#1f77b4" fill-opacity="0.8"/>
<circle cx="556.3" cy="144.0" r="3.3" fill="#1f77b4" fill-opacity="0.8"/>
<circle cx="605.8" cy="122.8" r="3.3" fill="#1f77b4" fill-opacity="0.8"/>
<circle cx="529.3" cy="147.4" r="3.3" fill="#1f77b4" fill-opacity="0.8"/>
<circle cx="536.7" cy="146.6" r="3.3" fill="#1f77b4" fill-opacity="0.8"/>
<circle cx="581.1" cy="145.8" r="3.3" fill="#1f77b4" fill-opacity="0.8"/>
<circle cx="480.4" cy="156.2" r="3.3" fill="#1f77b4" fill-opacity="0.8"/>
<circle cx="503.6" cy="148.7" r="3.3" fill="#1f77b4" fill-opacity="0.8"/>
<circle cx="506.5" cy="146.6" r="3.3" fill="#1f77b4" fill-opacity="0.8"/>
<circle cx="515.4" cy="148.3" r="3.3" fill="#1f77b4" fill-opacity="0.8"/>
<circle cx="498.2" cy="176.4" r="3.3" fill="#1f77b4" fill-opacity="0.8"/>
<circle cx="524.7" cy="156.8" r="3.3" fill="#1f77b4" fill-opacity="0.8"/>
<circle cx="547.3" cy="96.7" r="3.3" fill="#1f77b4" fill-opacity="0.8"/>
<circle cx="559.1" cy="64.1" r="3.3" fill="#1f77b4" fill-opacity="0.8"/>
<circle cx="559.9" cy="79.2" r="3.3" fill="#1f77b4" fill-opacity="0.8"/>
<circle cx="568.9" cy="81.2" r="3.3" fill="#1f77b4" fill-opacity="0.8"/>
<circle cx="598.2" cy="95.1" r="3.3" fill="#1f77b4" fill-opacity="0.8"/>
<circle cx="610.4" cy="97.8" r="3.3" fill="#1f77b4" fill-opacity="0.8"/>
<circle cx="576.5" cy="102.1" r="3.3" fill="#1f77b4" fill-opacity="0.8"/>
<circle cx="616.1" cy="112.2" r="3.3" fill="#1f77b4" fill-opacity="0.8"/>
<rect x="536.8" y="100.1" width="6.4" height="6.4" fill="none" stroke="#2ca02c" stroke-opacity="0.85" stroke-width="1.2"/>
<rect x="568.1" y="101.7" width="6.4" height="6.4" fill="none" stroke="#2ca02c" stroke-opacity="0.85" stroke-width="1.2"/>
<rect x="585.2" y="105.4" width="6.4" height="6.4" fill="none" stroke="#2ca02c" stroke-opacity="0.85" stroke-width="1.2"/>
<rect x="581.1" y="105.3" width="6.4" height="6.4" fill="none" stroke="#2ca02c" stroke-opacity="0.85" stroke-width="1.2"/>
<rect x="530.2" y="113.9" width="6.4" height="6.4" fill="none" stroke="#2ca02c" stroke-opacity="0.85" stroke-width="1.2"/>
<rect x="533.0" y="119.6" width="6.4" height="6.4" fill="none" stroke="#2ca02c" stroke-opacity="0.85" stroke-width="1.2"/>
<rect x="543.3" y="121.3" width="6.4" height="6.4" fill="none" stroke="#2ca02c" stroke-opacity="0.85" stroke-width="1.2"/>
<rect x="518.0" y="127.0" width="6.4" height="6.4" fill="none" stroke="#2ca02c" stroke-opacity="0.85" stroke-width="1.2"/>
<rect x="528.6" y="127.8" width="6.4" height="6.4" fill="none" stroke="#2ca02c" stroke-opacity="0.85" stroke-width="1.2"/>
<rect x="544.1" y="139.2" width="6.4" height="6.4" fill="none" stroke="#2ca02c" stroke-opacity="0.85" stroke-width="1.2"/>
<rect x="554.7" y="127.8" width="6.4" height="6.4" fill="none" stroke="#2ca02c" stroke-opacity="0.85" stroke-width="1.2"/>
<rect x="556.3" y="113.1" width="6.4" height="6.4" fill="none" stroke="#2ca02c" stroke-opacity="0.85" stroke-width="1.2"/>
<rect x="559.1" y="127.0" width="6.4" height="6.4" fill="none" stroke="#2ca02c" stroke-opacity="0.85" stroke-width="1.2"/>
<rect x="584.4" y="123.7" width="6.4" height="6.4" fill="none" stroke="#2ca02c" stroke-opacity="0.85" stroke-width="1.2"/>
<rect x="586.9" y="127.8" width="6.4" height="6.4" fill="none" stroke="#2ca02c" stroke-opacity="0.85" stroke-width="1.2"/>
<rect x="599.1" y="135.9" width="6.4" height="6.4" fill="none" stroke="#2ca02c" stroke-opacity="0.85" stroke-width="1.2"/>
<rect x="601.5" y="131.8" width="6.4" height="6.4" fill="none" stroke="#2ca02c" stroke-opacity="0.85" stroke-width="1.2"/>
<rect x="568.1" y="135.9" width="6.4" height="6.4" fill="none" stroke="#2ca02c" stroke-opacity="0.85" stroke-width="1.2"/>
<rect x="609.6" y="119.6" width="6.4" height="6.4" fill="none" stroke="#2ca02c" stroke-opacity="0.85" stroke-width="1.2"/>
<rect x="602.6" y="127.8" width="6.4" height="6.4" fill="none" stroke="#2ca02c" stroke-opacity="0.85" stroke-width="1.2"/>
<rect x="602.6" y="132.7" width="6.4" height="6.4" fill="none" stroke="#2ca02c" stroke-opacity="0.85" stroke-width="1.2"/>
<rect x="535.9" y="150.8" width="6.4" height="6.4" fill="none" stroke="#2ca02c" stroke-opacity="0.85" stroke-width="1.2"/>
<rect x="540.8" y="150.8" width="6.4" height="6.4" fill="none" stroke="#2ca02c" stroke-opacity="0.85" stroke-width="1.2"/>
<rect x="544.1" y="151.6" width="6.4" height="6.4" fill="none" stroke="#2ca02c" stroke-opacity="0.85" stroke-width="1.2"/>
<rect x="535.1" y="155.7" width="6.4" height="6.4" fill="none" stroke="#2ca02c" stroke-opacity="0.85" stroke-width="1.2"/>
<rect x="540.0" y="155.7" width="6.4" height="6.4" fill="none" stroke="#2ca02c" stroke-opacity="0.85" stroke-width="1.2"/>
<rect x="552.2" y="148.0" width="6.4" height="6.4" fill="none" stroke="#2ca02c" stroke-opacity="0.85" stroke-width="1.2"/>
<rect x="536.8" y="161.7" width="6.4" height="6.4" fill="none" stroke="#2ca02c" stroke-opacity="0.85" stroke-width="1.2"/>
<rect x="583.6" y="151.3" width="6.4" height="6.4" fill="none" stroke="#2ca02c" stroke-opacity="0.85" stroke-width="1.2"/>
<rect x="561.6" y="154.8" width="6.4" height="6.4" fill="none" stroke="#2ca02c" stroke-opacity="0.85" stroke-width="1.2"/>
<rect x="564.8" y="151.6" width="6.4" height="6.4" fill="none" stroke="#2ca02c" stroke-opacity="0.85" stroke-width="1.2"/>
<rect x="568.1" y="159.4" width="6.4" height="6.4" fill="none" stroke="#2ca02c" stroke-opacity="0.85" stroke-width="1.2"/>
<rect x="552.6" y="148.0" width="6.4" height="6.4" fill="none" stroke="#2ca02c" stroke-opacity="0.85" stroke-width="1.2"/>
<rect x="552.6" y="156.5" width="6.4" height="6.4" fill="none" stroke="#2ca02c" stroke-opacity="0.85" stroke-width="1.2"/>
<rect x="543.3" y="141.8" width="6.4" height="6.4" fill="none" stroke="#2ca02c" stroke-opacity="0.85" stroke-width="1.2"/>
<rect x="608.9" y="119.6" width="6.4" height="6.4" fill="none" stroke="#2ca02c" stroke-opacity="0.85" stroke-width="1.2"/>
<rect x="568.9" y="109.3" width="6.4" height="6.4" fill="none" stroke="#2ca02c" stroke-opacity="0.85" stroke-width="1.2"/>
<rect x="541.6" y="112.3" width="6.4" height="6.4" fill="none" stroke="#2ca02c" stroke-opacity="0.85" stroke-width="1.2"/>
<rect x="521.3" y="142.5" width="6.4" height="6.4" fill="none" stroke="#2ca02c" stroke-opacity="0.85" stroke-width="1.2"/>
<rect x="556.7" y="113.1" width="6.4" height="6.4" fill="none" stroke="#2ca02c" stroke-opacity="0.85" stroke-width="1.2"/>
<rect x="561.9" y="118.0" width="6.4" height="6.4" fill="none" stroke="#2ca02c" stroke-opacity="0.85" stroke-width="1.2"/>
<rect x="568.9" y="118.8" width="6.4" height="6.4" fill="none" stroke="#2ca02c" stroke-opacity="0.85" stroke-width="1.2"/>
<rect x="587.7" y="105.3" width="6.4" height="6.4" fill="none" stroke="#2ca02c" stroke-opacity="0.85" stroke-width="1.2"/>
<rect x="589.3" y="113.1" width="6.4" height="6.4" fill="none" stroke="#2ca02c" stroke-opacity="0.85" stroke-width="1.2"/>
<rect x="599.9" y="127.8" width="6.4" height="6.4" fill="none" stroke="#2ca02c" stroke-opacity="0.85" stroke-width="1.2"/>
<rect x="574.6" y="131.0" width="6.4" height="6.4" fill="none" stroke="#2ca02c" stroke-opacity="0.85" stroke-width="1.2"/>
<rect x="563.2" y="139.2" width="6.4" height="6.4" fill="none" stroke="#2ca02c" stroke-opacity="0.85" stroke-width="1.2"/>
<rect x="563.2" y="142.5" width="6.4" height="6.4" fill="none" stroke="#2ca02c" stroke-opacity="0.85" stroke-width="1.2"/>
<rect x="612.9" y="116.4" width="6.4" height="6.4" fill="none" stroke="#2ca02c" stroke-opacity="0.85" stroke-width="1.2"/>
<rect x="521.3" y="143.4" width="6.4" height="6.4" fill="none" stroke="#2ca02c" stroke-opacity="0.85" stroke-width="1.2"/>
<rect x="530.2" y="151.3" width="6.4" height="6.4" fill="none" stroke="#2ca02c" stroke-opacity="0.85" stroke-width="1.2"/>
<rect x="527.0" y="161.0" width="6.4" height="6.4" fill="none" stroke="#2ca02c" stroke-opacity="0.85" stroke-width="1.2"/>
<rect x="563.2" y="142.6" width="6.4" height="6.4" fill="none" stroke="#2ca02c" stroke-opacity="0.85" stroke-width="1.2"/>
<rect x="568.9" y="108.2" width="6.4" height="6.4" fill="none" stroke="#2ca02c" stroke-opacity="0.85" stroke-width="1.2"/>
<path d="M547.0 113.4L542.8 115.5L547.0 117.6Z" fill="#d62728" fill-opacity="1"/>
<path d="M526.7 143.6L522.5 145.7L526.7 147.8Z" fill="#d62728" fill-opacity="1"/>
<path d="M562.1 114.2L557.9 116.3L562.1 118.4Z" fill="#d62728" fill-opacity="1"/>
<path d="M567.3 119.1L563.1 121.2L567.3 123.3Z" fill="#d62728" fill-opacity="1"/>
<path d="M574.3 119.9L570.1 122.0L574.3 124.1Z" fill="#d62728" fill-opacity="1"/>
<path d="M593.1 106.4L588.9 108.5L593.1 110.6Z" fill="#d62728" fill-opacity="1"/>
<path d="M594.7 114.2L590.5 116.3L594.7 118.4Z" fill="#d62728" fill-opacity="1"/>
<path d="M605.3 128.9L601.1 131.0L605.3 133.1Z" fill="#d62728" fill-opacity="1"/>
<path d="M580.0 132.1L575.8 134.2L580.0 136.3Z" fill="#d62728" fill-opacity="1"/>
<path d="M568.6 140.3L564.4 142.4L568.6 144.5Z" fill="#d62728" fill-opacity="1"/>
<path d="M568.6 143.6L564.4 145.7L568.6 147.8Z" fill="#d62728" fill-opacity="1"/>
<path d="M618.3 117.5L614.1 119.6L618.3 121.7Z" fill="#d62728" fill-opacity="1"/>
<path d="M526.7 144.5L522.5 146.6L526.7 148.7Z" fill="#d62728" fill-opacity="1"/>
<path d="M535.6 152.4L531.4 154.5L535.6 156.6Z" fill="#d62728" fill-opacity="1"/>
<path d="M532.4 162.1L528.2 164.2L532.4 166.3Z" fill="#d62728" fill-opacity="1"/>
<path d="M568.6 143.7L564.4 145.8L568.6 147.9Z" fill="#d62728" fill-opacity="1"/>
<path d="M574.3 109.3L570.1 111.4L574.3 113.5Z" fill="#d62728" fill-opacity="1"/>
<path d="M531.5 133.8L527.3 135.9L531.5 138.0Z" fill="#d62728" fill-opacity="1"/>
<path d="M533.2 137.9L529.0 140.0L533.2 142.1Z" fill="#d62728" fill-opacity="1"/>
<path d="M552.7 132.1L548.5 134.2L552.7 136.3Z" fill="#d62728" fill-opacity="1"/>
<path d="M548.7 137.0L544.5 139.1L548.7 141.2Z" fill="#d62728" fill-opacity="1"/>
<path d="M567.8 123.2L563.6 125.3L567.8 127.4Z" fill="#d62728" fill-opacity="1"/>
<path d="M588.2 125.6L584.0 127.7L588.2 129.8Z" fill="#d62728" fill-opacity="1"/>
<path d="M477.0 152.8L483.8 159.6M477.0 159.6L483.8 152.8" stroke="#ff7f0e" stroke-width="1.5"/>
<path d="M500.2 145.3L507.0 152.1M500.2 152.1L507.0 145.3" stroke="#ff7f0e" stroke-width="1.5"/>
<path d="M503.1 143.2L509.9 150.0M503.1 150.0L509.9 143.2" stroke="#ff7f0e" stroke-width="1.5"/>
<path d="M512.0 144.9L518.8 151.7M512.0 151.7L518.8 144.9" stroke="#ff7f0e" stroke-width="1.5"/>
<path d="M494.8 173.0L501.6 179.8M494.8 179.8L501.6 173.0" stroke="#ff7f0e" stroke-width="1.5"/>
<path d="M521.3 153.4L528.1 160.2M521.3 160.2L528.1 153.4" stroke="#ff7f0e" stroke-width="1.5"/>
<path d="M543.9 93.3L550.7 100.1M543.9 100.1L550.7 93.3" stroke="#ff7f0e" stroke-width="1.5"/>
<path d="M555.7 60.7L562.5 67.5M555.7 67.5L562.5 60.7" stroke="#ff7f0e" stroke-width="1.5"/>
<path d="M556.5 75.8L563.3 82.6M556.5 82.6L563.3 75.8" stroke="#ff7f0e" stroke-width="1.5"/>
<path d="M565.5 77.8L572.3 84.6M565.5 84.6L572.3 77.8" stroke="#ff7f0e" stroke-width="1.5"/>
<path d="M594.8 91.7L601.6 98.5M594.8 98.5L601.6 91.7" stroke="#ff7f0e" stroke-width="1.5"/>
<path d="M607.0 94.4L613.8 101.2M607.0 101.2L613.8 94.4" stroke="#ff7f0e" stroke-width="1.5"/>
<path d="M573.1 98.7L579.9 105.5M573.1 105.5L579.9 98.7" stroke="#ff7f0e" stroke-width="1.5"/>
<path d="M612.7 108.8L619.5 115.6M612.7 115.6L619.5 108.8" stroke="#ff7f0e" stroke-width="1.5"/>
<text x="591.80" y="180.80" font-size="11" text-anchor="start" fill="#666" textLength="34.80" lengthAdjust="spacingAndGlyphs" >3 km s</text>
<text x="627.00" y="175.30" font-size="7.2" text-anchor="start" fill="#666" textLength="8.50" lengthAdjust="spacingAndGlyphs" >−1</text>
<path d="M423.92 253.60v-2.4M423.92 6.80v2.4M442.50 253.60v-2.4M442.50 6.80v2.4M461.08 253.60v-2.4M461.08 6.80v2.4M479.66 253.60v-2.4M479.66 6.80v2.4M498.24 253.60v-2.4M498.24 6.80v2.4M516.82 253.60v-2.4M516.82 6.80v2.4M535.40 253.60v-2.4M535.40 6.80v2.4M553.98 253.60v-2.4M553.98 6.80v2.4M572.56 253.60v-2.4M572.56 6.80v2.4M591.14 253.60v-2.4M591.14 6.80v2.4M609.72 253.60v-2.4M609.72 6.80v2.4M628.30 253.60v-2.4M628.30 6.80v2.4M646.88 253.60v-2.4M646.88 6.80v2.4M665.46 253.60v-2.4M665.46 6.80v2.4M684.04 253.60v-2.4M684.04 6.80v2.4M702.62 253.60v-2.4M702.62 6.80v2.4M442.50 253.60v-4.2M442.50 6.80v4.2M535.40 253.60v-4.2M535.40 6.80v4.2M628.30 253.60v-4.2M628.30 6.80v4.2M416.80 242.16h2.4M714.00 242.16h-2.4M416.80 226.77h2.4M714.00 226.77h-2.4M416.80 211.38h2.4M714.00 211.38h-2.4M416.80 195.99h2.4M714.00 195.99h-2.4M416.80 180.60h2.4M714.00 180.60h-2.4M416.80 165.21h2.4M714.00 165.21h-2.4M416.80 149.82h2.4M714.00 149.82h-2.4M416.80 134.43h2.4M714.00 134.43h-2.4M416.80 119.04h2.4M714.00 119.04h-2.4M416.80 103.65h2.4M714.00 103.65h-2.4M416.80 88.26h2.4M714.00 88.26h-2.4M416.80 72.87h2.4M714.00 72.87h-2.4M416.80 57.48h2.4M714.00 57.48h-2.4M416.80 42.09h2.4M714.00 42.09h-2.4M416.80 26.70h2.4M714.00 26.70h-2.4M416.80 11.31h2.4M714.00 11.31h-2.4M416.80 26.70h4.2M714.00 26.70h-4.2M416.80 103.65h4.2M714.00 103.65h-4.2M416.80 180.60h4.2M714.00 180.60h-4.2" stroke="#000" stroke-width="1.1" fill="none"/>
<rect x="416.80" y="6.80" width="297.20" height="246.80" stroke="#000" stroke-width="1.3" fill="none"/>
<text x="442.50" y="267.60" font-size="12" text-anchor="middle" fill="#000" textLength="19.60" lengthAdjust="spacingAndGlyphs" stroke="#000" stroke-width="0.2">-20</text>
<text x="535.40" y="267.60" font-size="12" text-anchor="middle" fill="#000" textLength="19.60" lengthAdjust="spacingAndGlyphs" stroke="#000" stroke-width="0.2">-15</text>
<text x="628.30" y="267.60" font-size="12" text-anchor="middle" fill="#000" textLength="19.60" lengthAdjust="spacingAndGlyphs" stroke="#000" stroke-width="0.2">-10</text>
<text x="410.60" y="32.00" font-size="12" text-anchor="end" fill="#000" textLength="19.60" lengthAdjust="spacingAndGlyphs" stroke="#000" stroke-width="0.2">-20</text>
<text x="410.60" y="108.95" font-size="12" text-anchor="end" fill="#000" textLength="19.60" lengthAdjust="spacingAndGlyphs" stroke="#000" stroke-width="0.2">-25</text>
<text x="410.60" y="185.90" font-size="12" text-anchor="end" fill="#000" textLength="19.60" lengthAdjust="spacingAndGlyphs" stroke="#000" stroke-width="0.2">-30</text>
<text x="565.40" y="279.50" font-size="12" text-anchor="middle" fill="#000" textLength="50.32" lengthAdjust="spacingAndGlyphs" stroke="#000" stroke-width="0.2">V (km/s)</text>
<g transform="translate(383.00,132.00) rotate(-90)">
<text x="0.00" y="0.00" font-size="12" text-anchor="middle" fill="#000" textLength="50.89" lengthAdjust="spacingAndGlyphs" stroke="#000" stroke-width="0.2">U (km/s)</text>
</g>
<rect x="425.80" y="14.10" width="122.70" height="67.30" fill="#fff" stroke="#000" stroke-width="1.1"/>
<text x="440.30" y="26.90" font-size="8.6" text-anchor="start" fill="#d62728" textLength="43.83" lengthAdjust="spacingAndGlyphs" stroke="#d62728" stroke-width="0.06">NGC 2451A</text>
<text x="440.30" y="38.50" font-size="8.6" text-anchor="start" fill="#7f7f7f" textLength="37.83" lengthAdjust="spacingAndGlyphs" stroke="#7f7f7f" stroke-width="0.06">Theia 118</text>
<text x="440.30" y="50.10" font-size="8.6" text-anchor="start" fill="#2ca02c" textLength="101.03" lengthAdjust="spacingAndGlyphs" stroke="#2ca02c" stroke-width="0.06">Theia 118 (UVW selection)</text>
<text x="440.30" y="61.90" font-size="8.6" text-anchor="start" fill="#1f77b4" textLength="36.24" lengthAdjust="spacingAndGlyphs" stroke="#1f77b4" stroke-width="0.06">Crius 178</text>
<text x="440.30" y="73.50" font-size="8.6" text-anchor="start" fill="#ff7f0e" textLength="49.13" lengthAdjust="spacingAndGlyphs" stroke="#ff7f0e" stroke-width="0.06">UVW outliers</text>
<path d="M435.00 22.00L431.00 24.00L435.00 26.00Z" fill="#d62728"/>
<rect x="429.60" y="32.40" width="6.4" height="6.4" fill="none" stroke="#7f7f7f" stroke-width="1.2"/>
<rect x="429.60" y="44.00" width="6.4" height="6.4" fill="none" stroke="#2ca02c" stroke-width="1.2"/>
<circle cx="432.80" cy="59.00" r="3.1" fill="#1f77b4"/>
<path d="M429.60 67.40L436.00 73.80M429.60 73.80L436.00 67.40" stroke="#ff7f0e" stroke-width="1.2"/>
<text x="84.50" y="303.9" font-family="'Liberation Serif', serif" font-size="12.2" fill="#262626" textLength="15.60" lengthAdjust="spacingAndGlyphs">(a)</text>
<text x="104.50" y="303.9" font-family="'Liberation Serif', serif" font-size="12.2" fill="#262626" textLength="60.40" lengthAdjust="spacingAndGlyphs">NGC2451A</text>
<text x="169.60" y="303.9" font-family="'Liberation Serif', serif" font-size="12.2" fill="#262626" textLength="35.30" lengthAdjust="spacingAndGlyphs">corona</text>
<text x="209.00" y="303.9" font-family="'Liberation Serif', serif" font-size="12.2" fill="#262626" textLength="8.60" lengthAdjust="spacingAndGlyphs">in</text>
<text x="223.40" y="303.9" font-family="'Liberation Serif', serif" font-size="12.2" font-style="italic" fill="#262626" textLength="19.90" lengthAdjust="spacingAndGlyphs">XY</text>
<text x="247.40" y="303.9" font-family="'Liberation Serif', serif" font-size="12.2" fill="#262626" textLength="29.00" lengthAdjust="spacingAndGlyphs">space</text>
<text x="449.60" y="303.9" font-family="'Liberation Serif', serif" font-size="12.2" fill="#262626" textLength="16.10" lengthAdjust="spacingAndGlyphs">(b)</text>
<text x="470.30" y="303.9" font-family="'Liberation Serif', serif" font-size="12.2" fill="#262626" textLength="60.70" lengthAdjust="spacingAndGlyphs">NGC2451A</text>
<text x="535.50" y="303.9" font-family="'Liberation Serif', serif" font-size="12.2" fill="#262626" textLength="34.70" lengthAdjust="spacingAndGlyphs">corona</text>
<text x="574.40" y="303.9" font-family="'Liberation Serif', serif" font-size="12.2" fill="#262626" textLength="9.90" lengthAdjust="spacingAndGlyphs">in</text>
<text x="588.50" y="303.9" font-family="'Liberation Serif', serif" font-size="12.2" font-style="italic" fill="#262626" textLength="19.80" lengthAdjust="spacingAndGlyphs">UV</text>
<text x="611.70" y="303.9" font-family="'Liberation Serif', serif" font-size="12.2" fill="#262626" textLength="28.90" lengthAdjust="spacingAndGlyphs">space</text>
</svg></body></html>
